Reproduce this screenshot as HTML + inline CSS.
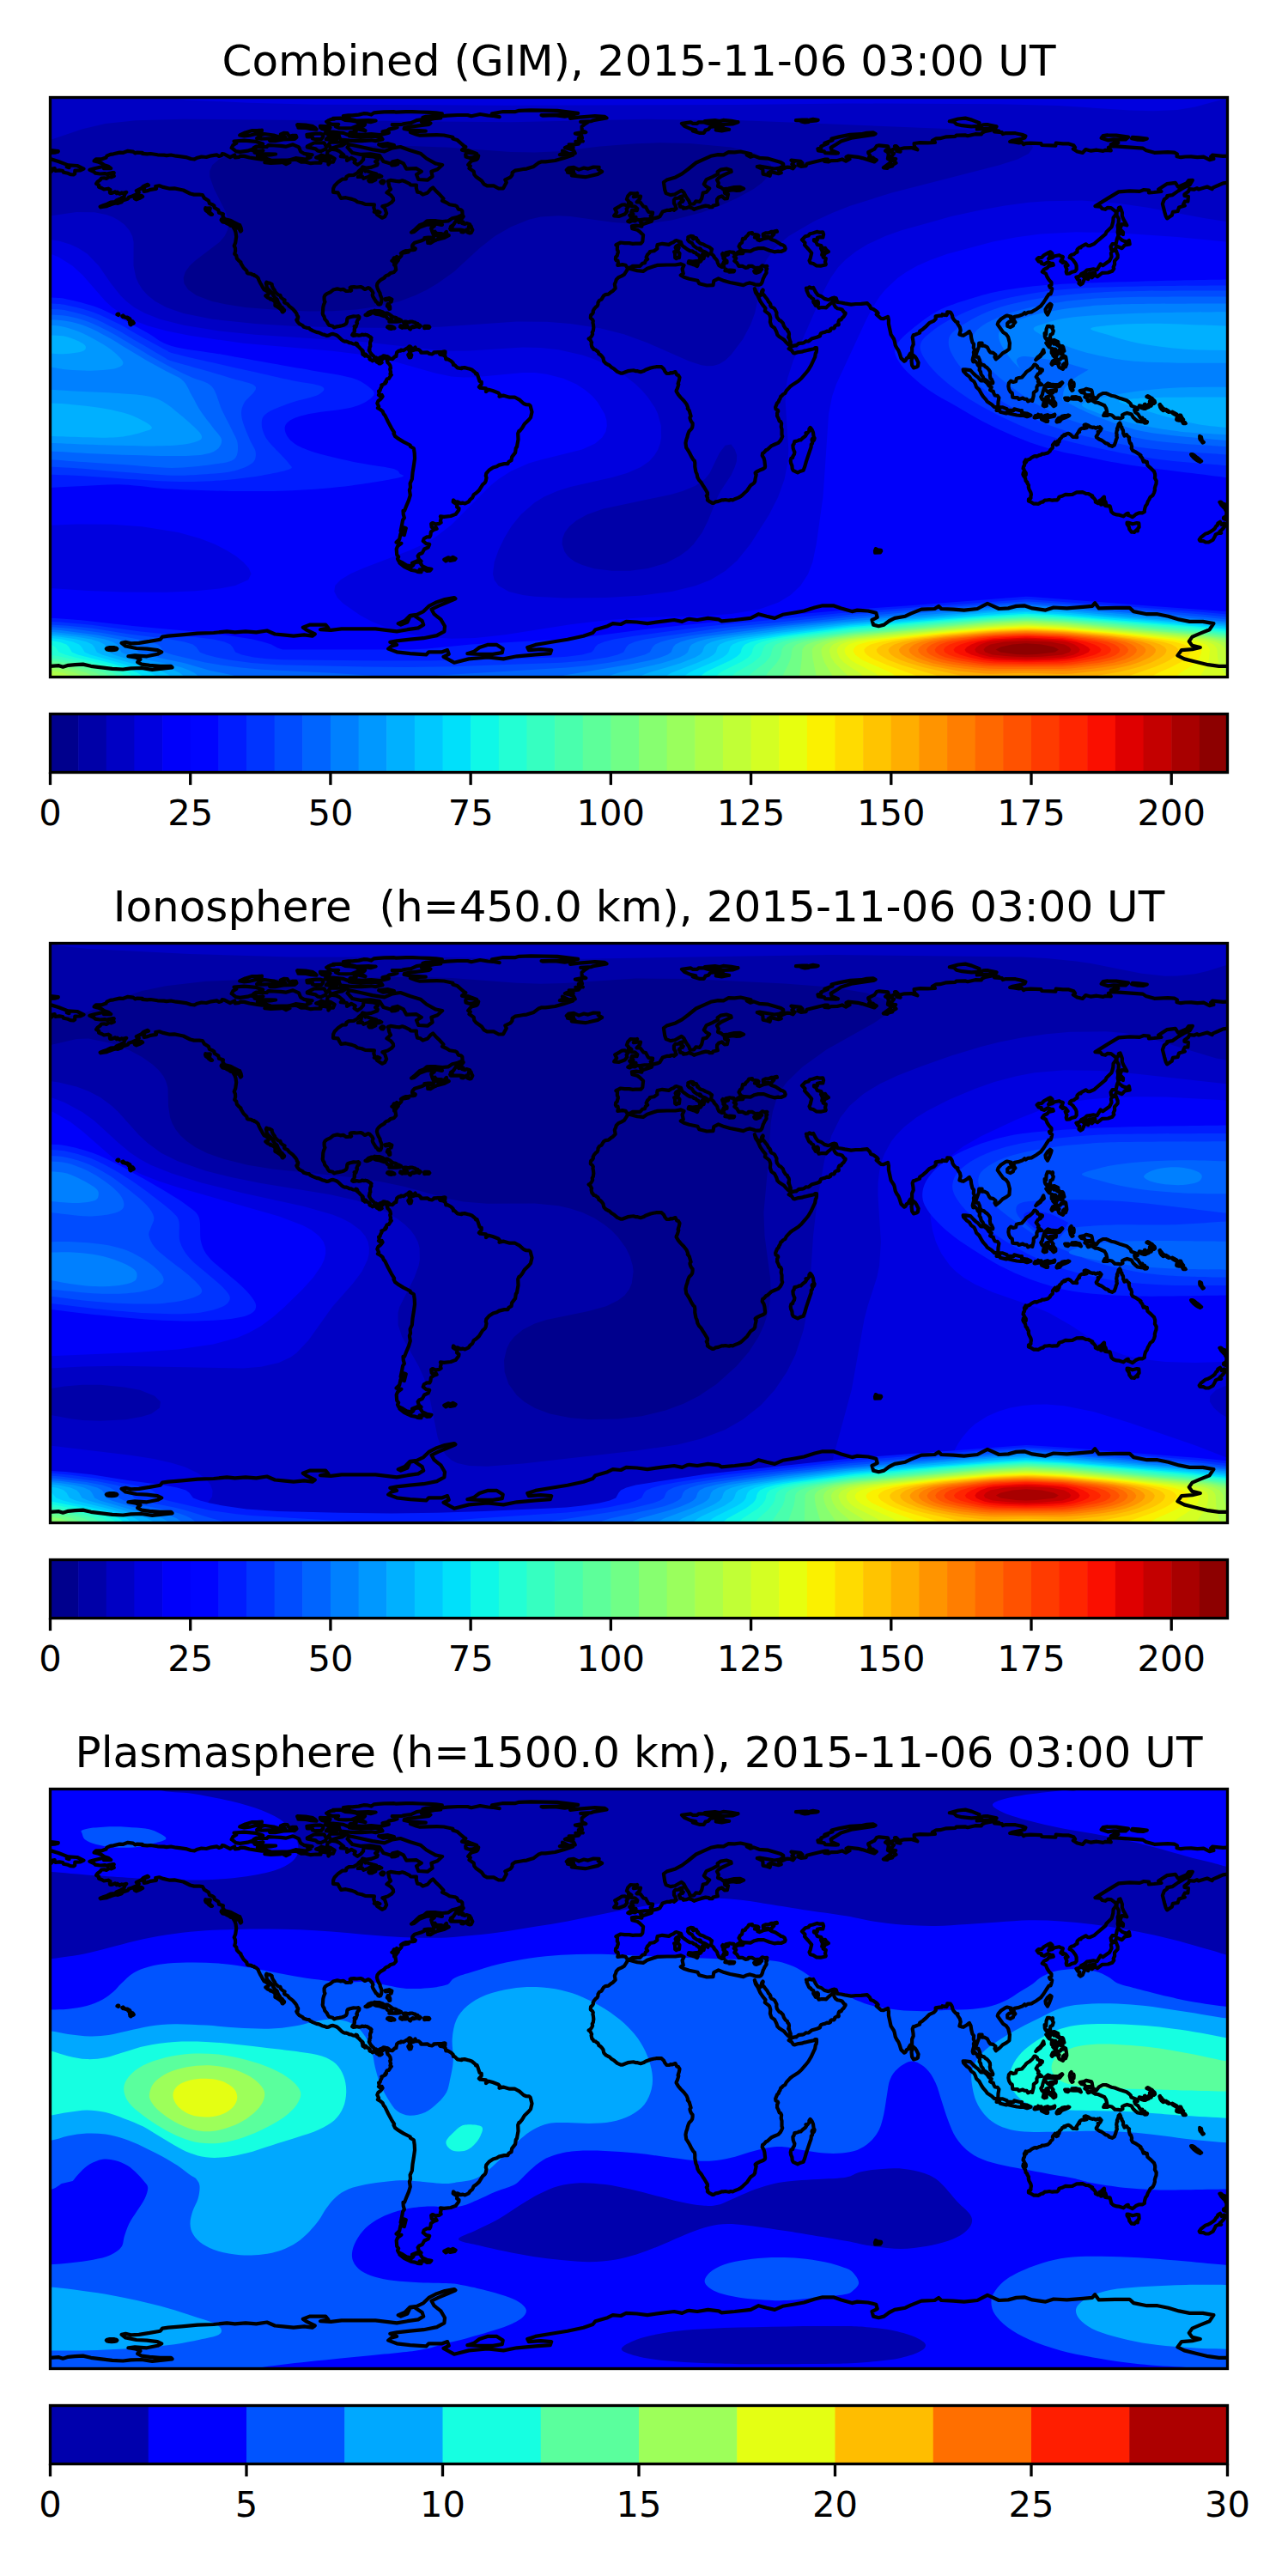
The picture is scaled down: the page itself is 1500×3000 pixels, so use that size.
<!DOCTYPE html><html><head><meta charset="utf-8"><title>TEC maps</title><style>html,body{margin:0;padding:0;background:#fff}svg{display:block}</style></head><body><svg width="1500" height="3000" viewBox="0 0 1500 3000" font-family="'DejaVu Sans','Liberation Sans',sans-serif" fill="#000"><defs><clipPath id="cp"><rect x="0" y="0" width="1371" height="675"/></clipPath><path id="coast" d="M672.3 199.8L674.3 199.3L683.6 201.6L690.5 202.4L695.2 199.3L706.7 195.4L718.3 195.0L728.0 195.0L734.5 193.9L738.0 195.4L736.1 199.7L737.3 205.1L734.2 207.0L738.0 209.3L744.2 211.2L753.9 213.2L755.8 216.7L764.7 219.0L772.0 218.6L772.8 213.6L778.2 210.9L784.8 213.6L791.7 215.5L801.4 217.4L807.2 218.6L811.4 216.7L814.9 215.9L818.7 217.0L821.4 218.2L825.7 218.2L827.6 217.4M829.9 224.0L828.8 225.5L828.0 228.6L827.0 230.6L826.1 231.1L824.9 229.8L823.0 228.2L820.3 222.6L821.4 227.1L824.0 230.9L826.8 237.1L829.6 241.4L833.0 245.6L832.3 248.7L836.9 252.2L837.7 253.0L838.8 256.8L838.4 261.5L840.0 266.1L843.5 268.4L845.8 273.0L846.9 276.5L848.9 278.4L854.3 281.9L856.2 284.2L859.7 287.7L861.6 288.9L862.4 290.0L862.4 291.7L860.1 292.7L861.6 293.5L863.2 294.3L865.5 297.6L867.4 297.8L871.3 296.6L875.1 296.2L878.6 295.1L880.5 294.7L884.0 293.9L889.4 292.7L891.0 291.6L892.5 291.6L892.5 294.7L892.1 297.0L891.3 298.1L890.6 302.4L888.6 306.6L886.3 311.7L882.8 317.5L879.4 321.7L875.1 326.7L871.3 330.2L865.5 333.9L861.6 336.8L857.4 341.4L855.8 344.5L853.1 346.0L852.0 347.6L850.8 348.0L850.0 350.7L848.9 352.2L848.1 354.5L846.5 356.1L844.6 360.7L845.0 363.0L847.3 364.2L847.7 365.3L846.5 367.7L846.7 368.8L846.5 370.7L847.7 373.1L849.2 376.9L850.8 377.7L851.6 379.6L851.2 383.5L852.0 386.6L852.0 392.8L852.7 394.7L851.6 397.4L850.0 400.1L847.7 402.4L843.8 404.0L839.6 405.9L835.3 410.1L833.8 410.5L831.1 413.6L829.6 414.4L829.2 417.1L831.1 420.2L831.9 423.3L832.6 429.5L832.3 431.0L830.3 432.5L827.2 433.7L822.6 436.0L821.1 437.2L821.4 438.7L822.2 439.1L821.8 441.0L821.1 444.1L820.7 447.2L819.5 449.1L816.8 451.1L816.0 451.5L814.5 453.4L813.3 455.3L811.4 458.0L806.8 462.3L804.1 464.6L801.4 466.1L797.1 467.7L795.2 468.8L794.8 468.8L792.5 468.5L790.5 469.2L786.3 468.5L783.9 468.8L782.4 468.8L778.2 470.4L775.1 470.8L772.8 472.3L770.8 472.3L769.3 471.2L768.1 470.8L766.2 469.2L766.2 469.6L765.4 468.8L765.6 466.5L764.3 463.8L765.4 463.1L765.4 460.3L763.1 456.5L761.2 453.4L761.0 453.3L758.1 448.4L755.4 445.3L753.9 442.6L753.1 438.7L751.9 436.0L750.8 430.2L750.8 425.6L750.4 423.3L748.8 421.7L746.9 418.6L744.6 414.0L742.3 410.1L740.7 407.8L740.3 404.7L740.0 402.4L740.7 398.9L741.9 395.5L742.3 393.5L743.4 390.1L744.2 388.5L746.5 386.2L747.7 384.3L748.1 381.6L748.1 379.2L746.9 378.1L745.7 375.8L745.0 373.5L745.0 372.5L746.1 371.1L745.0 367.3L744.2 364.6L742.3 362.3L742.7 361.5L742.3 360.3L741.1 357.2L738.0 353.3L734.2 349.4L731.5 346.2L729.1 342.2L729.3 340.9L730.1 339.7L731.0 336.9L731.8 334.0L731.1 333.4L732.4 329.1L733.0 326.1L731.5 323.5L729.7 322.9L728.9 321.1L727.9 320.5L728.0 319.5L724.0 320.9L722.5 320.7L721.0 321.5L717.9 321.5L715.9 319.0L714.6 316.3L711.9 313.7L708.9 313.7L705.5 313.7L702.4 314.2L699.2 315.0L693.2 317.3L691.1 318.6L687.6 319.7L684.1 318.7L682.4 318.7L679.7 317.9L677.2 318.0L672.6 318.7L669.9 319.7L666.1 321.2L665.4 321.1L664.4 321.1L660.4 319.3L656.9 316.3L653.6 314.2L651.0 311.7L649.9 311.4L647.2 309.9L645.1 307.8L644.5 306.4L644.0 303.6L642.3 301.3L640.8 299.7L639.8 299.2L638.8 298.5L638.4 296.8L637.8 295.9L636.7 295.3L634.7 293.7L633.0 293.4L632.2 292.3L632.2 291.7L631.0 290.9L630.7 290.1L630.1 287.1L630.6 285.4L629.0 282.4L627.1 281.0L628.8 280.3L630.7 277.6L631.6 275.6L631.2 273.5L632.3 271.6L632.8 268.0L632.4 264.2L631.9 262.3L632.3 260.3L631.3 258.5L629.3 256.8L629.4 255.2L629.6 253.4L631.1 252.3L632.4 250.3L632.1 249.0L633.4 246.3L635.6 243.8L636.9 243.2L637.9 241.0L638.0 238.9L639.4 236.5L642.0 235.1L644.4 231.2L646.4 229.6L650.0 229.2L653.1 226.6L655.0 225.5L658.2 222.3L657.3 217.5L658.7 214.2L659.2 212.2L661.7 209.6L665.6 207.8L668.5 206.2L671.1 202.2L672.3 199.8M396.4 304.4L398.4 304.6L401.3 301.9L402.9 301.5L403.0 300.2L403.7 296.9L405.9 295.1L408.3 295.1L408.6 294.2L411.6 294.6L414.7 292.6L416.2 291.7L418.1 289.9L419.4 290.1L420.4 291.2L419.7 292.4L417.2 293.1L418.6 295.6L418.5 297.6L416.8 299.8L418.3 302.9L420.0 302.6L420.8 299.8L419.6 298.5L419.4 295.6L424.2 294.0L423.7 292.2L425.0 291.0L426.4 293.7L429.1 293.7L431.7 295.9L431.8 297.2L435.2 297.2L439.4 296.8L441.6 298.5L444.6 299.0L446.7 297.8L446.8 296.8L451.5 296.6L456.2 296.5L452.9 297.7L454.2 299.5L457.3 299.8L460.2 301.7L460.8 304.8L462.9 304.7L464.4 305.6L466.9 307.0L469.3 309.5L469.4 311.5L470.9 311.6L472.9 313.5L474.4 314.9L479.1 315.6L479.5 314.9L482.6 314.6L486.8 315.7L488.1 316.1L490.9 317.0L495.0 320.3L495.6 321.9L497.0 321.7L497.9 323.8L500.1 330.6L502.2 331.2L502.2 333.9L499.4 337.1L500.6 338.2L507.4 338.8L507.5 342.7L510.5 340.2L515.3 341.6L521.7 343.9L523.6 346.2L523.0 348.3L527.5 347.1L535.0 349.2L540.8 349.0L546.5 352.2L551.4 356.5L554.4 357.7L557.7 357.8L559.1 359.0L560.4 364.0L561.0 366.3L559.5 372.7L557.5 375.2L552.1 380.6L549.6 384.9L546.8 388.3L545.8 388.4L544.7 391.2L545.0 398.4L543.9 404.4L543.5 406.9L542.3 408.4L541.6 413.6L537.7 418.6L537.0 422.7L533.9 424.3L533.0 426.6L528.8 426.6L522.7 428.1L520.0 429.8L515.7 431.0L511.1 434.0L507.8 437.9L507.3 440.7L508.0 442.9L507.2 446.8L506.3 448.6L503.6 450.8L499.4 457.6L496.0 460.7L493.3 462.5L491.6 466.1L489.0 468.3L487.3 470.8L483.0 472.9L480.2 472.1L478.0 472.6L474.5 470.9L471.9 471.0L469.5 468.9L469.2 470.9L474.1 474.2L473.6 476.9L476.0 478.5L475.8 480.4L472.1 485.4L466.4 487.5L458.6 488.3L454.4 487.9L455.2 490.2L454.4 493.1L455.1 495.0L452.8 496.4L448.9 496.9L445.2 495.5L443.7 496.5L444.2 500.4L446.8 501.5L448.9 500.3L450.1 502.3L446.5 503.5L443.4 505.9L442.9 509.8L441.9 511.9L438.3 511.9L435.3 513.8L434.2 516.7L437.9 519.6L441.7 520.4L440.3 523.8L435.7 526.0L433.2 530.5L429.7 532.0L428.1 533.8L429.4 537.9L432.0 540.1L430.3 539.9L426.9 539.9L425.0 540.8L421.5 542.2L420.9 545.8L419.3 545.9L414.9 544.7L410.5 542.0L405.7 539.7L404.5 537.3L405.6 535.0L403.7 532.5L403.2 525.9L404.8 522.2L408.9 519.2L403.0 518.1L406.7 514.6L408.0 508.2L412.3 509.6L414.3 501.6L411.7 500.6L410.5 505.4L408.1 504.8L409.3 499.3L410.6 492.2L412.4 489.5L411.3 485.8L411.0 481.4L412.6 481.3L415.0 475.1L417.6 468.9L419.3 463.1L418.4 457.3L419.5 454.2L419.1 449.4L421.3 444.7L422.0 437.2L423.3 429.2L424.5 420.5L424.2 414.2L423.4 408.8L419.5 406.5L419.2 405.0L411.5 401.1L404.6 396.9L401.6 394.5L400.0 391.3L400.6 390.2L397.4 385.1L393.6 378.0L389.9 370.3L388.3 368.5L387.1 365.7L384.1 363.2L381.4 361.6L382.6 359.9L380.8 356.2L381.9 353.5L385.0 351.1L387.1 348.2L386.2 346.5L384.8 348.3L382.5 346.6L383.3 345.5L382.6 342.0L384.0 341.4L384.7 339.0L386.1 336.5L385.8 334.9L388.0 334.1L390.6 332.6L390.1 331.4L391.5 331.1L391.4 329.2L392.3 327.8L394.2 327.5L395.8 325.1L397.3 323.1L395.9 322.1L396.6 319.9L395.7 316.4L396.5 315.3L395.9 312.1L394.4 310.0L393.1 308.9L392.3 306.8L393.2 305.8L392.2 305.5L391.5 304.2L389.6 303.2L387.9 303.4L387.1 304.8L385.6 305.8L384.7 305.9L384.3 306.7L386.2 308.8L385.1 309.3L384.6 309.8L382.8 310.0L382.1 307.7L381.6 308.4L380.3 308.1L379.6 306.6L378.0 306.3L377.0 305.9L375.3 305.9L375.2 306.8L374.7 306.1L372.6 305.3L371.9 304.5L372.3 303.8L372.2 303.0L371.1 302.0L369.6 301.3L368.2 300.8L368.0 299.7L367.0 299.0L367.2 300.1L366.5 301.0L365.6 300.0L364.3 299.6L363.8 298.8L363.8 297.6L364.3 296.4L363.3 295.8L364.1 295.1L362.8 293.9L361.0 292.3L360.1 291.0L358.5 289.8L356.6 288.1L357.0 287.5L357.7 288.1L357.9 287.8L357.3 286.6L356.1 286.2L355.7 287.1L353.4 287.1L352.1 286.7L350.4 285.9L348.3 285.7L347.2 284.9L345.2 284.2L342.8 284.1L341.1 283.4L339.0 281.8L334.6 277.6L332.6 276.4L329.5 275.4L327.3 275.6L324.2 277.1L322.2 277.5L319.5 276.4L316.6 275.7L313.0 273.9L310.1 273.4L305.8 271.6L302.5 269.8L301.5 268.7L299.4 268.5L295.4 267.3L293.8 265.5L289.7 263.3L287.8 260.9L286.8 259.0L288.1 258.6L287.7 257.5L288.6 256.5L288.6 255.2L287.3 253.5L287.0 251.9L285.7 250.0L282.3 246.1L278.4 243.1L276.5 240.7L273.2 239.1L272.5 238.2L273.1 235.8L271.1 234.9L268.8 233.0L267.9 230.3L265.8 230.0L263.5 228.0L261.7 226.1L261.6 224.9L259.5 222.0L258.1 219.0L258.2 217.5L255.4 216.0L254.1 216.2L251.9 215.1L251.3 216.7L251.9 218.5L252.3 221.4L253.6 223.0L256.5 225.7L257.1 226.6L257.7 226.9L258.2 228.2L258.9 228.1L259.7 230.6L260.8 231.6L261.7 233.0L264.1 235.0L265.4 238.6L266.5 240.3L267.6 242.0L267.8 244.1L269.7 244.2L271.2 246.0L272.6 247.7L272.5 248.4L270.9 249.8L270.2 249.8L269.2 247.4L266.7 245.2L263.9 243.4L261.9 242.4L262.0 239.6L261.5 237.5L259.6 236.3L257.0 234.5L256.4 235.0L255.5 234.0L253.1 233.1L250.8 230.9L251.1 230.6L252.7 230.8L254.1 229.3L254.3 227.6L251.3 224.8L249.0 223.8L247.6 221.4L246.2 218.8L244.4 215.7L242.8 212.3L242.1 210.3L239.7 208.1L237.9 207.6L237.4 206.5L235.3 206.3L233.9 205.3L230.3 204.9L229.3 204.3L228.9 202.1L225.1 198.3L221.9 192.9L222.0 192.0L220.3 190.7L217.3 187.5L216.8 184.3L214.7 182.2L215.6 179.0L215.5 175.7L214.2 172.7L215.7 169.1L216.7 162.1L216.0 157.0L214.7 153.6L213.6 151.9L214.1 151.1L219.7 152.4L221.7 156.0L222.7 155.0L222.1 151.9L220.8 148.7L220.2 148.7L212.8 144.9L210.0 143.2L203.0 141.6L200.9 138.2L201.4 135.8L196.5 134.2L195.8 131.1L191.1 128.3L191.0 126.3L188.9 124.8L185.5 123.6L184.4 120.2L179.4 117.1L177.3 113.5L173.6 113.2L167.5 113.1L163.0 112.0L155.0 108.0L151.3 107.2L144.6 105.9L139.2 106.2L131.6 104.4L127.0 102.8L122.7 103.6L123.5 106.3L121.4 106.6L116.9 107.3L113.5 108.6L109.2 109.4L108.7 107.2L110.4 103.4L114.5 102.2L113.5 101.3L108.5 103.4L105.9 106.0L100.3 108.7L103.2 110.6L99.5 113.3L95.4 115.0L91.5 116.2L90.5 117.9L84.5 119.9L83.3 121.7L78.8 123.3L76.1 123.0L72.5 124.1L68.6 125.4L65.4 126.7L58.7 127.8L58.2 127.2L62.4 125.4L66.2 124.2L70.3 122.1L75.1 121.6L77.0 120.0L82.3 117.7L83.2 116.9L86.0 115.6L86.7 112.7L88.7 110.4L84.2 111.5L83.0 110.9L80.9 112.3L78.4 110.3L77.3 111.7L75.8 109.8L72.0 111.3L69.6 111.3L69.3 109.0L70.0 107.6L67.5 106.2L62.5 107.0L59.2 105.2L56.6 104.2L56.6 102.1L53.6 100.4L55.1 98.2L58.2 96.0L59.6 94.0L62.8 93.8L65.4 94.4L68.5 92.5L71.3 92.8L74.3 91.6L73.5 89.9L71.4 89.2L74.2 87.7L71.9 87.7L67.8 88.6L66.6 89.4L63.5 88.6L58.1 89.0L52.4 88.1L50.8 86.5L45.9 84.3L51.3 82.7L60.0 80.8L63.1 80.8L62.6 82.7L70.8 82.6L67.6 80.2L62.9 78.7L60.1 76.8L56.4 75.2L51.1 73.9L53.3 71.9L60.1 71.8L65.0 70.0L65.9 68.1L69.9 66.3L73.6 65.8L80.9 64.1L84.5 64.4L90.4 62.3L96.3 63.1L99.1 64.9L100.8 64.1L107.3 64.4L107.1 65.3L113.0 65.9L116.9 65.5L125.1 66.8L132.5 67.1L135.5 67.6L140.6 67.0L146.5 68.2L150.7 68.7L157.9 69.6L163.9 71.5L168.0 71.8L171.4 70.2L176.1 69.0L181.8 69.5L187.6 67.8L193.9 66.9L196.5 68.4L199.4 67.5L200.3 65.7L202.9 66.1L209.5 69.6L214.6 67.0L215.2 69.9L219.9 69.3L221.4 68.1L226.0 68.4L232.0 70.0L241.0 71.4L246.3 72.1L250.1 71.8L255.3 73.8L249.9 75.7L256.8 76.5L267.2 76.0L270.5 75.4L274.7 77.7L278.9 75.7L274.9 74.1L277.4 72.8L282.1 72.6L285.2 72.2L288.3 73.1L292.2 75.2L296.5 74.9L303.4 76.7L309.3 76.0L315.0 76.2L314.5 73.8L318.0 73.1L323.9 74.4L323.9 78.1L326.4 75.0L329.5 75.1L331.2 71.2L327.1 68.8L322.6 67.2L322.9 63.0L327.5 60.2L332.6 60.8L336.5 62.5L341.7 66.9L338.3 68.7L345.5 69.5L345.5 73.5L350.6 70.4L355.2 72.9L354.1 75.8L357.8 78.4L361.8 75.6L364.6 72.3L364.9 68.0L370.4 68.3L376.1 68.9L381.3 70.8L381.5 72.7L378.6 74.8L381.3 76.9L380.8 78.7L373.3 81.4L367.9 82.0L363.9 80.9L362.8 82.8L359.0 86.1L357.9 87.7L353.4 90.4L347.9 90.6L344.9 92.3L344.6 94.8L340.1 95.2L335.4 98.4L331.2 102.7L329.7 105.8L329.5 110.3L335.1 110.9L336.9 114.5L338.7 117.4L344.1 116.7L351.3 118.4L355.1 119.8L357.9 121.7L362.8 122.7L366.8 124.4L373.2 124.6L377.4 124.9L376.8 128.3L378.0 132.2L380.8 136.5L386.5 140.2L389.5 138.9L391.6 134.9L389.6 128.8L386.9 126.8L393.0 125.0L397.4 122.3L399.6 119.6L399.3 117.0L396.6 113.7L391.9 110.8L396.5 106.8L394.8 103.3L393.5 97.2L396.2 96.4L402.8 97.4L406.8 97.8L410.0 96.8L413.6 98.1L418.3 100.3L419.5 101.8L426.4 102.1L426.3 105.4L427.6 110.2L431.1 110.8L433.9 113.1L439.5 111.0L443.2 106.7L445.7 104.9L448.8 108.4L453.8 113.3L458.0 117.9L456.5 120.3L461.6 122.5L465.1 124.7L471.2 125.7L473.7 126.9L475.3 130.2L478.3 130.7L479.8 132.2L480.1 136.5L477.3 138.0L474.5 139.3L468.2 140.7L463.3 143.9L456.8 144.5L448.5 143.7L442.7 143.7L438.7 143.9L435.5 146.7L430.6 148.4L425.0 153.6L420.6 157.1L423.8 156.4L430.0 151.4L438.1 148.2L443.9 147.8L447.3 149.7L443.7 152.3L444.9 156.4L446.2 159.3L451.2 161.3L457.6 160.7L461.4 156.4L461.7 159.2L464.2 160.6L459.4 163.1L450.9 165.4L447.0 167.0L442.7 169.7L439.8 169.5L439.6 166.2L446.3 163.0L440.1 163.1L435.9 163.6L436.6 164.9L432.4 166.7L428.4 168.1L424.4 169.2L422.3 171.5L421.7 172.4L421.6 174.4L422.9 176.5L424.5 176.6L424.1 175.1L425.3 176.0L424.9 177.1L422.3 177.7L420.5 177.7L417.6 178.3L415.9 178.5L413.7 178.7L410.5 179.9L416.2 179.1L417.3 179.9L411.9 181.0L409.4 181.0L409.6 180.5L408.4 181.6L409.5 181.8L408.7 184.6L405.9 187.5L405.6 186.5L404.7 186.3L403.5 185.4L404.3 187.5L405.2 188.2L405.3 189.6L404.0 191.1L401.9 194.2L401.5 194.0L402.7 191.4L400.8 189.9L400.3 186.7L399.6 188.4L400.4 190.9L397.8 190.2L400.5 191.5L400.6 195.1L401.8 195.4L402.1 196.8L402.7 200.6L400.3 203.5L396.2 204.6L393.7 206.9L391.8 207.2L389.8 208.6L389.3 209.9L385.0 212.4L382.9 214.2L381.0 216.5L380.4 219.2L381.1 221.9L382.4 225.2L384.1 228.0L384.2 229.6L386.0 234.1L385.8 236.7L385.7 238.2L384.7 240.6L383.6 241.1L381.7 240.6L381.1 238.9L379.6 238.0L377.5 234.7L375.7 231.7L375.2 230.2L376.0 227.7L374.9 225.5L371.9 222.3L370.4 221.7L366.5 223.5L365.8 223.3L363.9 221.5L361.5 220.5L357.1 221.0L353.7 220.6L350.7 220.8L349.2 221.4L349.9 222.5L349.8 224.0L350.6 224.8L349.9 225.3L348.4 224.7L347.0 225.5L344.2 225.3L341.3 223.3L337.9 223.8L335.1 222.9L332.7 223.2L329.5 224.1L326.0 226.9L322.1 228.6L320.0 230.4L319.1 232.2L319.1 234.8L319.3 236.7L320.0 238.0L318.5 241.4L317.8 244.2L317.5 249.4L317.2 251.3L317.8 253.3L319.0 255.2L319.8 258.2L322.4 261.1L323.3 263.3L324.8 265.2L328.9 266.2L330.5 267.9L333.9 266.8L336.8 266.4L339.7 265.7L342.1 265.0L344.6 263.5L345.5 261.2L345.8 257.9L346.5 256.8L349.1 255.8L353.2 254.9L356.6 255.0L359.0 254.7L359.9 255.5L359.7 257.4L357.7 259.7L356.8 262.0L357.5 262.7L356.9 264.4L355.9 267.4L355.0 266.4L354.1 266.5L354.1 267.1L354.9 267.1L354.8 268.1L354.2 269.8L354.5 270.4L354.1 271.8L354.4 272.1L353.9 274.1L353.2 275.1L352.5 275.2L351.7 276.6L353.0 277.3L353.3 276.7L354.4 277.2L354.8 277.3L355.7 276.7L356.8 276.6L357.2 276.9L357.7 276.7L359.5 277.1L361.3 277.0L362.6 276.6L363.0 276.1L364.3 276.3L365.2 276.6L366.2 276.5L367.0 276.2L368.7 276.7L369.3 276.7L370.5 277.5L371.6 278.4L373.0 279.0L374.0 280.0L373.7 280.4L373.5 281.2L373.9 282.7L373.0 284.0L372.6 285.5L372.5 287.2L372.7 288.2L372.8 290.0L372.2 290.3L371.8 292.0L372.1 293.0L371.3 294.0L371.5 295.1L372.1 295.7L373.1 297.8L374.5 299.3L376.3 301.0L377.7 302.4L377.7 303.2L379.2 303.4L379.6 303.0L380.6 304.0L382.5 303.7L384.2 302.7L386.5 302.0L387.9 300.8L390.0 301.0L389.8 301.4L392.0 301.5L393.7 302.2L395.0 303.4L396.4 304.4M672.5 198.8L670.0 195.3L666.4 194.6L660.8 195.5L661.4 192.5L661.0 190.1L659.3 189.8L658.4 188.3L658.7 185.8L660.2 184.4L660.5 182.8L661.3 180.5L661.2 178.9L660.4 177.5L660.3 176.2L660.5 173.4L658.9 171.7L664.3 169.0L669.1 169.7L674.3 169.7L678.4 170.3L681.6 170.1L687.8 170.2L689.8 167.9L690.6 160.2L686.5 156.2L683.7 154.2L677.8 152.7L677.4 149.9L682.4 149.1L688.9 150.1L687.7 145.7L691.3 147.3L700.3 144.3L701.5 141.2L704.8 140.4L707.9 139.6L709.9 138.6L713.3 132.9L718.6 131.3L721.8 131.4L722.6 130.6L725.8 130.3L726.5 131.2L729.1 129.3L728.3 127.8L728.1 125.7L726.5 123.5L726.4 119.6L727.1 118.5L728.1 117.4L731.5 117.1L732.9 116.1L736.0 115.0L735.9 116.9L734.7 118.2L735.2 119.3L737.3 119.9L736.4 121.3L735.2 120.9L732.4 123.7L733.5 125.6L733.5 127.1L737.4 128.0L737.4 129.3L741.3 128.6L743.5 127.6L747.9 129.1L749.7 130.3L752.3 129.2L758.3 127.4L763.2 126.1L767.1 126.7L767.4 127.7L771.1 127.7L772.0 126.0L777.3 124.8L776.5 121.5L776.6 118.6L778.5 116.2L782.1 114.9L785.2 117.8L788.3 117.7L789.0 114.7L789.5 112.5L788.1 112.9L785.6 111.6L785.3 109.3L790.2 108.3L795.0 107.7L799.2 108.3L803.2 108.2L807.6 106.1L803.6 104.3L796.6 104.6L789.8 106.0L783.5 106.8L781.2 104.7L777.5 103.4L778.3 99.6L776.5 96.1L778.3 93.9L781.8 91.5L790.7 87.3L793.2 86.5L792.8 84.8L787.5 83.0L780.8 84.1L777.1 86.8L777.7 89.2L771.5 92.3L764.1 95.6L761.3 101.0L764.0 103.7L767.7 105.9L764.2 110.3L760.2 111.1L758.7 117.6L756.5 121.3L751.8 120.9L749.6 123.9L745.1 124.1L743.9 120.5L740.7 116.1L737.8 110.6L735.2 108.3L727.5 112.7L722.4 113.6L717.1 111.6L715.7 107.5L714.4 98.6L718.0 96.1L728.2 92.9L735.8 88.9L742.9 83.5L752.2 76.0L758.6 73.1L769.2 68.3L777.7 66.6L784.1 66.8L790.0 63.6L797.0 63.8L803.9 63.0L816.0 65.8L811.1 66.9L815.3 69.3L819.2 67.9L825.6 70.3L836.2 71.2L850.8 75.6L853.7 77.4L854.0 80.0L849.7 82.0L843.4 83.0L826.2 80.1L823.3 80.6L829.6 83.4L829.9 85.2L830.1 89.2L835.1 90.3L838.1 91.3L838.6 89.5L836.3 87.8L838.7 86.4L848.1 88.7L851.3 87.8L848.7 85.0L857.7 81.2L861.3 81.4L864.9 82.8L867.1 80.1L863.9 77.8L865.8 75.5L863.0 73.1L873.8 74.3L876.0 76.5L871.1 77.0L871.1 79.1L874.2 80.4L880.1 79.6L881.1 77.2L889.1 75.3L902.6 72.0L905.5 72.2L901.7 74.5L906.5 74.9L909.3 73.6L916.5 73.5L922.2 71.9L926.6 74.2L931.0 71.7L927.0 69.4L929.0 68.2L940.4 69.3L945.8 70.6L959.7 75.0L962.3 72.9L958.4 70.9L958.3 70.1L953.6 69.7L954.9 67.9L952.8 64.8L952.7 63.6L959.9 60.1L962.4 56.6L965.3 55.8L975.5 56.8L976.3 59.0L972.6 62.1L975.0 63.4L976.3 66.1L975.4 71.4L979.7 73.7L978.0 76.3L970.4 81.8L974.8 82.4L976.4 81.0L980.6 80.0L981.7 78.1L985.0 76.2L982.8 74.0L984.6 71.5L980.3 71.2L979.4 69.0L982.5 65.2L977.5 62.0L984.4 59.4L983.5 56.7L985.4 56.6L987.4 58.7L985.9 62.4L990.1 63.1L988.3 60.4L994.8 58.8L1002.8 58.6L1009.9 60.8L1006.5 57.6L1006.1 53.5L1012.8 52.7L1022.1 52.9L1030.5 52.4L1027.3 50.4L1031.8 47.8L1036.2 47.7L1043.7 45.8L1053.9 45.3L1055.2 44.2L1065.4 43.9L1068.5 44.7L1077.2 42.7L1084.3 42.8L1085.4 41.1L1089.0 39.4L1098.2 37.8L1104.8 39.1L1099.5 40.0L1108.3 40.7L1109.3 42.6L1112.8 41.6L1124.1 41.7L1132.8 43.6L1135.9 45.0L1135.0 47.0L1130.7 48.2L1120.6 50.3L1117.7 51.4L1122.4 52.0L1128.2 52.9L1131.6 52.2L1133.6 54.7L1135.3 53.7L1141.5 53.1L1153.9 53.7L1154.8 55.5L1170.9 56.1L1171.2 53.1L1179.4 53.8L1185.5 53.8L1191.8 55.8L1193.5 58.3L1191.3 59.9L1196.1 63.0L1202.2 64.5L1205.9 60.5L1212.1 62.2L1218.7 61.2L1226.2 62.4L1229.0 61.3L1235.3 61.8L1232.5 58.2L1237.6 56.6L1272.5 59.1L1275.8 61.4L1285.9 64.3L1301.5 63.6L1309.2 64.2L1312.4 65.8L1312.0 68.7L1316.7 69.7L1321.9 69.0L1328.7 68.9L1336.0 69.6L1343.3 69.2L1350.1 72.6L1354.9 71.4L1351.7 68.9L1353.4 67.2L1365.7 68.3L1373.8 68.0L1384.9 69.9L1390.3 71.6M0.0 71.6L9.5 74.5L19.6 78.4L19.3 80.8L21.9 81.7L21.0 78.9L31.4 79.5L39.0 83.1L35.2 84.8L28.8 85.2L28.7 89.0L27.2 89.8L23.6 89.7L20.7 88.3L15.5 87.2L14.6 85.5L10.7 84.9L6.3 85.4L4.2 84.0L5.1 82.6L0.5 83.5L2.2 85.3L0.0 87.0M1390.3 87.0L1385.3 88.7L1380.3 88.4L1383.8 90.4L1386.1 93.7L1387.9 94.7L1388.3 96.3L1387.3 97.3L1380.1 96.5L1369.3 99.4L1365.9 99.8L1360.0 102.5L1354.4 104.9L1353.0 106.7L1347.4 104.0L1337.4 107.0L1335.6 105.6L1331.9 107.2L1326.7 106.7L1325.5 109.3L1320.9 113.0L1321.0 114.5L1325.4 115.4L1324.9 121.0L1321.3 121.2L1319.6 124.4L1321.3 126.1L1314.5 128.1L1313.1 132.5L1307.4 133.4L1306.2 137.3L1300.7 140.9L1299.2 138.3L1297.6 132.6L1295.4 124.0L1297.3 118.7L1300.6 116.4L1300.8 114.6L1306.7 113.7L1313.6 108.9L1320.3 104.9L1327.2 101.8L1330.3 96.4L1325.7 96.7L1323.3 99.9L1313.5 104.1L1310.4 99.4L1300.4 100.7L1290.7 107.1L1293.9 109.5L1285.3 110.5L1279.4 110.9L1279.6 108.1L1273.6 107.5L1268.8 109.4L1257.0 108.8L1244.3 109.9L1231.8 117.4L1217.0 126.6L1223.1 127.1L1225.0 129.5L1228.7 130.3L1231.2 128.4L1235.4 128.6L1241.0 132.9L1241.2 136.2L1238.1 140.0L1237.8 144.6L1236.1 150.8L1230.2 156.4L1229.0 159.1L1223.7 163.6L1218.5 168.0L1216.0 170.3L1210.9 172.6L1208.4 172.6L1206.0 170.8L1200.8 173.6L1200.2 174.9L1198.8 174.6L1197.1 176.0L1195.9 177.3L1196.1 180.0L1194.1 180.9L1193.4 181.6L1191.9 182.7L1189.4 183.3L1187.7 184.4L1187.6 186.1L1187.1 186.5L1188.6 187.1L1190.8 188.8L1194.2 193.4L1195.1 195.9L1195.2 200.3L1193.7 202.4L1190.2 203.2L1187.1 204.8L1183.7 205.1L1183.2 203.0L1183.9 200.1L1182.2 196.1L1185.1 195.5L1182.4 192.1L1180.6 191.4L1180.1 192.1L1179.0 192.4L1178.8 191.7L1177.8 191.4L1176.8 190.7L1177.9 189.0L1178.8 188.6L1178.4 187.9L1179.4 185.8L1179.1 185.2L1176.9 184.8L1175.1 183.7L1169.7 184.8L1166.8 186.6L1162.6 187.7L1164.7 185.9L1163.9 184.4L1167.0 181.8L1164.9 179.8L1161.6 181.2L1157.2 183.8L1154.8 186.3L1151.0 186.5L1149.1 188.3L1151.1 190.9L1154.3 191.6L1154.4 193.3L1157.4 194.4L1161.8 191.7L1165.2 193.2L1167.7 193.3L1168.3 195.3L1162.8 196.4L1161.1 198.5L1157.3 200.4L1155.3 203.1L1159.5 205.2L1161.0 209.0L1163.3 212.6L1166.0 215.5L1165.9 218.4L1163.5 219.4L1164.4 221.5L1166.7 222.7L1166.1 225.8L1165.1 228.9L1163.0 229.2L1160.1 233.5L1157.0 238.5L1153.4 243.1L1148.1 246.7L1142.7 249.9L1138.4 250.4L1136.0 252.1L1134.7 250.8L1132.5 252.8L1127.1 254.7L1123.0 255.3L1121.7 259.4L1119.5 259.6L1118.5 256.8L1119.4 255.3L1114.3 254.0L1112.4 254.7L1107.3 258.0L1104.1 261.6L1103.2 264.3L1106.2 268.4L1109.8 273.4L1113.3 275.8L1115.6 278.9L1117.4 286.1L1116.9 292.9L1113.7 295.4L1109.2 297.9L1106.1 301.1L1101.3 304.7L1099.9 302.2L1101.0 299.6L1098.1 297.4L1094.9 296.9L1093.3 294.9L1091.3 290.8L1087.9 289.1L1084.6 289.1L1085.1 286.1L1081.7 286.1L1081.4 290.4L1079.3 296.0L1078.1 299.5L1078.3 302.2L1080.9 302.4L1082.4 305.9L1083.1 309.2L1085.3 311.4L1087.6 311.9L1089.6 313.9L1090.5 314.2L1092.8 316.6L1094.4 319.2L1094.6 321.8L1094.2 323.5L1094.6 324.9L1094.9 327.1L1096.2 328.2L1097.8 331.6L1097.7 332.9L1094.9 333.2L1091.3 330.3L1086.7 327.3L1086.3 325.3L1084.1 322.7L1083.5 319.5L1082.1 317.4L1082.5 314.6L1081.7 313.0L1080.2 311.5L1079.5 309.6L1077.5 307.4L1075.6 305.6L1074.9 307.8L1074.2 305.7L1074.6 303.3L1075.8 299.6L1075.4 296.7L1076.6 293.7L1075.3 291.5L1075.6 287.3L1074.0 285.2L1072.8 280.6L1072.1 275.7L1070.4 272.5L1067.9 274.5L1063.5 277.3L1061.3 276.9L1058.9 276.0L1060.2 271.2L1059.4 267.6L1056.4 263.1L1056.9 261.7L1054.6 261.2L1051.9 258.1L1050.8 256.1L1050.6 254.1L1049.8 252.3L1048.2 250.0L1044.7 249.8L1045.0 251.5L1043.8 253.6L1042.2 252.8L1041.6 253.5L1040.5 253.1L1039.0 252.7L1038.4 254.2L1035.8 254.1L1031.1 254.9L1031.3 257.8L1029.2 260.1L1023.7 262.7L1019.3 267.2L1016.4 269.7L1012.6 272.2L1012.6 274.0L1010.6 274.9L1007.2 276.3L1005.3 276.5L1004.2 279.5L1005.0 284.5L1005.2 287.7L1003.6 291.3L1003.6 297.9L1001.6 298.1L999.8 301.0L1001.0 302.3L997.5 303.4L996.2 306.1L994.6 307.1L990.9 303.6L989.2 298.1L987.7 294.2L986.3 292.4L984.3 288.7L983.3 283.9L982.6 281.5L979.1 276.2L977.5 268.7L976.4 263.7L976.4 259.1L975.6 255.4L970.1 257.7L967.3 257.3L962.2 252.6L964.1 251.2L963.0 249.7L958.5 246.4L955.6 245.5L954.5 242.7L951.5 239.7L944.4 240.4L938.1 240.5L932.7 241.1L925.4 239.9L921.2 239.0L916.8 238.5L915.2 233.8L913.3 233.1L910.3 233.8L906.5 235.7L901.7 234.4L897.8 231.4L894.1 230.3L891.5 226.7L888.7 221.5L886.6 222.1L884.2 220.8L882.7 222.3L880.4 222.1L881.2 223.9L880.9 224.7L882.2 227.7L883.7 231.0L885.6 231.9L886.2 233.2L888.8 234.8L889.1 236.4L888.7 237.7L889.2 239.0L890.3 240.1L890.8 241.4L891.4 242.3L891.1 239.5L892.2 237.5L893.2 237.1L894.4 238.3L894.5 240.5L893.6 242.8L894.4 244.3L895.1 244.1L895.2 245.2L898.2 244.5L901.4 244.7L903.7 244.8L906.4 242.1L909.3 239.7L911.7 237.3L912.8 236.0L913.3 236.3L912.9 237.9L912.4 238.6L913.0 241.7L914.7 244.3L916.8 245.7L919.7 246.2L922.0 246.9L923.7 249.1L924.7 250.4L926.1 250.9L926.1 251.8L924.7 254.1L924.1 255.2L922.5 256.4L921.0 259.0L919.3 258.8L918.5 259.8L917.9 261.7L918.3 264.3L918.0 264.8L916.2 264.7L913.8 266.2L913.4 268.1L912.5 268.9L910.1 268.9L908.6 269.8L908.6 271.4L906.8 272.5L904.6 272.1L902.0 273.4L900.3 273.6L897.5 274.7L896.7 276.4L896.6 277.7L892.8 279.3L886.6 281.1L883.2 283.9L881.5 284.0L880.3 283.8L878.0 285.4L875.6 286.2L872.3 286.4L871.4 286.6L870.5 287.6L869.5 287.9L868.9 288.9L867.0 288.8L865.8 289.3L863.1 289.1L862.1 286.9L862.2 284.7L861.6 283.6L860.8 280.8L859.7 279.2L860.5 279.0L860.1 277.2L860.5 276.5L860.4 274.8L859.9 273.2L858.7 272.0L858.4 270.5L856.4 269.1L854.3 265.8L853.3 262.7L850.6 260.0L848.9 259.4L846.3 255.7L845.8 253.0L846.0 250.7L843.8 246.4L842.0 244.9L839.9 244.1L838.6 241.9L838.9 241.1L837.8 239.1L836.7 238.2L835.2 235.3L832.8 232.2L830.8 229.6L828.9 229.6L829.5 227.4L829.7 226.1L830.2 224.5M827.5 217.4L828.6 216.1L829.4 214.1L830.2 211.1L830.7 210.2L832.2 207.0L834.1 204.3L833.8 201.2L834.8 199.6L833.3 197.8L834.8 196.4L832.4 196.7L829.2 195.8L826.6 198.0L820.7 198.5L817.6 196.4L813.4 196.3L812.5 197.9L809.9 198.4L806.1 196.3L801.9 196.3L799.6 192.5L796.8 190.4L798.7 187.3L796.2 185.5L800.5 181.8L806.5 181.7L808.1 178.7L815.5 179.2L820.1 176.7L824.6 175.6L831.0 175.6L837.7 178.3L843.3 179.8L847.7 179.2L851.1 179.5L855.6 177.5L856.2 175.9L855.2 173.2L853.0 171.8L850.9 171.4L849.5 170.2L844.5 166.9L840.1 165.4L836.8 163.2L839.6 162.6L842.8 159.3L840.6 157.8L846.4 156.3L846.2 155.4L842.8 156.0L839.7 156.3L837.1 157.6L833.5 157.8L830.2 159.2L830.4 161.6L832.3 162.6L836.2 162.3L835.5 163.7L831.3 164.4L826.0 166.6L823.9 165.8L824.7 164.0L820.5 162.9L821.2 162.1L824.9 160.9L823.8 160.0L817.7 159.0L817.5 157.5L813.9 158.0L812.5 160.2L809.5 163.0L809.6 164.0L807.7 164.8L806.5 164.5L805.5 169.1L803.4 170.7L802.0 173.5L803.3 175.7L803.8 177.2L807.1 178.4L806.4 179.4L801.8 179.6L800.2 180.8L797.0 182.9L795.7 181.0L795.8 180.3L793.4 180.2L791.4 179.8L786.7 180.8L789.4 183.0L787.5 183.6L785.3 183.6L783.2 181.6L782.6 182.4L783.4 184.8L785.3 186.6L783.9 187.4L786.0 189.2L788.0 190.3L788.0 192.5L784.4 191.5L785.6 193.4L783.1 193.8L784.6 197.3L782.0 197.3L778.8 195.6L777.4 192.6L776.7 190.0L775.2 188.2L773.2 186.0L773.0 184.9L772.3 184.6L772.2 183.8L770.1 182.5L769.8 180.6L770.1 178.0L770.6 176.8L770.0 176.2L769.2 175.9L768.1 174.6L766.4 173.9L762.8 172.4L760.5 171.0L757.0 169.9L753.7 167.1L754.6 166.8L752.8 165.1L752.7 163.8L750.2 163.2L749.0 164.9L747.9 163.6L748.0 162.3L749.0 161.9L745.9 161.3L742.8 162.7L743.0 164.6L742.5 165.7L743.8 167.6L747.4 169.6L749.3 172.8L753.6 175.9L756.7 175.9L757.6 176.7L756.5 177.5L760.0 178.9L762.8 180.0L766.1 182.1L766.5 182.8L765.8 184.2L763.7 182.4L760.3 181.7L758.7 184.2L761.5 185.7L761.0 187.7L759.4 187.9L757.3 191.2L755.7 191.5L755.7 190.4L756.5 188.3L757.4 187.5L755.9 185.2L754.7 183.3L753.1 182.8L751.9 181.1L749.5 180.4L747.8 178.8L744.9 178.6L741.9 176.9L738.4 174.3L735.7 172.1L734.5 168.3L732.6 167.8L729.5 166.6L727.7 167.1L725.5 168.9L723.9 169.2L720.4 171.4L712.8 170.3L707.1 171.5L706.7 173.9L706.9 176.1L703.2 178.7L698.3 179.5L697.9 180.8L695.6 183.0L694.1 186.1L695.6 188.3L693.3 190.0L692.5 192.6L689.6 193.3L686.9 196.3L678.3 196.3L675.9 197.7L673.5 198.9L672.5 198.8M514.6 18.8L527.5 16.5L541.1 16.7L546.0 15.3L559.6 14.9L590.5 15.4L614.6 18.4L607.5 19.9L592.7 20.1L572.0 20.5L573.9 21.2L587.6 20.7L599.2 22.1L606.7 20.9L609.9 22.3L605.7 24.5L615.5 23.1L634.3 21.6L645.8 22.3L648.0 24.0L632.2 26.7L630.1 27.6L617.7 28.3L626.7 28.5L622.2 31.3L619.1 33.8L619.2 38.1L623.8 40.6L617.8 40.8L611.4 42.0L618.6 44.0L619.5 47.3L615.3 47.7L620.3 51.0L611.8 51.3L616.3 52.8L615.0 54.2L609.5 54.8L604.1 54.8L609.0 57.4L609.0 59.2L601.4 57.5L599.4 58.6L604.6 59.6L609.7 61.9L611.2 65.0L604.2 65.8L601.3 64.3L596.5 62.1L597.8 64.7L593.4 66.7L603.5 66.9L608.8 67.1L598.5 70.4L588.0 73.5L576.7 74.8L572.4 74.8L568.4 76.3L563.1 80.4L554.8 83.1L552.1 83.3L546.9 84.2L541.4 85.1L538.1 87.5L538.0 90.2L536.1 92.8L529.8 95.9L531.3 98.9L529.6 102.1L527.6 105.8L522.2 106.0L516.5 102.9L508.8 102.9L505.0 100.8L502.4 97.0L495.8 92.2L493.8 89.7L493.3 86.2L487.9 82.6L489.3 79.8L486.7 78.4L490.5 73.9L496.3 72.5L497.9 70.9L498.7 67.9L494.3 69.2L492.2 69.8L488.7 70.4L484.0 69.1L483.7 66.5L485.2 64.4L488.8 64.3L496.7 65.4L490.0 63.0L486.6 61.6L482.7 62.1L479.5 61.2L483.8 57.6L481.5 56.2L478.4 53.5L473.8 49.4L468.8 47.9L468.9 46.3L458.5 44.0L450.3 43.7L440.0 43.9L430.6 44.2L426.1 42.9L419.4 40.5L429.5 39.3L437.3 39.1L420.8 38.1L412.1 36.5L412.6 35.0L427.2 33.2L441.4 31.3L442.9 29.9L432.5 28.5L435.8 27.0L449.2 24.3L454.8 23.9L453.2 22.1L462.4 21.1L474.2 20.5L486.1 20.5L490.3 21.7L500.6 19.5L509.8 21.0L515.2 21.3L523.2 22.6L514.0 20.5L514.6 18.8M639.1 81.3L638.2 83.8L642.6 86.4L637.6 89.4L626.5 92.0L623.1 92.7L618.0 92.1L607.3 90.9L611.0 89.2L602.6 87.3L609.5 86.6L609.3 85.4L601.2 84.5L603.8 82.0L609.7 81.4L615.7 84.1L621.5 82.0L626.4 83.1L632.7 81.0L639.1 81.3M683.6 111.5L679.4 115.7L683.3 115.1L687.6 115.2L686.6 118.3L683.1 121.8L687.1 122.0L690.9 127.0L693.5 127.6L695.9 132.0L697.0 133.5L701.6 134.2L701.2 136.7L699.2 137.8L700.8 139.8L697.3 141.9L692.1 141.9L685.5 142.9L683.7 142.1L681.2 143.9L677.6 143.5L674.9 145.0L672.8 144.2L678.5 140.2L682.0 139.3L675.9 138.7L674.8 137.1L678.9 135.9L676.7 133.9L677.5 131.3L683.2 131.7L683.8 129.5L681.1 127.0L676.5 126.3L675.5 125.3L676.9 123.5L675.7 122.5L673.6 124.3L673.4 120.6L671.4 118.6L672.8 114.6L675.8 111.5L678.9 111.8L683.6 111.5M671.2 129.9L671.9 132.7L668.9 136.1L662.1 138.4L656.6 137.8L659.7 133.8L657.7 129.8L663.0 126.8L665.9 125.0L669.2 124.9L673.3 127.3L671.2 129.9M886.5 386.1L887.5 387.7L888.5 390.3L889.1 394.9L890.1 396.7L889.7 398.6L889.0 399.7L887.7 397.4L887.0 398.6L887.7 401.5L887.4 403.1L886.3 404.0L886.1 407.2L884.5 411.8L882.7 417.1L880.3 424.4L878.8 429.8L877.1 434.2L873.9 435.2L870.5 436.8L868.3 435.8L865.2 434.4L864.2 432.4L863.9 428.9L862.6 425.9L862.2 423.1L862.9 420.3L864.7 419.6L864.7 418.4L866.5 415.4L866.9 413.0L866.0 411.1L865.2 408.7L864.9 405.2L866.3 403.0L866.8 400.6L868.7 400.4L870.9 399.6L872.3 398.9L874.0 398.9L876.2 396.7L879.4 394.3L880.6 392.3L880.0 390.7L881.6 391.1L883.8 388.5L883.9 386.2L885.1 384.4L886.5 386.1M1249.6 391.1L1251.0 394.1L1253.4 392.6L1254.7 394.3L1256.6 395.8L1256.2 397.5L1257.0 400.8L1257.6 402.7L1258.6 403.2L1259.6 406.5L1259.2 408.5L1260.5 411.1L1264.7 413.2L1267.4 415.0L1270.0 416.7L1269.5 417.6L1271.7 420.0L1273.2 424.2L1274.8 423.3L1276.3 425.0L1277.3 424.4L1277.9 428.5L1280.7 430.9L1282.4 432.4L1285.5 435.5L1286.6 438.6L1286.7 440.8L1286.4 443.2L1288.2 446.5L1288.0 449.9L1287.3 451.7L1286.3 455.1L1286.4 457.3L1285.6 460.1L1283.9 463.6L1281.1 465.5L1279.6 468.5L1278.4 470.4L1277.2 473.7L1275.7 475.7L1274.8 478.6L1274.3 481.2L1274.4 482.5L1272.2 483.8L1267.9 483.9L1264.3 485.5L1262.6 487.0L1260.2 488.7L1257.0 487.0L1254.7 486.3L1255.3 484.3L1253.2 485.0L1249.8 487.8L1246.5 486.8L1244.3 486.1L1242.0 485.9L1238.3 484.8L1235.8 482.4L1235.1 479.4L1234.2 475.9L1232.3 475.9L1228.6 475.4L1229.8 473.6L1228.9 470.7L1227.0 473.4L1223.6 474.1L1225.6 472.0L1226.2 469.7L1227.7 467.8L1227.4 465.0L1224.2 468.3L1221.8 469.6L1220.3 472.7L1217.3 471.1L1217.4 469.0L1215.0 466.2L1213.0 464.8L1213.7 463.9L1208.8 461.5L1206.1 461.4L1202.3 459.6L1195.4 459.9L1190.4 462.4L1186.0 462.6L1182.3 462.4L1178.2 464.3L1174.9 465.2L1174.2 467.2L1172.7 468.8L1169.4 468.9L1167.0 469.2L1163.6 468.5L1160.8 469.0L1158.2 469.2L1155.9 471.2L1154.8 471.0L1152.8 472.1L1150.9 473.3L1148.2 473.2L1145.6 473.2L1141.4 470.7L1139.4 470.0L1139.5 467.8L1141.4 467.3L1142.0 466.4L1141.9 465.0L1142.4 462.3L1141.9 460.0L1139.9 456.1L1139.3 453.9L1139.4 451.7L1137.9 449.2L1137.8 448.1L1136.1 446.5L1135.6 443.5L1133.4 440.4L1132.9 438.8L1134.6 440.5L1133.3 436.9L1135.2 438.0L1136.3 439.5L1136.3 437.5L1134.3 434.5L1134.0 433.2L1133.1 432.1L1133.5 429.9L1134.3 428.9L1134.8 427.0L1134.4 424.7L1136.0 422.0L1136.3 424.9L1137.9 422.2L1141.1 421.0L1143.0 419.3L1145.9 417.9L1147.7 417.6L1148.7 418.1L1151.8 416.6L1154.1 416.2L1154.7 415.3L1155.7 415.0L1157.9 415.1L1161.9 413.9L1164.0 412.2L1165.0 410.2L1167.2 408.2L1167.4 406.7L1167.5 404.5L1170.2 401.3L1171.8 404.6L1173.5 403.8L1172.1 402.0L1173.3 400.1L1175.0 401.0L1175.5 398.1L1177.6 396.2L1178.6 394.6L1180.5 394.0L1180.6 392.9L1182.3 393.3L1182.3 392.4L1184.0 391.8L1185.9 391.3L1188.7 393.1L1190.9 395.4L1193.3 395.4L1195.7 395.7L1194.9 393.6L1196.8 390.5L1198.5 389.5L1197.9 388.6L1199.6 386.4L1201.9 385.0L1203.9 385.4L1207.2 384.7L1207.1 382.7L1204.2 381.4L1206.3 380.9L1208.9 381.9L1210.9 383.5L1214.2 384.4L1215.3 384.0L1217.7 385.2L1219.9 384.1L1221.4 384.5L1222.3 383.7L1224.1 385.6L1223.0 387.7L1221.6 389.2L1220.2 389.4L1220.7 390.9L1219.5 392.8L1218.2 394.8L1218.5 395.9L1221.5 398.0L1224.5 399.2L1226.5 400.6L1229.3 402.8L1230.4 402.8L1232.4 403.8L1233.0 405.0L1236.7 406.3L1239.2 405.0L1240.0 402.9L1240.7 401.2L1241.2 399.1L1242.4 396.0L1241.9 394.2L1242.2 393.0L1241.7 390.8L1242.2 387.9L1242.9 387.1L1242.4 385.8L1243.3 383.8L1244.0 381.7L1244.1 380.6L1245.6 379.1L1246.6 381.0L1246.9 383.4L1247.9 383.9L1248.0 385.5L1249.4 387.5L1249.7 389.7L1249.6 391.1M1256.7 495.5L1260.4 496.8L1262.5 496.3L1265.5 495.5L1267.8 495.8L1268.1 500.4L1266.8 501.7L1266.4 504.8L1265.0 503.8L1262.4 506.4L1261.6 506.2L1259.2 506.1L1256.8 502.8L1256.3 500.2L1254.1 496.9L1254.1 495.1L1256.7 495.5M1378.3 492.7L1376.8 494.7L1374.9 497.4L1371.9 498.9L1371.3 497.9L1369.6 497.3L1371.9 494.2L1370.6 492.1L1366.4 490.5L1366.6 489.1L1369.3 487.8L1370.0 484.8L1369.8 482.3L1368.3 479.7L1368.4 479.0L1366.5 477.4L1363.5 474.0L1361.9 471.3L1363.3 471.0L1365.4 473.1L1368.4 474.1L1369.5 477.6L1372.3 481.6L1372.4 479.0L1374.1 480.0L1374.7 483.0L1377.8 484.2L1380.4 484.5L1382.6 483.1L1384.6 483.5L1383.6 486.9L1382.5 489.2L1379.5 489.1L1378.5 490.3L1378.8 491.9L1378.3 492.7M1350.4 506.2L1353.7 504.1L1356.1 502.1L1357.8 499.2L1359.2 498.2L1359.8 496.1L1362.5 494.3L1363.4 496.0L1364.2 497.5L1367.0 496.0L1368.1 497.6L1368.1 499.2L1366.7 501.0L1364.1 503.9L1362.2 505.4L1363.6 507.3L1360.6 507.3L1357.3 508.8L1356.3 511.3L1354.1 515.2L1351.0 517.0L1349.1 518.0L1345.5 518.0L1343.0 516.7L1338.9 516.4L1338.2 515.0L1340.3 512.1L1345.1 508.3L1347.6 507.6L1350.4 506.2M1239.6 194.5L1238.1 197.6L1238.8 199.5L1236.8 202.2L1231.9 204.0L1225.1 204.3L1219.6 208.7L1217.0 207.2L1216.8 204.3L1210.1 205.1L1205.6 207.0L1201.0 207.0L1204.9 209.9L1202.3 216.5L1199.9 218.1L1198.0 216.6L1198.9 213.1L1196.5 212.0L1194.9 209.3L1198.6 208.2L1200.6 205.7L1204.5 203.7L1207.3 201.1L1215.0 199.9L1219.1 200.7L1223.2 193.9L1225.8 195.7L1231.4 191.8L1233.6 190.3L1236.0 185.6L1235.4 181.3L1237.0 178.8L1241.1 178.1L1243.2 183.5L1243.1 186.6L1239.5 190.5L1239.6 194.5M1250.9 167.3L1253.6 168.2L1256.4 166.5L1257.2 170.9L1251.5 171.9L1248.1 175.7L1242.0 173.1L1240.0 177.3L1235.7 177.4L1235.1 173.6L1237.0 170.6L1241.2 170.4L1242.3 165.0L1243.4 162.0L1248.0 166.0L1250.9 167.3M1215.1 206.0L1215.6 207.3L1213.4 209.7L1211.8 208.5L1209.9 209.4L1208.8 211.6L1206.3 210.5L1206.4 208.7L1208.5 206.4L1210.7 206.8L1212.3 205.2L1215.1 206.0M1249.9 141.9L1253.8 148.8L1248.1 147.5L1245.7 153.1L1249.5 157.0L1249.4 159.7L1246.5 157.4L1243.9 160.4L1243.2 157.1L1243.6 153.4L1243.2 149.2L1244.1 146.3L1244.3 141.2L1242.0 137.3L1242.3 132.1L1245.9 130.3L1244.4 128.5L1246.1 127.9L1247.1 130.5L1248.4 134.2L1248.3 138.0L1249.9 141.9M1163.1 249.9L1161.5 253.1L1159.4 249.8L1159.0 246.9L1161.3 243.1L1164.4 240.2L1166.1 241.4L1165.5 243.7L1163.1 249.9M1121.3 265.8L1118.0 267.6L1114.8 266.4L1114.7 263.1L1116.6 261.4L1120.8 260.3L1123.0 260.4L1123.9 261.8L1122.2 263.5L1121.3 265.8M1011.0 308.9L1010.4 312.9L1008.8 314.0L1005.5 314.9L1003.6 311.8L1003.0 306.3L1004.7 300.0L1007.4 302.1L1009.1 304.9L1011.0 308.9M1103.8 360.5L1099.5 360.6L1096.3 357.4L1091.3 354.2L1089.7 351.9L1086.8 348.7L1084.8 345.8L1081.9 340.4L1078.5 337.2L1077.4 333.9L1075.9 330.9L1072.5 328.5L1070.5 325.1L1067.5 323.0L1063.5 318.7L1063.2 316.8L1065.7 316.9L1071.6 317.6L1075.1 321.4L1078.0 324.1L1080.2 325.7L1083.8 329.8L1087.8 329.9L1091.0 332.5L1093.2 335.8L1096.2 337.5L1094.6 340.7L1096.8 342.0L1098.2 342.1L1098.9 344.8L1100.2 347.0L1103.1 347.3L1104.9 349.7L1104.0 354.6L1103.8 360.5M1102.1 364.4L1105.6 364.6L1106.3 366.3L1113.3 367.9L1114.9 367.4L1122.1 369.3L1125.8 370.0L1129.9 370.3L1133.3 370.2L1137.6 371.7L1142.0 370.2L1137.3 368.0L1131.6 367.3L1131.5 364.6L1130.0 364.8L1122.7 362.9L1122.1 364.5L1114.6 364.1L1114.1 362.7L1109.4 360.9L1104.7 360.7L1102.1 364.4M1150.4 321.9L1148.2 325.4L1151.1 329.1L1150.4 330.9L1154.7 334.4L1150.1 334.9L1148.9 337.5L1149.0 341.0L1145.3 343.7L1145.2 347.5L1143.7 353.4L1143.1 352.1L1138.7 353.8L1137.2 351.4L1134.5 351.2L1132.6 350.0L1128.0 351.4L1126.5 349.5L1124.0 349.7L1120.8 349.2L1120.2 344.1L1118.3 343.0L1116.5 339.7L1115.9 336.3L1116.4 332.7L1118.7 330.2L1121.5 331.5L1124.5 330.8L1125.3 327.5L1126.9 326.8L1131.5 326.0L1134.3 322.9L1136.2 320.4L1137.7 319.0L1141.0 316.9L1144.0 314.2L1146.0 311.2L1147.5 311.2L1149.5 313.1L1149.7 314.8L1152.2 315.9L1155.4 317.0L1155.2 318.5L1152.6 318.7L1153.3 320.6L1150.4 321.9M1178.8 332.4L1175.7 336.3L1172.8 337.0L1169.1 336.3L1162.7 336.5L1159.3 337.0L1158.7 339.9L1162.2 343.4L1164.3 341.6L1171.5 340.3L1171.2 342.1L1169.5 341.5L1167.8 343.8L1164.4 345.3L1168.1 350.2L1167.4 351.6L1170.8 356.0L1170.8 358.5L1168.7 359.7L1167.2 358.3L1169.1 355.1L1165.3 356.7L1164.3 355.6L1164.8 354.1L1162.1 351.8L1162.3 348.1L1159.8 349.2L1160.1 353.8L1160.3 359.3L1157.8 359.8L1156.2 358.7L1157.2 355.1L1156.7 351.4L1155.0 351.4L1153.8 348.7L1155.4 346.2L1156.0 343.1L1157.9 337.3L1158.7 335.7L1162.0 332.9L1165.0 334.0L1169.9 334.5L1174.3 334.4L1178.2 331.6L1178.8 332.4M1213.2 342.4L1214.3 348.6L1218.3 350.9L1221.5 346.8L1225.9 344.5L1229.4 344.5L1232.7 345.8L1235.6 347.2L1239.7 348.0L1246.4 350.6L1253.5 352.8L1256.2 354.8L1258.3 356.8L1258.9 359.0L1265.4 361.4L1266.3 363.5L1262.7 363.9L1263.6 366.5L1267.0 369.0L1269.5 373.1L1271.8 373.0L1271.6 374.6L1274.6 375.3L1273.4 376.0L1277.5 377.7L1277.1 378.8L1274.6 379.1L1273.6 378.0L1270.3 377.6L1266.4 377.0L1263.4 374.6L1261.2 372.4L1259.2 369.1L1254.1 367.4L1250.9 368.5L1248.5 369.8L1249.0 372.6L1246.0 374.0L1243.8 373.3L1239.8 373.1L1236.4 370.0L1232.5 369.2L1231.5 370.3L1226.6 370.4L1228.3 367.3L1230.7 366.2L1229.7 362.0L1227.8 358.7L1220.3 355.5L1217.1 355.1L1211.3 351.6L1210.2 353.4L1208.7 353.8L1207.9 352.4L1207.8 350.7L1204.9 348.8L1209.1 347.4L1211.8 347.5L1211.5 346.5L1205.8 346.5L1204.3 344.2L1200.8 343.4L1199.2 341.6L1204.4 340.6L1206.4 339.4L1212.6 340.9L1213.2 342.4M1163.7 266.5L1166.1 267.6L1167.3 266.6L1167.6 267.6L1167.0 269.1L1168.3 271.9L1167.3 275.1L1165.0 276.4L1164.4 279.5L1165.3 282.6L1167.3 283.0L1169.0 282.5L1173.8 284.7L1173.5 286.8L1174.7 287.7L1174.3 289.5L1171.3 287.6L1169.9 285.6L1168.9 287.0L1166.4 284.7L1163.0 285.2L1161.0 284.4L1161.2 282.8L1162.4 281.8L1161.3 280.9L1160.8 282.3L1158.9 280.1L1158.3 278.4L1158.1 274.7L1159.7 276.0L1160.1 270.0L1161.4 266.4L1163.7 266.5M1183.2 305.4L1183.6 308.0L1183.8 310.2L1182.5 313.7L1181.1 309.8L1179.3 311.7L1180.5 314.6L1179.4 316.4L1174.9 314.1L1173.8 311.3L1175.0 309.5L1172.5 307.7L1171.3 309.3L1169.5 309.1L1166.7 311.3L1166.0 310.2L1167.5 306.9L1169.9 305.8L1172.1 304.4L1173.4 306.1L1176.4 305.1L1177.0 303.3L1179.7 303.2L1179.5 300.2L1182.6 302.0L1183.0 304.0L1183.2 305.4M1156.7 294.0L1157.4 297.2L1154.8 299.3L1152.8 301.9L1147.7 305.6L1149.6 302.9L1152.4 300.5L1154.7 297.8L1156.7 294.0M1175.1 289.4L1178.8 289.5L1179.8 291.0L1180.9 295.2L1177.9 294.2L1178.0 295.5L1179.0 297.9L1177.1 298.8L1177.0 296.1L1175.8 295.9L1175.2 293.5L1177.5 293.8L1177.4 292.4L1175.1 289.4M1170.6 293.2L1170.6 294.8L1168.8 296.4L1166.3 297.6L1166.2 295.8L1166.5 293.8L1165.9 292.0L1168.2 293.2L1170.6 293.2M1174.0 298.2L1172.6 299.5L1171.4 301.9L1170.2 303.1L1167.8 300.4L1168.6 299.4L1169.6 298.3L1170.0 295.9L1172.1 295.7L1171.5 298.3L1174.3 294.6L1174.0 298.2M1164.5 287.4L1163.5 290.8L1161.8 288.9L1159.8 285.9L1163.1 286.1L1164.5 287.4M377.4 248.4L380.8 248.6L383.8 248.7L387.4 250.0L389.0 251.4L392.6 251.0L394.0 251.9L397.2 254.3L399.6 256.0L400.9 256.0L403.2 256.7L402.9 257.8L405.8 258.0L408.7 259.6L408.2 260.5L405.7 261.0L403.1 261.2L400.4 260.9L394.8 261.2L397.4 259.1L395.9 258.1L393.4 257.8L392.1 256.7L391.1 254.5L389.0 254.7L385.3 253.6L384.2 252.8L379.2 252.2L377.8 251.5L379.2 250.5L375.5 250.3L372.7 252.3L371.1 252.4L370.6 253.3L368.6 253.7L367.0 253.3L369.0 252.2L369.9 250.8L371.6 249.9L373.6 249.2L376.5 248.8L377.4 248.4M418.2 261.8L418.7 261.1L421.7 261.1L424.0 262.2L425.0 262.0L425.7 263.4L427.8 263.3L427.7 264.5L429.4 264.6L431.3 266.1L429.9 267.6L428.1 266.8L426.3 266.9L425.0 266.7L424.3 267.4L422.8 267.7L422.2 266.7L421.0 267.3L419.4 270.0L418.4 269.3L418.2 268.3L415.7 267.6L413.8 267.8L411.5 267.6L409.7 268.3L407.6 267.1L407.9 265.9L411.5 266.4L414.4 266.7L415.8 265.8L414.0 264.2L414.1 262.7L411.6 262.1L412.5 261.0L414.9 261.2L418.2 261.8M395.6 266.5L398.2 266.9L400.2 267.8L400.9 268.8L398.2 268.9L397.0 269.5L394.8 268.9L392.6 267.5L393.1 266.7L394.7 266.4L395.6 266.5M439.2 266.4L441.2 266.7L441.8 267.5L440.8 268.5L437.9 268.5L435.7 268.6L435.5 267.0L436.0 266.4L439.2 266.4M456.9 296.4L459.2 295.9L460.0 296.0L459.8 298.9L456.6 299.3L455.9 299.0L457.0 297.9L456.9 296.4M395.7 246.2L394.8 246.4L393.8 244.1L392.3 243.0L393.2 240.6L394.3 240.7L395.7 243.9L395.7 246.2M394.6 235.3L390.4 235.9L390.1 234.5L392.0 234.2L394.5 234.3L394.6 235.3M397.8 235.2L397.1 238.0L396.4 237.5L396.5 235.5L394.7 233.9L394.7 233.5L397.8 235.2M94.5 264.2L93.9 264.9L92.9 264.3L93.0 263.2L92.4 261.8L92.6 261.4L93.3 260.8L93.0 260.0L93.2 259.6L93.5 259.7L95.0 260.4L95.7 260.7L96.3 261.2L97.3 262.6L97.2 262.8L95.7 263.6L94.5 264.2M92.4 258.2L91.1 258.5L90.4 257.7L90.0 257.4L89.9 257.1L90.3 256.8L91.7 257.1L92.7 257.7L92.4 258.2M89.8 256.1L89.6 256.6L87.6 256.4L87.9 256.0L89.8 256.1M86.3 255.6L86.1 255.8L85.8 255.7L84.5 255.6L84.0 254.7L83.8 254.6L84.8 254.0L85.2 254.3L86.3 255.6M79.7 253.0L79.3 253.4L78.0 252.7L78.2 252.4L78.8 252.0L79.7 252.1L79.7 253.0M458.8 538.2L463.4 535.8L466.7 536.8L469.0 535.3L472.1 537.0L471.0 538.4L465.8 539.5L464.0 538.2L460.7 539.9L458.8 538.2M430.1 541.2L431.6 543.0L433.5 545.9L438.5 548.2L443.9 549.2L442.2 551.1L438.5 551.3L436.6 549.9L434.2 549.8L430.1 549.8L432.0 552.7L430.1 552.6L427.8 552.3L425.0 551.1L420.9 550.5L416.1 548.4L412.1 546.3L406.8 542.0L410.0 542.8L415.4 545.4L420.5 546.7L422.5 545.0L423.8 542.3L427.3 540.8L430.1 541.2M961.4 525.7L963.9 526.9L967.5 527.4L967.7 528.2L966.6 529.9L960.7 530.2L960.5 528.1L961.1 526.5L961.4 525.7M753.6 30.2L755.1 28.9L760.8 28.8L765.6 30.1L778.3 33.0L768.6 34.5L766.5 37.3L763.1 38.1L761.3 41.3L756.6 41.4L748.3 39.1L751.8 37.7L746.0 36.6L738.5 33.3L735.5 30.3L746.0 28.9L748.1 30.3L753.6 30.2M801.0 28.7L795.3 30.8L784.1 31.3L772.7 30.6L772.0 29.6L766.4 29.5L762.2 27.7L774.2 26.6L779.8 27.6L783.7 26.4L793.4 27.4L801.0 28.7M790.6 37.3L782.0 38.9L775.2 37.9L777.9 36.9L775.5 35.7L783.5 35.0L785.1 36.4L790.6 37.3M917.4 64.8L915.1 65.2L902.5 64.6L901.4 62.9L894.4 61.9L893.9 59.8L897.8 59.0L897.7 56.9L905.4 53.6L901.8 53.1L911.0 49.7L910.0 48.0L918.6 45.9L931.4 43.4L944.3 42.7L950.9 41.3L958.4 40.8L961.1 42.3L958.5 43.5L944.8 45.4L933.0 47.3L921.0 50.9L915.2 54.7L909.2 58.4L910.0 61.6L917.4 64.8M1081.1 33.3L1072.7 33.8L1061.9 32.7L1055.5 31.2L1052.6 28.4L1047.3 27.7L1057.3 25.0L1065.7 24.1L1073.2 26.1L1082.1 29.8L1081.1 33.3M1101.0 35.5L1079.2 37.0L1086.2 31.9L1089.4 31.5L1092.3 31.7L1102.1 33.9L1101.0 35.5M1259.5 47.6L1260.4 46.3L1267.6 46.9L1277.3 48.0L1272.8 49.5L1266.6 49.1L1259.5 47.6M1231.3 43.9L1241.5 44.1L1255.5 46.1L1252.4 49.0L1238.2 48.9L1231.8 49.8L1224.1 47.3L1226.2 44.6L1231.3 43.9M1243.8 52.7L1236.0 54.8L1235.3 54.6L1239.0 53.0L1243.8 52.7M1390.3 61.7L1385.4 63.3L1386.1 64.6L1390.3 64.4M0.0 61.7L0.5 61.6L9.3 62.7L9.0 63.2L5.1 64.1L0.0 64.4M888.4 25.4L894.1 26.3L892.7 26.8L887.4 27.3L884.0 27.7L883.4 28.3L878.9 28.9L874.7 28.0L876.9 26.8L868.4 26.7L875.9 26.0L881.8 26.0L882.5 27.0L884.8 26.1L888.4 25.4M755.1 190.3L753.7 193.3L754.3 194.5L753.5 196.5L750.5 195.0L748.6 194.6L743.2 192.7L743.7 190.7L748.2 191.1L752.2 190.6L755.1 190.3M730.7 178.8L733.0 181.5L732.5 186.6L730.7 186.4L729.2 187.7L727.7 186.6L727.6 182.0L726.7 179.8L728.8 180.0L730.7 178.8M732.1 175.1L730.8 178.1L729.1 177.3L728.1 174.7L728.9 173.3L731.4 171.8L732.1 175.1M786.7 200.0L788.8 201.3L791.8 201.1L794.7 201.4L796.7 201.6L796.2 202.8L790.6 203.1L790.7 202.4L785.9 201.7L786.7 200.0M821.6 202.2L823.3 201.6L828.7 200.2L826.1 202.4L826.5 202.8L822.5 204.4L820.6 203.9L819.7 202.4L821.6 202.2M878.6 171.9L882.8 176.5L886.7 181.1L885.2 187.3L884.0 190.0L885.2 192.7L888.6 193.5L892.1 195.8L897.1 196.2L902.9 195.0L903.3 194.3L902.5 191.6L903.3 187.5L900.2 186.1L901.4 183.4L898.7 183.4L899.5 180.0L903.3 181.1L906.4 179.6L903.7 177.3L902.5 175.3L899.5 176.1L899.1 179.2L897.9 176.5L897.5 175.7L898.7 174.2L897.9 172.6L893.3 171.5L891.7 168.0L889.4 166.8L889.4 165.7L893.3 166.1L893.3 163.4L896.7 162.6L899.8 163.0L900.6 159.5L899.8 156.8L896.0 157.2L892.9 156.4L888.3 158.0L884.8 158.7L882.8 161.0L879.4 161.8L875.5 165.7L879.0 169.2L878.6 171.9M478.4 142.2L475.8 145.6L478.3 144.2L480.9 145.1L479.6 146.4L483.0 147.5L484.8 146.5L488.6 147.7L487.4 150.5L490.1 149.9L490.6 151.9L491.8 154.3L490.2 157.7L488.5 157.9L485.9 157.1L486.8 154.0L485.7 153.5L481.2 156.9L478.9 156.7L481.6 154.9L477.9 154.0L473.7 154.2L466.3 154.1L465.7 152.9L468.1 151.6L466.4 150.5L469.7 148.2L473.6 142.0L476.0 139.8L479.4 138.5L481.2 138.7L480.4 139.7L478.4 142.2M218.2 150.6L216.2 151.1L209.9 149.3L208.7 148.0L205.3 146.6L204.6 145.6L200.6 144.9L199.1 142.7L199.4 141.9L203.5 142.7L205.8 143.3L209.5 143.7L210.8 145.0L212.7 146.8L216.6 148.5L218.2 150.6M182.6 129.2L186.3 128.9L185.2 133.3L188.5 136.4L187.0 136.4L184.7 134.6L183.3 132.9L181.3 131.7L180.6 130.0L180.8 128.7L182.6 129.2M103.4 114.0L106.0 114.3L107.6 115.5L104.2 117.3L100.4 118.8L98.4 117.8L97.8 116.0L101.3 114.6L103.4 114.0M446.0 145.3L447.3 145.0L452.4 145.9L456.3 147.6L456.4 148.3L454.6 148.3L449.6 147.1L446.0 145.3M448.0 156.3L449.3 158.1L452.1 158.6L455.7 158.6L453.8 160.2L452.4 160.4L447.4 158.8L446.5 157.5L448.0 156.3M366.3 84.3L367.0 86.0L369.0 85.5L371.2 86.5L375.4 87.8L379.9 89.0L380.2 90.8L383.0 90.5L385.8 91.8L382.4 93.0L376.3 92.1L374.2 90.4L370.4 92.4L364.9 94.4L363.5 92.1L358.3 92.5L361.7 90.6L362.2 87.6L363.5 84.0L366.3 84.3M1177.8 372.3L1178.2 371.4L1181.6 370.5L1184.2 370.4L1185.5 369.9L1186.9 370.4L1185.5 371.4L1181.5 373.1L1178.2 374.2L1175.7 377.1L1172.4 377.9L1172.0 377.5L1172.3 376.2L1174.0 373.8L1177.8 372.3M1169.8 369.2L1169.3 371.3L1163.4 372.4L1158.3 371.9L1158.3 370.5L1161.4 369.7L1163.8 370.9L1166.4 370.6L1169.8 369.2M1161.6 376.4L1161.4 377.5L1159.8 377.5L1154.6 374.8L1158.2 374.1L1160.3 375.3L1161.6 376.4M1150.5 369.2L1151.9 370.2L1154.3 369.9L1155.2 371.6L1150.8 372.3L1148.1 372.8L1146.0 372.8L1147.3 370.6L1149.4 370.6L1150.5 369.2M1189.5 331.6L1191.8 332.0L1192.2 333.6L1192.0 336.9L1190.0 336.5L1189.4 338.9L1191.0 340.9L1189.9 341.4L1188.3 339.0L1187.2 334.0L1187.9 330.9L1189.2 329.5L1189.5 331.6M1199.0 349.9L1200.4 352.8L1197.2 351.2L1194.0 350.9L1191.8 351.2L1189.1 351.0L1190.0 348.9L1194.8 348.7L1199.0 349.9M1185.1 352.6L1182.5 351.9L1181.7 350.2L1185.6 350.0L1186.6 351.3L1185.1 352.6M1282.1 359.1L1280.1 359.4L1279.5 360.5L1277.3 361.4L1275.4 362.3L1273.3 362.3L1270.2 361.2L1268.0 360.1L1268.3 358.9L1271.7 359.5L1273.9 359.2L1274.4 357.3L1275.0 357.2L1275.4 359.3L1277.6 359.0L1278.7 357.7L1280.8 356.3L1280.4 354.0L1282.7 353.9L1283.5 354.6L1283.4 356.7L1282.1 359.1M1277.0 348.5L1278.1 347.6L1280.2 348.7L1281.5 349.5L1283.1 350.4L1284.6 352.1L1286.1 353.3L1286.6 355.3L1285.4 356.3L1284.6 354.1L1283.8 352.6L1282.0 351.3L1279.8 349.7L1277.0 348.5M1292.8 358.5L1294.0 359.4L1295.9 361.9L1297.7 363.2L1297.2 364.3L1296.1 364.6L1294.4 363.2L1292.7 360.7L1291.9 357.8L1292.4 357.4L1292.8 358.5M1299.7 363.4L1302.0 365.0L1303.6 366.3L1302.8 366.5L1301.1 365.7L1299.5 364.1L1299.7 363.4M1311.7 368.9L1312.6 370.1L1312.8 370.9L1309.7 369.2L1307.6 367.9L1306.2 366.6L1306.7 366.2L1308.5 367.1L1311.7 368.9M1316.4 376.0L1314.8 376.2L1312.5 375.7L1311.7 375.2L1311.9 373.6L1314.5 374.2L1315.7 375.0L1316.4 376.0M1319.6 375.0L1319.0 375.7L1316.1 372.4L1315.3 370.1L1316.6 370.1L1318.0 373.1L1319.6 375.0M1321.3 378.4L1322.3 379.7L1319.6 379.7L1318.2 377.3L1320.5 378.3L1321.3 378.4M1341.0 399.3L1343.3 401.5L1342.1 402.0L1340.8 400.3L1341.0 399.3M1339.3 398.4L1338.8 397.4L1338.7 394.4L1340.5 395.6L1341.1 398.7L1340.1 398.2L1339.3 398.4M1335.4 419.3L1338.6 421.7L1340.6 423.5L1339.1 424.4L1337.0 423.4L1334.2 421.7L1331.7 419.6L1329.2 416.9L1328.6 415.6L1330.3 415.6L1332.5 416.9L1334.2 418.3L1335.4 419.3M1384.0 404.9L1385.4 406.0L1384.7 408.0L1382.3 408.6L1380.2 408.1L1379.8 406.4L1381.3 405.0L1383.1 405.5L1384.0 404.9M1390.3 401.9L1387.8 402.8L1385.4 403.6L1384.9 402.2L1386.8 401.4L1388.0 401.2L1390.3 400.0M211.2 58.7L216.3 62.6L220.9 63.3L229.8 62.2L234.8 60.6L239.4 58.7L244.1 56.0L247.6 54.1L239.8 51.4L225.9 50.2L214.0 51.0L216.7 53.3L212.8 55.6L211.2 58.7M241.4 67.6L250.3 70.7L258.0 73.4L270.3 73.0L278.1 73.0L285.8 70.7L297.4 72.2L303.2 69.5L299.3 67.6L305.1 66.8L295.4 65.3L291.6 63.0L289.6 57.9L282.7 54.8L274.2 57.2L268.4 56.4L260.7 56.0L254.1 55.6L252.2 57.5L239.8 57.2L237.1 58.7L234.8 61.4L240.6 62.6L247.9 61.8L237.9 64.1L246.8 65.7L262.6 66.0L256.8 66.8L241.4 67.6M307.4 52.9L319.0 52.9L321.7 57.5L320.5 60.2L315.1 62.6L311.7 62.2L309.0 59.9L299.3 57.9L299.3 56.8L307.4 52.9M335.2 56.8L326.7 59.5L324.4 54.5L326.3 52.1L338.3 51.8L345.6 52.5L339.9 56.0L335.2 56.8M315.9 67.2L322.1 68.7L326.0 71.1L323.2 72.2L318.2 71.1L315.1 71.6L309.7 69.9L313.2 68.7L315.9 67.2M329.4 40.2L341.4 41.3L344.9 42.9L350.7 44.4L348.3 45.0L356.1 46.0L361.5 46.3L367.7 45.6L375.4 45.2L381.9 45.6L385.8 47.1L387.0 48.7L384.3 49.4L378.9 50.6L373.8 49.8L362.6 50.6L354.5 50.6L348.3 50.2L338.3 49.0L336.8 46.7L336.4 44.8L332.5 43.3L324.4 42.9L320.2 41.5L321.7 39.8L329.4 40.2M317.8 43.3L317.8 45.6L315.9 48.3L309.7 48.7L305.5 48.0L305.5 46.0L299.3 46.0L298.9 43.3L309.0 42.1L314.4 42.1L317.8 43.3M333.7 48.4L331.4 49.8L326.0 49.4L321.3 48.7L323.2 46.7L328.7 46.0L332.2 47.1L333.7 48.4M277.3 43.6L278.8 45.2L282.3 44.4L286.2 44.4L286.9 46.3L284.6 48.3L271.5 48.9L261.8 50.6L256.0 50.6L255.3 49.4L263.4 47.5L246.0 48.1L240.6 47.5L246.0 43.6L249.5 42.5L260.3 44.0L267.2 46.3L273.9 46.3L268.4 42.9L271.9 41.3L276.1 41.7L277.3 43.6M246.4 38.2L246.0 40.9L242.9 42.5L239.4 42.5L232.1 44.2L225.9 44.8L220.7 44.0L227.1 40.9L235.2 38.6L241.0 38.6L246.4 38.2M297.4 32.1L305.9 33.6L308.6 35.5L310.1 37.1L303.9 36.7L297.8 35.5L288.9 35.1L292.7 34.0L288.1 33.2L287.7 31.7L297.4 32.1M321.3 33.6L326.0 35.1L325.2 36.5L319.4 37.3L316.3 36.4L314.6 34.9L314.4 33.3L319.4 33.5L321.3 33.6M356.1 27.8L359.2 30.1L363.8 31.7L358.4 32.7L351.4 35.5L344.5 35.9L336.4 35.5L332.3 33.8L332.5 32.4L335.6 31.3L328.3 31.3L324.0 30.1L321.7 28.2L324.4 26.6L327.1 25.5L331.0 25.1L329.4 24.3L338.3 24.1L343.3 26.3L349.7 27.0L356.1 27.8M430.6 17.0L441.0 17.4L449.1 17.8L456.3 18.9L456.1 19.7L446.8 21.6L437.4 22.4L433.9 23.2L442.2 23.2L433.3 25.5L426.7 26.6L420.2 29.7L412.5 30.5L409.8 31.3L398.2 31.7L403.6 32.1L400.9 32.8L404.0 34.8L400.5 35.9L394.3 37.1L392.4 38.6L387.0 39.8L387.7 40.6L394.3 40.6L394.3 41.3L383.9 43.6L373.8 42.7L362.6 43.3L356.8 42.9L349.5 42.5L349.1 40.7L356.1 39.8L354.1 37.1L356.7 36.8L367.0 38.6L361.9 35.9L355.5 35.1L358.6 33.8L365.3 32.8L366.5 31.5L361.1 30.1L359.5 28.0L370.0 28.2L373.1 28.6L379.1 27.0L370.4 26.6L356.8 27.0L349.9 25.5L346.8 24.1L342.2 23.0L341.4 21.6L347.2 20.9L351.8 20.9L359.2 20.1L365.0 18.7L369.7 18.9L373.8 20.1L376.9 17.9L381.9 17.4L388.9 16.9L400.7 16.7L402.8 17.1L414.0 16.6L422.1 16.7L430.6 17.0M346.1 58.2L348.4 54.7L361.3 57.5L375.2 60.6L389.2 62.9L398.5 58.9L407.8 57.5L419.5 61.7L431.1 65.2L438.1 71.0L448.6 76.9L456.7 78.5L450.9 83.8L443.9 86.2L445.1 92.0L439.3 96.2L428.8 95.5L426.5 89.7L432.3 86.2L426.5 82.7L414.8 83.1L411.3 76.9L404.3 73.4L396.2 76.9L388.0 74.5L383.4 67.5L372.9 65.9L361.3 66.4L351.9 64.5L346.1 58.2M382.7 54.8L393.5 53.7L400.5 55.6L400.5 56.8L396.6 56.5L392.4 56.4L388.1 57.2L387.0 56.8L382.7 54.8M374.6 97.9L378.9 95.0L378.9 95.8L374.3 97.9L371.6 97.8L370.8 96.7L373.6 95.0L378.9 95.0L378.9 95.8L374.6 97.9M386.6 96.9L388.1 97.1L389.0 97.9L387.5 99.9L385.8 99.6L384.8 98.4L385.0 98.1L386.6 96.9M402.0 74.1L405.1 75.3L405.1 76.9L404.7 77.5L402.0 78.6L397.8 78.8L396.9 76.9L398.6 74.7L402.0 74.1M381.2 132.5L383.9 133.6L380.0 134.0L377.3 133.2L381.2 132.5M-14.7 663.2L10.1 661.7L14.8 663.2L21.0 661.3L28.8 660.7L38.1 660.1L47.4 662.3L59.8 663.8L72.2 665.4L84.7 666.0L94.0 664.8L106.4 664.5L118.8 666.3L128.1 665.4L142.1 663.8L140.6 662.3L128.1 662.3L115.7 661.3L106.4 660.1L101.7 657.6L104.9 654.5L100.2 652.3L90.9 650.8L98.6 649.9L112.6 650.8L125.0 648.3L129.7 645.8L125.0 643.6L112.6 642.1L100.2 641.5L87.8 639.0L83.1 635.3L87.8 634.3L94.0 635.9L103.3 635.3L115.7 633.4L128.1 631.2L130.6 628.1L137.5 627.2L153.0 625.9L171.6 624.1L190.3 623.5L205.8 621.9L215.1 622.8L227.5 621.9L239.9 622.8L252.4 621.0L261.7 625.0L271.0 625.9L283.4 627.2L295.8 625.9L305.2 627.2L308.3 625.0L299.0 620.4L294.3 617.2L302.1 614.1L320.7 614.1L323.8 617.9L314.5 619.7L326.9 620.4L339.3 618.8L378.8 618.8L391.2 620.4L403.6 621.9L416.0 619.7L428.5 617.9L434.7 614.1L433.1 609.5L428.5 606.4L423.8 603.3L419.1 604.2L416.0 611.0L408.3 614.1L405.2 612.6L412.9 609.5L419.1 603.3L426.9 602.3L434.7 598.6L440.9 592.4L450.2 587.7L459.5 584.6L470.4 582.5L471.9 583.7L462.6 587.7L451.7 592.4L444.0 596.1L447.1 601.7L454.9 607.9L459.5 615.7L458.9 621.9L450.2 626.6L434.7 629.7L419.1 631.2L403.6 632.8L395.8 634.3L403.6 637.4L397.4 639.0L393.7 642.1L403.6 645.8L419.1 647.7L437.8 648.9L440.9 645.8L456.4 645.8L462.6 643.6L464.2 648.3L458.0 651.4L470.4 658.2L487.5 653.9L509.2 652.0L527.8 653.9L543.4 650.8L565.1 648.9L582.2 647.7L583.7 643.6L571.3 642.7L557.3 643.6L555.8 640.5L565.1 637.4L583.7 634.3L602.4 631.2L621.0 627.2L631.9 623.5L635.0 619.7L649.0 615.7L655.2 612.6L664.5 613.5L670.7 610.4L683.1 611.0L695.5 612.6L711.1 610.4L726.6 608.5L735.9 610.4L741.5 607.9L744.3 607.3L753.6 608.5L766.0 606.4L778.5 607.9L781.6 609.8L797.1 608.5L815.7 606.4L825.0 601.7L834.4 604.2L843.7 606.4L853.0 602.3L865.4 600.2L877.8 598.0L890.3 594.0L899.6 591.8L912.0 591.8L921.3 594.9L933.7 598.6L939.9 597.1L952.4 598.0L961.7 600.2L963.2 605.4L957.0 608.5L958.6 614.1L964.8 615.7L971.0 614.1L977.2 609.5L983.4 606.4L995.8 604.2L1002.1 601.1L1014.5 596.1L1030.0 595.5L1034.7 592.4L1037.8 595.5L1051.7 596.1L1064.2 597.1L1079.7 595.5L1091.5 589.3L1097.1 591.8L1104.9 595.5L1115.7 594.9L1125.0 592.4L1134.4 591.8L1143.7 594.9L1159.2 597.1L1168.5 594.0L1184.0 594.9L1202.7 593.3L1213.5 592.4L1216.7 588.7L1221.3 594.9L1239.9 594.3L1257.0 594.3L1261.7 598.6L1277.2 601.7L1289.6 601.7L1302.1 604.2L1314.5 607.9L1326.9 610.4L1342.4 610.4L1354.9 612.6L1350.2 619.7L1339.3 624.1L1330.0 628.1L1326.3 633.4L1330.0 638.4L1339.3 640.5L1330.0 642.7L1317.6 643.6L1312.9 649.9L1320.7 653.9L1333.1 657.0L1348.6 660.7L1361.1 662.3L1376.6 662.3M77.8 642.1L77.0 642.9L74.7 643.4L71.6 643.6L68.5 643.4L66.2 642.9L65.4 642.1L66.2 641.3L68.5 640.7L71.6 640.5L74.7 640.7L77.0 641.3L77.8 642.1M485.9 647.7L493.7 645.2L499.9 640.5L509.2 637.4L520.1 637.4L527.2 642.1L526.3 646.7L515.4 648.3L499.9 648.3L485.9 647.7" fill="none" stroke="#000" stroke-width="4.2" stroke-linejoin="round" stroke-linecap="round"/></defs><rect width="1500" height="3000" fill="#fff"/><g transform="translate(58.5,113.5)" clip-path="url(#cp)"><rect x="0" y="0" width="1371" height="675" fill="#0000fa"/><path d="M-4.0 -4.0L1375.0 -4.0L1375.0 168.7L1312.6 162.4L1243.3 157.7L1194.8 156.8L1153.3 159.1L1125.5 162.8L1097.8 168.1L1044.7 182.3L1025.2 189.2L1009.7 196.1L997.4 203.0L986.9 210.3L972.6 223.7L966.2 231.6L957.8 244.4L950.6 258.2L915.4 334.1L910.7 347.8L906.6 368.5L900.0 465.1L892.2 520.3L887.9 541.0L882.7 554.8L873.9 568.6L862.2 579.5L848.3 587.9L825.3 596.2L792.9 601.6L765.2 603.4L689.0 605.7L647.4 608.7L605.8 613.8L529.6 625.8L494.9 629.5L467.2 630.3L439.5 628.4L413.3 623.8L391.0 617.1L373.8 610.0L360.8 603.1L341.1 589.3L334.4 582.4L330.8 575.5L331.7 568.6L338.1 561.7L349.6 554.8L365.0 547.9L418.7 527.5L432.6 521.2L446.4 513.5L467.2 497.7L513.6 451.3L522.7 444.1L536.5 435.3L557.3 426.1L571.2 421.9L619.4 409.9L634.7 403.0L642.8 396.1L646.9 389.2L648.3 382.3L647.8 375.4L645.6 368.5L637.4 354.7L631.3 347.8L623.4 340.9L612.9 334.1L597.6 327.2L578.1 322.2L564.2 320.6L550.4 320.6L494.9 325.7L481.1 326.0L467.2 325.0L446.4 320.6L397.2 306.5L363.3 299.5L328.6 295.2L224.7 286.3L162.3 277.3L135.9 272.0L113.8 265.9L93.9 258.2L86.1 254.0L72.2 244.6L64.5 237.5L37.6 206.8L25.8 196.1L9.9 186.0L2.9 182.9L-4.0 181.7ZM-4.0 499.6L-4.0 498.5L30.6 496.9L72.2 497.3L106.9 499.8L149.2 506.5L174.1 513.4L191.6 520.3L205.2 527.2L216.1 534.1L224.8 541.0L231.1 547.9L234.1 554.8L230.7 561.7L215.4 568.6L197.0 572.0L169.2 574.8L134.6 576.2L86.1 576.1L44.5 574.6L-4.0 571.3ZM1372.7 534.1L1375.0 530.0L1375.0 535.4Z" fill="#0000df" fill-rule="evenodd"/><path d="M-4.0 -4.0L114.3 -4.0L158.5 2.9L231.6 6.3L307.8 8.2L529.6 9.2L799.8 8.4L931.5 7.0L1104.7 7.8L1174.0 9.5L1257.2 14.9L1284.9 15.8L1312.6 14.4L1333.4 11.1L1362.4 2.9L1368.1 -1.6L1375.0 -4.0L1375.0 145.2L1346.3 140.9L1278.0 128.3L1243.3 123.2L1201.8 120.1L1160.2 120.7L1139.4 122.3L1111.7 126.0L1084.0 131.0L1049.3 138.6L991.3 154.7L972.3 161.6L952.3 170.8L938.4 179.2L925.8 189.2L917.6 197.8L909.0 209.9L901.6 223.7L865.3 306.5L858.6 327.2L856.5 340.9L856.2 354.7L859.8 409.9L859.1 423.7L855.1 444.4L847.8 465.1L837.3 485.8L815.3 520.3L799.8 539.4L786.0 551.6L769.2 561.7L751.3 568.8L723.6 575.5L689.0 579.9L647.4 582.4L598.9 583.0L564.2 581.3L550.4 579.4L534.1 575.5L521.9 568.6L517.1 561.7L515.5 554.8L517.2 541.0L522.0 527.2L528.6 513.4L537.0 499.6L548.1 485.8L563.9 472.0L575.2 465.1L590.8 458.2L605.8 453.5L654.3 442.4L671.7 437.5L687.7 430.6L697.5 423.7L703.7 416.8L707.8 409.9L710.3 403.0L711.6 396.1L711.4 382.3L707.6 368.5L704.4 361.6L695.9 348.9L689.0 340.9L681.8 334.1L668.2 323.3L647.4 310.9L633.5 304.8L619.7 300.0L591.9 293.7L571.2 291.5L550.4 291.1L488.0 295.1L460.3 295.2L363.3 284.4L238.5 276.3L197.0 272.0L155.4 265.2L127.9 258.2L110.2 251.3L97.8 244.4L88.8 237.5L81.7 230.6L70.8 216.8L56.5 196.1L43.3 182.3L32.8 175.4L23.7 171.2L9.9 166.9L-4.0 164.9Z" fill="#0000c4" fill-rule="evenodd"/><path d="M64.2 30.5L99.9 26.8L155.4 25.2L536.5 28.7L695.9 25.3L799.8 26.4L1056.2 37.0L1084.0 38.8L1122.5 44.3L1139.9 51.2L1144.6 58.1L1139.4 65.4L1126.6 71.9L1105.5 78.8L980.0 111.0L931.5 126.2L910.7 134.4L889.9 144.1L859.9 161.6L843.7 175.4L834.0 189.2L831.0 196.1L827.4 209.9L823.5 237.5L820.6 251.3L815.4 265.1L806.8 281.2L792.9 299.8L786.0 306.2L779.1 310.4L772.1 312.5L765.2 312.8L758.3 311.7L744.4 307.3L695.5 285.8L668.2 275.8L640.5 268.7L605.8 263.4L578.1 261.2L543.4 261.0L453.4 267.2L411.8 268.5L349.4 268.1L287.0 266.4L238.5 263.5L189.1 258.2L155.4 251.4L135.2 244.4L122.4 237.5L113.6 230.6L107.4 223.7L103.0 216.8L99.9 209.9L97.0 196.1L97.1 168.5L95.6 161.6L92.2 154.7L86.1 147.7L79.2 142.7L72.2 139.1L65.3 136.6L51.4 133.8L30.6 133.6L-4.0 138.4L-4.0 49.4L2.9 48.5L37.6 36.7ZM782.4 409.9L786.0 405.3L792.9 404.0L797.3 409.9L799.7 416.8L799.4 423.7L797.2 430.6L792.9 439.9L780.8 458.2L777.3 465.1L766.1 492.7L759.3 506.5L749.3 520.3L742.2 527.2L732.9 534.1L716.7 542.4L695.9 548.6L675.1 551.2L654.3 551.3L633.5 548.7L619.7 544.6L611.6 541.0L605.8 536.9L602.6 534.1L598.9 528.8L596.1 520.3L596.6 513.4L599.3 506.5L604.6 499.6L612.7 492.7L625.2 485.8L644.3 478.9L723.6 462.2L737.0 458.2L751.3 452.2L762.4 444.4L768.0 437.5L779.1 414.6Z" fill="#0000a8" fill-rule="evenodd"/><path d="M265.8 58.1L328.6 56.3L418.7 56.6L461.4 58.1L536.5 63.4L564.2 64.1L591.9 62.7L640.5 57.1L682.0 53.7L709.8 52.8L744.4 53.5L792.9 58.0L821.0 65.0L834.0 71.9L839.3 78.8L839.4 85.7L835.5 92.6L828.7 99.5L819.3 106.4L799.8 117.3L779.1 126.6L758.6 134.0L723.6 143.1L695.9 146.7L675.1 146.9L654.3 145.2L605.8 138.6L591.9 137.7L571.2 139.0L557.3 142.3L536.5 150.8L517.8 161.6L500.0 175.4L470.2 203.0L450.8 216.8L439.1 223.7L425.1 230.6L406.6 237.5L384.1 242.9L356.3 246.9L328.6 248.7L300.9 248.9L266.3 247.6L227.2 244.4L203.9 240.7L188.5 237.5L170.2 230.6L160.6 223.7L156.0 216.8L155.1 209.9L157.4 203.0L162.4 196.1L169.2 189.7L197.1 168.5L203.1 161.6L206.4 154.7L207.5 147.8L206.8 140.9L204.7 134.0L190.8 106.4L185.8 92.6L185.7 85.7L188.7 78.8L196.7 71.9L214.6 65.0L238.5 60.8Z" fill="#00008d" fill-rule="evenodd"/><path d="M-17.8 233.1C-14.9 233.1 -6.3 232.8 -0.1 233.1C6.1 233.4 10.8 233.2 19.5 234.9C28.1 236.7 41.2 239.6 52.1 243.6C62.9 247.5 74.6 253.7 84.7 258.7C94.8 263.8 103.1 268.7 112.6 273.8C122.1 279.0 127.0 285.2 141.5 289.5C156.0 293.7 180.3 295.9 199.7 299.3C219.1 302.7 240.5 306.7 258.0 309.8C275.4 312.9 289.0 315.1 304.5 317.9C320.1 320.7 339.5 322.9 351.1 326.6C362.8 330.2 370.5 336.3 374.4 340.1C378.3 343.9 378.3 345.9 374.4 349.4C370.5 352.9 362.8 357.9 351.1 361.0C339.5 364.1 316.2 365.7 304.5 368.0C292.9 370.4 286.5 372.1 281.3 375.0C276.0 377.9 273.1 381.2 273.1 385.5C273.1 389.8 276.0 396.2 281.3 400.6C286.5 405.1 292.9 408.4 304.5 412.3C316.2 416.2 335.6 420.6 351.1 423.9C366.7 427.2 388.4 429.7 397.7 432.1C407.0 434.4 405.5 436.2 407.0 437.9C408.6 439.6 416.3 440.2 407.0 442.6C397.7 444.9 372.1 449.3 351.1 451.9C330.2 454.4 304.5 456.6 281.3 457.7C258.0 458.8 234.7 458.7 211.4 458.4C188.1 458.1 162.6 457.3 141.5 456.1C120.4 454.8 101.9 451.5 84.7 450.9C67.4 450.3 52.2 451.9 38.1 452.5C24.0 453.1 9.2 454.0 -0.1 454.4C-9.4 454.7 -14.9 454.4 -17.8 454.4Z" fill="#001cff"/><path d="M-17.8 240.1C-14.9 240.1 -6.3 239.8 -0.1 240.1C6.1 240.4 11.1 240.3 19.5 241.9C27.8 243.6 39.6 246.2 49.7 249.9C59.8 253.5 70.3 258.9 80.0 263.8C89.7 268.8 98.6 274.5 108.0 279.7C117.3 284.8 130.3 291.8 135.9 294.8C141.5 297.8 132.8 295.1 141.5 297.4C150.2 299.8 172.6 305.0 188.1 308.6C203.6 312.2 219.1 315.6 234.7 319.1C250.2 322.6 267.7 326.7 281.3 329.6C294.8 332.5 310.9 333.9 316.2 336.6C321.4 339.3 318.5 342.8 312.7 345.9C306.9 349.0 291.2 351.7 281.3 355.2C271.4 358.7 259.1 363.0 253.3 366.9C247.5 370.7 246.7 373.7 246.3 378.5C245.9 383.4 247.5 390.0 251.0 396.0C254.5 402.0 262.8 409.6 267.3 414.6C271.7 419.7 276.0 423.1 277.8 426.3C279.5 429.4 284.9 430.6 277.8 433.2C270.6 435.9 249.6 439.8 234.7 442.1C219.7 444.3 203.6 445.9 188.1 446.7C172.6 447.6 158.7 447.7 141.5 447.2C124.3 446.7 101.9 444.9 84.7 443.9C67.4 442.8 52.2 441.6 38.1 440.8C24.0 440.1 9.2 439.5 -0.1 439.2C-9.4 438.9 -14.9 439.2 -17.8 439.2Z" fill="#0034ff"/><path d="M-17.8 246.6C-14.9 246.6 -6.3 246.3 -0.1 246.6C6.1 246.9 11.5 246.7 19.5 248.2C27.4 249.8 38.1 252.4 47.4 255.9C56.7 259.4 66.0 264.3 75.4 269.2C84.7 274.1 94.0 280.1 103.3 285.5C112.6 290.9 124.9 298.2 131.3 301.8C137.6 305.4 134.0 304.5 141.5 307.0C149.0 309.5 164.8 313.4 176.4 316.8C188.1 320.2 200.9 323.8 211.4 327.3C221.9 330.7 237.0 332.4 239.3 337.3C241.7 342.1 228.1 350.5 225.4 356.4C222.6 362.3 221.9 365.7 223.0 372.7C224.2 379.7 229.6 391.5 232.3 398.3C235.1 405.1 238.9 408.8 239.3 413.4C239.7 418.1 239.3 422.6 234.7 426.3C230.0 429.9 221.1 433.4 211.4 435.6C201.7 437.7 188.1 438.3 176.4 439.1C164.8 439.8 156.8 440.7 141.5 440.2C126.2 439.7 101.9 437.5 84.7 436.2C67.4 434.9 52.2 433.3 38.1 432.2C24.0 431.2 9.2 430.3 -0.1 429.9C-9.4 429.5 -14.9 429.9 -17.8 429.9Z" fill="#004cff"/><path d="M-17.8 252.9C-14.9 252.9 -6.3 252.6 -0.1 252.9C6.1 253.2 11.9 253.1 19.5 254.5C27.0 255.9 36.5 258.3 45.1 261.5C53.6 264.7 62.2 269.3 70.7 273.8C79.2 278.4 87.8 283.9 96.3 289.0C104.9 294.0 114.4 299.8 121.9 304.1C129.5 308.4 134.4 311.0 141.5 314.7C148.6 318.3 157.0 322.4 164.8 326.1C172.6 329.7 182.3 330.4 188.1 336.6C193.9 342.8 195.8 355.0 199.7 363.4C203.6 371.7 208.3 379.9 211.4 386.7C214.5 393.4 218.0 398.3 218.4 404.1C218.8 409.9 218.8 417.7 213.7 421.6C208.7 425.5 200.1 425.8 188.1 427.4C176.0 429.0 158.7 431.3 141.5 431.4C124.3 431.4 101.9 428.7 84.7 427.6C67.4 426.4 52.2 425.5 38.1 424.5C24.0 423.6 9.2 422.2 -0.1 421.7C-9.4 421.3 -14.9 421.7 -17.8 421.7Z" fill="#0064ff"/><path d="M-17.8 258.7C-14.9 258.7 -6.3 258.4 -0.1 258.7C6.1 259.0 12.3 259.2 19.5 260.6C26.6 261.9 35.0 263.9 42.7 266.9C50.5 269.8 58.3 274.2 66.0 278.5C73.8 282.8 81.6 287.8 89.3 292.5C97.1 297.1 104.9 302.0 112.6 306.5C120.4 310.9 128.9 315.4 135.9 319.3C142.9 323.1 149.7 325.1 154.5 329.7C159.4 334.4 161.5 341.2 165.0 347.2C168.5 353.2 171.4 359.6 175.5 365.8C179.6 372.1 185.5 379.0 189.5 384.5C193.5 389.9 198.7 394.2 199.5 398.5C200.3 402.7 197.8 407.2 194.1 410.1C190.5 413.0 186.4 414.7 177.8 415.9C169.3 417.2 156.5 417.4 142.9 417.6C129.3 417.7 111.8 417.1 96.3 416.6C80.8 416.2 65.8 415.5 49.7 414.8C33.7 414.0 11.1 412.4 -0.1 412.0C-11.4 411.5 -14.9 412.0 -17.8 412.0Z" fill="#0080ff"/><path d="M-17.8 265.2C-14.9 265.2 -5.5 265.0 -0.1 265.2C5.3 265.5 9.2 265.6 14.8 266.9C20.4 268.1 27.2 270.2 33.4 272.7C39.6 275.2 45.8 278.5 52.1 282.0C58.3 285.5 65.3 289.3 70.7 293.6C76.1 298.0 83.5 304.5 84.7 308.1C85.8 311.7 81.6 313.5 77.7 315.1C73.8 316.6 68.0 316.9 61.4 317.4C54.8 317.9 45.8 318.3 38.1 318.1C30.3 317.9 21.2 317.1 14.8 316.5C8.4 315.8 5.3 314.5 -0.1 314.1C-5.5 313.8 -14.9 314.1 -17.8 314.1Z" fill="#0098ff"/><path d="M-17.8 340.2C-14.9 340.2 -9.4 339.8 -0.1 340.2C9.2 340.6 24.0 341.8 38.1 342.6C52.2 343.3 72.2 344.0 84.7 344.9C97.1 345.7 104.9 346.1 112.6 347.7C120.4 349.2 125.0 350.8 131.3 354.2C137.5 357.6 143.7 363.1 149.9 368.2C156.1 373.2 164.1 380.2 168.5 384.5C172.9 388.8 175.4 391.3 176.2 393.8C177.0 396.3 176.8 397.9 173.2 399.6C169.6 401.4 163.5 403.2 154.5 404.3C145.6 405.3 135.1 405.8 119.6 405.9C104.1 406.0 81.3 405.3 61.4 404.7C41.4 404.2 13.1 402.8 -0.1 402.4C-13.3 402.0 -14.9 402.4 -17.8 402.4Z" fill="#0098ff"/><path d="M-17.8 276.9C-14.9 276.9 -5.5 276.7 -0.1 276.9C5.3 277.0 10.0 277.0 14.8 277.8C19.6 278.7 24.5 280.2 28.8 282.0C33.0 283.8 38.7 286.4 40.4 288.5C42.2 290.7 41.6 293.3 39.2 294.8C36.9 296.4 30.9 297.2 26.4 297.8C22.0 298.5 16.9 298.7 12.5 298.8C8.0 298.8 4.9 298.4 -0.1 298.3C-5.2 298.2 -14.9 298.3 -17.8 298.3Z" fill="#00b0ff"/><path d="M-17.8 356.1C-14.9 356.1 -7.5 355.8 -0.1 356.1C7.3 356.3 17.0 356.8 26.4 357.7C35.9 358.5 47.0 359.6 56.7 361.2C66.4 362.7 76.5 364.7 84.7 367.0C92.8 369.3 100.0 372.3 105.6 375.2C111.3 378.1 118.1 382.1 118.4 384.5C118.8 386.9 112.0 388.1 108.0 389.6C103.9 391.1 99.8 392.2 94.0 393.3C88.2 394.4 82.3 395.7 73.0 396.1C63.7 396.5 50.3 395.9 38.1 395.7C25.9 395.4 9.2 394.7 -0.1 394.5C-9.4 394.3 -14.9 394.5 -17.8 394.5Z" fill="#00b0ff"/><path d="M1384.0 212.1C1381.9 212.1 1390.4 211.7 1371.0 212.1C1351.6 212.4 1296.5 213.4 1267.6 214.2C1238.7 214.9 1217.1 215.6 1197.7 216.5C1178.3 217.4 1166.7 217.7 1151.1 219.3C1135.6 220.8 1118.1 223.2 1104.5 225.8C1091.0 228.5 1081.3 231.4 1069.6 235.1C1058.0 238.8 1044.8 242.9 1034.7 247.9C1024.6 253.0 1016.4 259.8 1009.0 265.4C1001.7 271.0 994.7 277.1 990.4 281.7C986.1 286.4 983.8 289.1 983.4 293.4C983.0 297.6 985.0 302.3 988.1 307.3C991.2 312.4 995.8 317.8 1002.1 323.6C1008.3 329.5 1016.8 336.5 1025.4 342.3C1033.9 348.1 1043.2 352.8 1053.3 358.6C1063.4 364.4 1074.3 371.2 1085.9 377.2C1097.6 383.2 1110.4 389.4 1123.2 394.7C1136.0 399.9 1148.4 404.6 1162.8 408.7C1177.1 412.7 1191.9 415.6 1209.4 419.1C1226.8 422.6 1240.6 425.7 1267.6 429.6C1294.5 433.5 1351.6 440.5 1371.0 442.7C1390.4 444.8 1381.9 442.7 1384.0 442.7Z" fill="#001cff"/><path d="M1384.0 219.1C1381.9 219.1 1390.4 218.9 1371.0 219.1C1351.6 219.2 1296.5 219.5 1267.6 220.0C1238.7 220.5 1217.1 221.2 1197.7 222.3C1178.3 223.5 1165.9 224.8 1151.1 227.0C1136.4 229.1 1121.6 232.0 1109.2 235.1C1096.8 238.2 1087.1 241.5 1076.6 245.6C1066.1 249.7 1054.9 254.9 1046.3 259.6C1037.8 264.2 1030.8 269.1 1025.4 273.6C1019.9 278.0 1015.3 281.9 1013.7 286.4C1012.2 290.8 1013.3 294.9 1016.0 300.4C1018.8 305.8 1024.2 312.8 1030.0 319.0C1035.8 325.2 1043.2 331.6 1051.0 337.6C1058.7 343.6 1066.9 349.3 1076.6 355.1C1086.3 360.9 1097.6 366.9 1109.2 372.6C1120.8 378.2 1133.7 384.2 1146.5 388.9C1159.3 393.5 1171.7 396.8 1186.1 400.5C1200.4 404.2 1215.2 407.5 1232.6 411.0C1250.1 414.5 1267.8 418.5 1290.9 421.5C1313.9 424.4 1355.5 427.5 1371.0 428.7C1386.5 429.9 1381.9 428.7 1384.0 428.7Z" fill="#0034ff"/><path d="M1384.0 224.9C1381.9 224.9 1390.4 224.8 1371.0 224.9C1351.6 225.0 1294.5 224.9 1267.6 225.4C1240.6 225.8 1226.8 226.5 1209.4 227.7C1191.9 228.8 1177.1 230.3 1162.8 232.3C1148.4 234.4 1134.8 237.0 1123.2 239.8C1111.5 242.6 1102.2 245.4 1092.9 249.1C1083.6 252.8 1074.3 257.8 1067.3 261.9C1060.3 266.0 1054.5 270.1 1051.0 273.6C1047.5 277.1 1046.7 279.2 1046.3 282.9C1045.9 286.6 1046.3 290.5 1048.6 295.7C1051.0 300.9 1055.2 308.1 1060.3 314.3C1065.3 320.5 1071.5 326.7 1078.9 333.0C1086.3 339.2 1094.8 345.4 1104.5 351.6C1114.2 357.8 1125.5 364.6 1137.2 370.2C1148.8 375.9 1160.4 380.7 1174.4 385.4C1188.4 390.0 1203.5 394.3 1221.0 398.2C1238.5 402.1 1254.2 405.7 1279.2 408.7C1304.2 411.6 1353.5 414.7 1371.0 415.9C1388.5 417.1 1381.9 415.9 1384.0 415.9Z" fill="#004cff"/><path d="M1384.0 231.9C1381.9 231.9 1390.4 231.8 1371.0 231.9C1351.6 232.0 1294.5 231.9 1267.6 232.3C1240.6 232.8 1225.7 233.5 1209.4 234.7C1193.1 235.8 1182.2 237.4 1169.8 239.3C1157.3 241.3 1145.3 243.7 1134.8 246.3C1124.3 248.9 1115.0 251.7 1106.9 254.9C1098.7 258.1 1091.2 261.9 1085.9 265.4C1080.7 268.9 1077.2 272.4 1075.4 275.9C1073.7 279.4 1074.1 281.9 1075.4 286.4C1076.8 290.8 1079.5 296.9 1083.6 302.7C1087.7 308.5 1093.3 315.1 1099.9 321.3C1106.5 327.5 1114.6 333.7 1123.2 339.9C1131.7 346.2 1140.6 352.8 1151.1 358.6C1161.6 364.4 1172.5 369.8 1186.1 374.9C1199.7 379.9 1215.2 384.6 1232.6 388.9C1250.1 393.1 1267.8 397.6 1290.9 400.5C1313.9 403.5 1355.5 405.6 1371.0 406.6C1386.5 407.6 1381.9 406.6 1384.0 406.6Z" fill="#0064ff"/><path d="M1384.0 240.0C1381.9 240.0 1390.4 239.9 1371.0 240.0C1351.6 240.1 1292.6 240.1 1267.6 240.5C1242.6 240.8 1235.4 241.2 1221.0 242.1C1206.6 243.1 1193.4 244.6 1181.4 246.3C1169.4 248.1 1158.5 250.2 1148.8 252.6C1139.1 255.0 1130.0 257.8 1123.2 260.8C1116.4 263.7 1111.1 267.2 1108.0 270.1C1104.9 273.0 1104.3 274.7 1104.5 278.2C1104.7 281.7 1106.1 285.8 1109.2 291.0C1112.3 296.3 1117.7 303.8 1123.2 309.7C1128.6 315.5 1134.8 320.3 1141.8 326.0C1148.8 331.6 1156.6 337.8 1165.1 343.4C1173.6 349.1 1182.6 354.5 1193.1 359.7C1203.5 365.0 1213.6 369.8 1228.0 374.9C1242.4 379.9 1255.4 385.9 1279.2 390.0C1303.1 394.1 1353.5 398.0 1371.0 399.6C1388.5 401.2 1381.9 399.6 1384.0 399.6Z" fill="#0080ff"/><path d="M1209.1 317.1C1205.7 316.1 1195.1 312.7 1188.4 310.8C1181.7 309.0 1176.2 307.6 1168.8 306.2C1161.4 304.8 1150.1 303.2 1143.9 302.4C1137.7 301.7 1134.6 301.1 1131.6 301.7C1128.5 302.4 1125.7 303.7 1125.5 306.2C1125.3 308.7 1127.4 313.0 1130.2 316.7C1132.9 320.3 1137.5 324.4 1141.8 328.3C1146.1 332.2 1151.3 336.3 1155.8 339.9C1160.2 343.6 1165.1 347.7 1168.6 350.4C1172.1 353.1 1175.0 356.4 1176.7 356.3C1178.5 356.1 1178.3 352.2 1179.1 349.3C1179.9 346.4 1179.4 342.3 1181.4 338.8C1183.4 335.3 1186.6 331.9 1191.2 328.3C1195.8 324.7 1206.1 319.0 1209.1 317.1Z" fill="#0064ff"/><path d="M1384.0 249.8C1381.9 249.8 1384.6 249.7 1371.0 249.8C1357.5 249.9 1321.9 250.2 1302.8 250.5C1283.6 250.8 1271.3 251.1 1256.2 251.7C1241.0 252.3 1224.7 253.0 1211.9 254.0C1199.1 255.0 1188.2 255.9 1179.3 257.5C1170.4 259.0 1164.1 261.3 1158.3 263.3C1152.6 265.3 1145.1 266.8 1145.1 269.4C1145.1 271.9 1152.6 275.4 1158.3 278.5C1164.1 281.5 1171.9 284.9 1179.3 287.8C1186.7 290.7 1193.7 293.4 1202.6 295.9C1211.5 298.4 1222.0 301.0 1232.9 302.9C1243.8 304.9 1254.2 306.5 1267.8 307.6C1281.4 308.6 1297.2 308.9 1314.4 309.2C1331.6 309.5 1359.4 309.2 1371.0 309.2C1382.6 309.2 1381.9 309.2 1384.0 309.2Z" fill="#0098ff"/><path d="M1384.0 337.2C1381.9 337.2 1380.7 337.1 1371.0 337.2C1361.3 337.2 1339.4 337.2 1326.0 337.6C1312.7 338.0 1302.8 338.5 1291.1 339.5C1279.5 340.5 1267.8 341.6 1256.2 343.4C1244.5 345.3 1230.4 348.0 1221.2 350.4C1212.1 352.9 1201.4 355.2 1201.4 358.1C1201.4 361.0 1212.1 364.5 1221.2 367.9C1230.4 371.3 1244.5 375.5 1256.2 378.4C1267.8 381.3 1279.5 383.4 1291.1 385.4C1302.8 387.3 1312.7 388.8 1326.0 390.0C1339.4 391.2 1361.3 392.2 1371.0 392.6C1380.7 393.0 1381.9 392.6 1384.0 392.6Z" fill="#0098ff"/><path d="M1384.0 266.1C1381.9 266.1 1380.7 266.4 1371.0 266.1C1361.3 265.8 1339.4 264.9 1326.0 264.5C1312.7 264.0 1302.4 263.4 1291.1 263.3C1279.9 263.2 1268.6 263.4 1258.5 263.8C1248.4 264.2 1238.4 264.7 1230.6 265.6C1222.8 266.6 1211.7 267.6 1211.7 269.4C1211.7 271.1 1222.8 273.6 1230.6 276.1C1238.4 278.6 1248.4 282.0 1258.5 284.3C1268.6 286.6 1279.9 288.5 1291.1 290.1C1302.4 291.7 1312.7 292.8 1326.0 293.6C1339.4 294.4 1361.3 294.6 1371.0 294.8C1380.7 295.0 1381.9 294.8 1384.0 294.8Z" fill="#00b0ff"/><path d="M1384.0 349.0C1381.9 349.0 1384.6 349.0 1371.0 349.0C1357.4 349.1 1319.8 349.0 1302.5 349.3C1285.3 349.5 1277.3 349.7 1267.6 350.4C1257.9 351.1 1244.5 351.5 1244.5 353.5C1244.5 355.4 1257.9 358.9 1267.6 362.1C1277.3 365.3 1290.9 369.5 1302.5 372.6C1314.2 375.7 1326.0 378.7 1337.5 380.7C1348.9 382.7 1363.2 383.8 1371.0 384.4C1378.8 385.1 1381.9 384.4 1384.0 384.4Z" fill="#00b0ff"/><path d="M1113.3 583.0L1136.5 581.3L1142.5 581.5L1278.4 592.0L1371.0 598.8L1377.0 598.8L1377.0 679.0L-6.0 679.0L-6.0 606.1L6.0 606.4L36.1 608.8L96.2 615.4L180.4 623.2L204.5 625.9L235.7 631.0L247.8 634.0L257.5 637.0L264.6 641.0L270.6 643.0L417.2 643.0L439.0 641.9L489.8 637.0L601.3 630.8L619.4 628.9L695.9 619.0L799.7 608.1L926.0 596.9L997.7 592.0Z" fill="#001cff" fill-rule="evenodd"/><path d="M1116.0 586.0L1136.5 584.6L1142.5 584.8L1340.9 599.2L1371.0 601.9L1377.0 601.9L1377.0 679.0L-6.0 679.0L-6.0 610.4L12.0 611.1L48.1 614.3L105.3 622.0L165.6 628.0L189.9 631.0L202.9 634.0L209.8 637.0L212.4 640.0L215.7 646.0L223.1 649.0L237.2 652.0L252.6 653.8L270.6 654.7L384.8 655.9L439.0 655.9L493.1 655.0L589.3 652.0L601.3 651.2L619.3 649.0L630.4 646.0L633.2 643.0L634.7 640.0L637.7 637.0L644.9 634.0L656.4 631.0L679.5 627.2L763.7 616.0L926.0 599.9Z" fill="#0034ff" fill-rule="evenodd"/><path d="M1105.8 589.0L1136.5 587.1L1148.5 587.6L1232.7 593.5L1334.9 601.5L1371.0 605.1L1377.0 605.1L1377.0 679.0L-6.0 679.0L-6.0 613.7L18.1 614.9L48.1 618.0L91.9 625.0L139.7 631.0L156.1 634.0L166.1 637.0L170.0 640.0L174.2 646.0L181.8 649.0L193.5 652.0L208.5 655.0L234.5 658.6L264.6 660.7L366.8 663.0L414.9 663.4L469.0 662.7L595.3 658.3L625.4 655.7L648.7 652.0L660.7 649.0L667.7 646.0L671.0 640.0L673.7 637.0L680.7 634.0L685.5 632.8L692.7 631.0L711.3 628.0L769.7 619.4L793.7 616.5L835.8 612.5L932.0 602.2Z" fill="#004cff" fill-rule="evenodd"/><path d="M1092.3 592.0L1136.5 589.3L1142.5 589.4L1232.7 595.8L1340.9 604.8L1371.0 608.1L1377.0 608.1L1377.0 679.0L423.7 679.0L423.7 676.0L439.0 674.8L453.2 673.0L601.3 664.0L625.4 661.7L652.4 658.0L673.5 654.0L692.2 649.0L698.3 646.0L701.5 640.0L704.4 637.0L711.4 634.0L722.3 631.0L745.6 626.8L793.7 619.9L932.0 605.1ZM-6.0 619.0L-6.0 616.5L6.0 616.9L24.1 618.6L60.1 623.6L102.5 631.0L116.2 634.0L125.0 637.0L128.6 640.0L130.4 643.0L133.3 646.0L142.6 649.0L180.4 657.9L198.4 661.0L222.5 664.1L246.5 666.2L322.8 670.0L370.8 673.0L384.8 674.9L399.2 676.0L399.2 679.0L-6.0 679.0Z" fill="#0064ff" fill-rule="evenodd"/><path d="M1124.0 592.0L1142.5 591.5L1178.6 593.7L1340.9 607.4L1365.0 610.0L1377.0 610.5L1377.0 679.0L591.8 679.0L591.8 676.0L598.7 673.0L673.5 660.5L697.5 655.7L709.6 652.6L718.8 649.0L723.1 646.0L725.6 640.0L728.1 637.0L734.3 634.0L744.4 631.0L760.2 628.0L847.9 616.3L926.0 608.2L1046.3 597.8ZM-6.0 622.0L-6.0 619.4L12.0 620.5L54.1 625.9L80.1 631.0L89.4 634.0L95.7 637.0L98.6 640.0L100.1 643.0L102.4 646.0L108.2 648.0L124.2 652.0L156.4 658.8L186.4 667.4L213.0 673.0L218.4 676.0L218.4 679.0L-6.0 679.0Z" fill="#0080ff" fill-rule="evenodd"/><path d="M1108.7 595.0L1136.5 593.4L1172.6 595.3L1334.9 609.0L1371.0 612.6L1377.0 612.6L1377.0 679.0L649.6 679.0L649.6 676.0L652.6 673.0L661.8 670.0L709.6 659.5L721.6 656.1L733.1 652.0L739.0 649.0L742.5 646.0L744.7 640.0L747.1 637.0L753.3 634.0L763.6 631.0L769.7 629.8L787.7 626.9L853.9 618.0L920.0 611.0ZM-6.0 625.0L-6.0 622.3L6.0 622.7L42.1 627.0L63.5 631.0L72.4 634.0L77.7 637.0L79.9 640.0L82.7 646.0L89.0 649.0L102.2 652.7L143.1 661.0L153.5 664.0L161.5 667.0L167.5 670.0L171.5 673.0L172.7 676.0L172.7 679.0L-6.0 679.0Z" fill="#0098ff" fill-rule="evenodd"/><path d="M1095.6 598.0L1136.5 595.5L1154.5 596.3L1184.6 598.3L1282.2 607.0L1340.9 611.4L1371.0 614.5L1377.0 614.5L1377.0 679.0L686.9 679.0L686.9 676.0L689.3 673.0L696.6 670.0L733.6 659.0L751.3 652.0L756.3 649.0L759.4 646.0L761.6 640.0L764.1 637.0L770.4 634.0L781.2 631.0L798.8 628.0L859.9 619.7L926.0 612.2L993.8 607.0ZM-6.0 625.0L6.0 625.3L29.6 628.0L47.6 631.0L57.5 634.0L63.1 637.0L65.2 640.0L68.0 646.0L74.0 649.0L96.2 655.7L132.3 663.4L144.1 667.0L150.5 670.0L154.4 673.0L155.5 676.0L155.5 679.0L-6.0 679.0Z" fill="#00b0ff" fill-rule="evenodd"/><path d="M1128.9 598.0L1142.5 597.8L1178.6 599.8L1261.5 607.0L1340.9 613.1L1371.0 616.4L1377.0 616.4L1377.0 679.0L716.8 679.0L716.8 676.0L718.4 673.0L723.4 670.0L754.5 658.0L767.7 652.0L772.3 649.0L775.1 646.0L777.1 640.0L779.8 637.0L786.4 634.0L797.9 631.0L847.9 623.6L932.0 613.4L1014.5 607.0L1094.4 600.1ZM-6.0 628.0L-6.0 627.0L0.0 627.0L12.0 628.2L30.4 631.0L42.4 634.0L48.9 637.0L51.3 640.0L54.3 646.0L60.4 649.0L96.2 659.5L126.2 667.0L132.3 669.2L139.0 673.0L140.4 676.0L140.4 679.0L-6.0 679.0Z" fill="#00c8ff" fill-rule="evenodd"/><path d="M1109.6 601.0L1136.5 599.5L1178.6 601.7L1334.9 614.3L1371.0 618.4L1377.0 618.4L1377.0 679.0L738.4 679.0L738.4 676.0L739.8 673.0L743.9 670.0L749.8 667.0L777.8 655.0L783.3 652.0L787.4 649.0L789.9 646.0L792.0 640.0L794.8 637.0L801.9 634.0L813.7 631.0L847.9 625.6L932.0 615.1ZM-6.0 631.0L-6.0 629.4L0.0 629.4L13.5 631.0L26.4 634.0L33.7 637.0L36.5 640.0L40.1 646.0L46.9 649.0L84.2 659.5L116.7 670.0L122.3 673.0L124.0 676.0L124.0 679.0L-6.0 679.0Z" fill="#00e0fb" fill-rule="evenodd"/><path d="M1089.7 604.0L1136.5 601.3L1166.5 602.6L1334.9 615.9L1371.0 620.3L1377.0 620.3L1377.0 679.0L757.3 679.0L757.3 676.0L758.5 673.0L762.2 670.0L767.6 667.0L793.4 655.0L799.7 650.9L802.1 649.0L804.4 646.0L805.0 643.0L806.4 640.0L809.2 637.0L816.2 634.0L827.4 631.0L853.9 626.7L932.0 616.8ZM-6.0 634.0L-6.0 632.2L0.0 632.2L12.0 634.5L18.8 637.0L21.8 640.0L25.3 646.0L32.3 649.0L72.2 659.3L87.5 664.0L101.5 670.0L106.3 673.0L107.8 676.0L107.8 679.0L-6.0 679.0Z" fill="#0ff8e7" fill-rule="evenodd"/><path d="M1113.0 604.0L1136.5 602.8L1184.6 605.2L1328.9 617.1L1369.0 622.0L1377.0 622.2L1377.0 679.0L775.3 679.0L775.3 676.0L776.4 673.0L779.9 670.0L785.0 667.0L805.8 656.8L812.9 652.0L815.8 649.0L817.5 646.0L818.0 643.0L819.3 640.0L822.0 637.0L828.7 634.0L840.1 631.0L859.9 627.8L938.0 618.0L1040.3 609.2ZM-6.0 637.0L1.2 637.0L5.9 640.0L10.2 646.0L17.9 649.0L28.8 652.0L66.2 660.7L77.7 664.0L84.2 666.5L90.9 670.0L94.5 673.0L95.6 676.0L95.6 679.0L-6.0 679.0Z" fill="#23ffd4" fill-rule="evenodd"/><path d="M1086.2 607.0L1136.5 604.2L1172.6 605.8L1244.7 611.3L1340.9 620.0L1371.0 623.8L1377.0 623.8L1377.0 679.0L793.5 679.0L793.5 676.0L794.6 673.0L798.0 670.0L817.8 658.6L825.7 652.0L827.9 649.0L830.9 640.0L833.6 637.0L840.6 634.0L847.9 632.1L872.2 628.0L932.0 620.3L1034.3 611.0ZM-6.0 649.0L0.0 648.9L6.0 650.1L48.1 659.1L67.1 664.0L76.0 667.0L82.1 670.0L85.8 673.0L86.8 676.0L86.8 679.0L-6.0 679.0Z" fill="#36ffc1" fill-rule="evenodd"/><path d="M1105.0 607.0L1136.5 605.5L1178.6 607.4L1244.7 612.7L1334.9 621.0L1371.0 625.3L1377.0 625.3L1377.0 679.0L813.1 679.0L813.1 676.0L814.1 673.0L817.0 670.0L832.7 658.0L837.8 652.0L839.5 649.0L840.7 643.0L842.1 640.0L845.0 637.0L853.9 633.6L865.3 631.0L877.9 629.1L938.0 621.4L1040.3 611.9ZM-6.0 655.0L-6.0 652.8L0.0 652.8L6.0 653.6L42.1 660.5L56.5 664.0L65.9 667.0L72.9 670.0L77.2 673.0L78.5 676.0L78.5 679.0L-6.0 679.0Z" fill="#49ffad" fill-rule="evenodd"/><path d="M1129.6 607.0L1142.5 606.8L1190.6 609.5L1233.3 613.0L1293.2 619.0L1340.9 623.1L1371.0 626.9L1377.0 626.9L1377.0 679.0L833.0 679.0L833.7 673.0L835.7 670.0L846.4 658.0L850.0 652.0L851.1 649.0L852.1 643.0L853.6 640.0L856.8 637.0L864.7 634.0L878.0 631.0L932.0 623.4L982.8 619.0L1046.3 612.7L1094.4 608.8ZM-6.0 658.0L-6.0 655.8L0.0 655.8L6.0 656.5L24.1 659.6L48.1 664.8L55.6 667.0L63.1 670.0L67.7 673.0L69.1 676.0L69.1 679.0L-6.0 679.0Z" fill="#5dff9a" fill-rule="evenodd"/><path d="M1095.3 610.0L1136.5 608.0L1178.6 609.9L1340.9 624.4L1371.0 628.5L1377.0 628.5L1377.0 679.0L852.8 679.0L853.2 673.0L860.5 658.0L862.6 652.0L863.9 643.0L865.5 640.0L868.9 637.0L877.0 634.0L890.2 631.0L932.0 624.7ZM-6.0 661.0L-6.0 658.6L6.0 659.3L24.1 662.3L44.5 667.0L53.0 670.0L58.0 673.0L59.6 676.0L59.6 679.0L-6.0 679.0Z" fill="#70ff87" fill-rule="evenodd"/><path d="M1117.9 610.0L1142.5 609.3L1184.6 611.6L1295.0 622.0L1334.9 625.2L1371.0 630.3L1377.0 630.3L1377.0 679.0L872.6 679.0L872.7 673.0L875.1 655.0L875.8 643.0L877.5 640.0L880.8 637.0L888.9 634.0L901.3 631.0L914.0 628.8L938.0 625.5L981.0 622.0L1088.4 611.8ZM-6.0 664.0L-6.0 661.3L0.0 661.3L18.1 663.9L31.7 667.0L41.8 670.0L47.7 673.0L49.4 676.0L49.4 679.0L-6.0 679.0Z" fill="#87ff70" fill-rule="evenodd"/><path d="M1090.2 613.0L1136.5 610.5L1178.6 612.4L1334.9 626.6L1347.0 628.0L1371.0 632.5L1377.0 632.5L1377.0 679.0L892.2 679.0L892.0 673.0L887.7 652.0L887.2 643.0L888.9 640.0L892.2 637.0L899.8 634.0L911.0 631.0L938.0 626.9ZM-6.0 667.0L-6.0 664.1L0.0 664.1L12.0 665.8L24.1 668.6L29.0 670.0L35.7 673.0L37.7 676.0L37.7 679.0L-6.0 679.0Z" fill="#9aff5d" fill-rule="evenodd"/><path d="M1110.5 613.0L1136.5 611.8L1184.6 614.2L1335.0 628.0L1355.0 631.0L1371.0 635.7L1377.0 635.7L1377.0 679.0L911.3 679.0L910.7 673.0L901.7 658.0L898.5 649.0L898.0 643.0L899.5 640.0L902.6 637.0L909.4 634.0L920.3 631.0L944.1 627.7L1088.4 614.5ZM-6.0 670.0L-6.0 667.3L0.0 667.3L15.2 670.0L22.8 673.0L25.0 676.0L25.0 679.0L-6.0 679.0Z" fill="#adff49" fill-rule="evenodd"/><path d="M1086.4 616.0L1100.4 614.9L1136.5 613.2L1172.6 614.7L1238.7 620.3L1320.4 628.0L1345.6 631.0L1356.9 634.0L1363.6 637.0L1367.0 640.0L1368.7 643.0L1369.7 649.0L1371.0 651.9L1377.0 651.9L1377.0 679.0L929.2 679.0L929.2 676.0L928.3 673.0L913.2 658.0L909.4 652.0L907.6 646.0L907.5 643.0L908.9 640.0L911.7 637.0L918.3 634.0L930.2 631.0L955.6 628.0ZM-6.0 673.0L-6.0 671.7L0.0 671.7L6.6 673.0L9.9 676.0L9.9 679.0L-6.0 679.0Z" fill="#c1ff36" fill-rule="evenodd"/><path d="M1103.2 616.0L1136.5 614.4L1178.6 616.3L1232.7 620.8L1305.5 628.0L1333.8 631.0L1346.9 633.7L1354.7 637.0L1357.6 640.0L1359.0 643.0L1359.6 652.0L1360.9 658.0L1365.0 666.7L1370.0 673.0L1370.9 676.0L1370.9 679.0L946.8 679.0L946.8 676.0L945.8 673.0L942.5 670.0L932.0 663.5L924.4 658.0L918.9 652.0L916.4 646.0L916.2 643.0L917.6 640.0L920.6 637.0L927.7 634.0L942.3 631.0L1040.3 621.1Z" fill="#d4ff23" fill-rule="evenodd"/><path d="M1129.2 616.0L1142.5 615.8L1184.6 618.0L1256.7 624.3L1319.4 631.0L1328.9 632.5L1337.3 634.0L1345.8 637.0L1346.9 638.0L1349.0 640.0L1350.5 643.0L1349.8 652.0L1348.4 658.0L1346.9 661.8L1339.7 673.0L1339.1 679.0L965.1 679.0L965.1 676.0L963.9 673.0L960.1 670.0L938.0 658.7L932.2 655.0L926.6 649.0L925.3 646.0L925.0 643.0L926.0 641.0L930.0 637.0L938.7 634.0L956.6 631.0L1046.3 621.7L1094.4 617.7Z" fill="#e7ff0f" fill-rule="evenodd"/><path d="M1093.3 619.0L1130.5 617.1L1148.5 617.2L1178.6 618.7L1252.8 625.0L1304.7 631.0L1323.7 634.0L1334.5 637.0L1338.8 640.0L1340.9 643.0L1340.8 646.0L1338.6 652.0L1333.8 658.0L1328.9 661.9L1316.3 670.0L1312.8 673.0L1311.6 676.0L1311.6 679.0L985.4 679.0L985.4 676.0L983.7 673.0L978.9 670.0L972.6 667.0L945.6 655.0L938.0 649.6L935.6 646.0L935.2 643.0L938.0 639.3L941.6 637.0L952.3 634.0L971.2 631.0L1023.2 625.0Z" fill="#fbf100" fill-rule="evenodd"/><path d="M1112.5 619.0L1136.5 618.0L1178.6 619.7L1232.7 624.1L1268.2 628.0L1291.6 631.0L1309.1 634.0L1320.4 637.0L1325.7 640.0L1328.3 643.0L1327.9 646.0L1326.5 649.0L1324.1 652.0L1316.9 657.5L1304.8 663.7L1290.4 670.0L1285.2 673.0L1283.4 676.0L1283.4 679.0L1010.0 679.0L1010.0 676.0L1007.5 673.0L974.1 660.7L960.8 655.0L955.1 652.0L950.9 649.0L948.4 646.0L947.8 643.0L950.3 640.0L955.6 637.0L966.9 634.0L984.4 631.0L1040.3 624.4L1094.4 619.9Z" fill="#ffdb00" fill-rule="evenodd"/><path d="M1081.1 622.0L1106.4 620.2L1142.5 619.2L1178.6 620.7L1230.4 625.0L1257.7 628.0L1279.4 631.0L1295.7 634.0L1305.9 637.0L1311.1 640.0L1313.8 643.0L1313.3 646.0L1311.4 649.0L1308.3 652.0L1303.9 655.0L1298.4 658.0L1286.8 662.9L1258.2 673.0L1255.1 676.0L1255.1 679.0L1035.0 679.0L1035.0 676.0L1031.8 673.0L992.2 661.3L975.9 655.0L965.7 649.0L962.9 646.0L962.2 643.0L964.8 640.0L970.1 637.0L980.3 634.0L996.6 631.0L1034.3 626.2Z" fill="#ffc400" fill-rule="evenodd"/><path d="M1092.7 622.0L1130.5 620.3L1148.5 620.3L1183.3 622.0L1232.7 626.4L1268.2 631.0L1283.5 634.0L1292.8 637.0L1297.6 640.0L1300.0 643.0L1299.5 646.0L1297.4 649.0L1292.8 652.6L1282.4 658.0L1268.8 662.9L1256.7 666.3L1244.7 668.9L1221.3 673.0L1214.5 676.0L1214.5 679.0L1065.0 679.0L1065.0 676.0L1059.3 673.0L1016.2 663.4L998.2 658.1L990.0 655.0L983.9 652.0L979.4 649.0L976.7 646.0L976.0 643.0L978.4 640.0L983.1 637.0L992.5 634.0L1007.8 631.0L1040.3 626.7Z" fill="#ffae00" fill-rule="evenodd"/><path d="M1110.5 622.0L1136.5 621.1L1165.5 622.0L1184.6 623.1L1237.1 628.0L1257.9 631.0L1272.1 634.0L1280.8 637.0L1285.3 640.0L1287.6 643.0L1287.0 646.0L1284.6 649.0L1280.6 652.0L1268.8 657.6L1256.7 661.5L1238.7 665.4L1220.7 667.9L1190.6 670.9L1178.6 671.4L1136.5 670.2L1094.4 671.3L1082.4 670.6L1058.3 667.9L1028.2 662.5L1010.2 657.4L998.2 652.6L992.1 649.0L989.2 646.0L988.4 643.0L990.7 640.0L995.2 637.0L1003.9 634.0L1018.1 631.0L1046.3 627.2L1094.4 622.9Z" fill="#ff9400" fill-rule="evenodd"/><path d="M1082.4 625.0L1100.4 623.5L1136.5 622.0L1172.6 623.4L1190.6 624.7L1225.6 628.0L1250.7 631.6L1261.7 634.0L1269.6 637.0L1273.9 640.0L1276.0 643.0L1275.3 646.0L1272.8 649.0L1268.4 652.0L1262.3 655.0L1254.0 658.0L1244.7 660.4L1226.7 663.6L1208.6 665.8L1184.6 667.8L1136.5 667.5L1100.4 668.0L1088.4 667.6L1064.3 665.3L1046.3 662.7L1028.2 658.9L1015.8 655.0L1008.8 652.0L1003.8 649.0L1000.8 646.0L1000.0 643.0L1002.1 640.0L1006.3 637.0L1014.3 634.0L1028.2 631.0L1040.3 629.3Z" fill="#ff7e00" fill-rule="evenodd"/><path d="M1093.9 625.0L1124.5 623.5L1142.5 623.2L1178.6 624.7L1212.8 628.0L1237.4 631.0L1251.8 634.0L1259.5 637.0L1263.5 640.0L1265.4 643.0L1264.7 646.0L1261.9 649.0L1257.2 652.0L1250.7 654.8L1238.7 658.2L1220.7 661.3L1190.6 664.7L1178.6 665.4L1106.4 665.5L1094.4 665.3L1076.3 663.7L1052.3 660.6L1038.6 658.0L1027.7 655.0L1019.9 652.0L1014.5 649.0L1011.4 646.0L1010.6 643.0L1012.5 640.0L1016.5 637.0L1024.2 634.0L1038.6 631.0L1046.3 630.0Z" fill="#ff6800" fill-rule="evenodd"/><path d="M1113.0 625.0L1136.5 624.2L1172.6 625.5L1190.6 626.9L1226.0 631.0L1241.9 634.0L1249.6 637.0L1253.6 640.0L1255.6 643.0L1254.8 646.0L1251.6 649.0L1246.1 652.0L1237.3 655.0L1220.7 658.4L1196.6 661.6L1178.6 663.1L1118.4 663.3L1088.4 662.5L1064.3 659.6L1046.3 656.5L1034.3 653.2L1024.8 649.0L1021.3 646.0L1020.4 643.0L1022.4 640.0L1026.4 637.0L1034.1 634.0L1040.3 632.8L1050.0 631.0L1082.4 627.2Z" fill="#ff5200" fill-rule="evenodd"/><path d="M1085.7 628.0L1100.4 626.7L1136.5 625.2L1184.6 627.4L1213.1 631.0L1231.2 634.0L1239.6 637.0L1243.8 640.0L1245.8 643.0L1244.9 646.0L1241.2 649.0L1238.7 650.2L1234.3 652.0L1226.7 654.1L1214.6 656.4L1190.6 659.9L1178.6 661.0L1136.5 661.4L1094.4 660.8L1082.4 659.6L1058.3 655.8L1042.3 652.0L1035.2 649.0L1031.2 646.0L1030.2 643.0L1032.2 640.0L1036.4 637.0L1044.8 634.0Z" fill="#ff3b00" fill-rule="evenodd"/><path d="M1098.2 628.0L1136.5 626.4L1178.6 628.0L1218.9 634.0L1228.6 637.0L1233.4 640.0L1235.6 643.0L1234.4 646.0L1229.8 649.0L1226.7 650.1L1214.6 653.3L1196.6 656.7L1178.6 658.9L1136.5 659.6L1100.4 659.0L1088.4 658.0L1076.3 656.2L1055.6 652.0L1046.4 649.0L1041.6 646.0L1040.4 643.0L1042.6 640.0L1047.4 637.0L1057.1 634.0L1075.1 631.0Z" fill="#ff2500" fill-rule="evenodd"/><path d="M1121.4 628.0L1136.5 627.6L1154.8 628.0L1178.6 629.5L1190.5 631.0L1206.1 634.0L1215.9 637.0L1221.5 640.0L1224.0 643.0L1222.5 646.0L1216.5 649.0L1206.0 652.0L1190.6 655.3L1172.6 657.1L1136.5 657.8L1100.4 657.0L1083.9 655.0L1070.2 652.0L1059.6 649.0L1053.5 646.0L1051.9 643.0L1054.6 640.0L1060.1 637.0L1070.0 634.0L1094.4 629.9Z" fill="#fa0f00" fill-rule="evenodd"/><path d="M1098.3 631.0L1136.5 629.0L1178.6 631.1L1195.2 634.0L1203.2 637.0L1208.4 640.0L1211.1 643.0L1209.3 646.0L1203.1 649.0L1193.4 652.0L1184.6 653.8L1166.5 655.3L1136.5 655.9L1103.7 655.0L1088.4 653.2L1072.8 649.0L1066.6 646.0L1065.0 643.0L1067.6 640.0L1072.7 637.0L1080.8 634.0Z" fill="#df0000" fill-rule="evenodd"/><path d="M1124.4 631.0L1136.5 630.6L1151.4 631.0L1172.6 632.5L1184.5 634.0L1192.7 637.0L1197.1 640.0L1199.3 643.0L1197.8 646.0L1192.0 649.0L1179.4 652.0L1160.5 653.3L1136.5 653.9L1112.4 653.2L1094.4 651.6L1082.4 648.2L1078.2 646.0L1076.7 643.0L1078.9 640.0L1083.3 637.0L1091.6 634.0L1100.4 632.8Z" fill="#c40000" fill-rule="evenodd"/><path d="M1111.1 634.0L1136.5 632.7L1164.9 634.0L1181.0 637.0L1186.6 640.0L1188.9 643.0L1187.2 646.0L1178.6 649.1L1154.5 651.2L1136.5 651.7L1118.4 651.0L1097.3 649.0L1088.8 646.0L1087.0 643.0L1089.4 640.0L1094.9 637.0Z" fill="#a80000" fill-rule="evenodd"/><path d="M1120.4 637.0L1136.5 635.8L1154.5 636.9L1169.2 640.0L1174.5 643.0L1170.1 646.0L1166.5 646.6L1148.5 648.6L1136.5 648.9L1124.5 648.4L1106.4 646.1L1101.2 643.0L1106.7 640.0Z" fill="#8d0000" fill-rule="evenodd"/></g><g transform="translate(58.5,113.5)" clip-path="url(#cp)"><use href="#coast" xlink:href="#coast"/></g><rect x="58.5" y="113.5" width="1371" height="675" fill="none" stroke="#000" stroke-width="3.33"/><text x="744" y="88.0" font-size="50" text-anchor="middle" xml:space="preserve" style="white-space:pre">Combined (GIM), 2015-11-06 03:00 UT</text><rect x="58.50" y="831.5" width="33.24" height="68.0" fill="#00008d"/><rect x="91.14" y="831.5" width="33.24" height="68.0" fill="#0000a8"/><rect x="123.79" y="831.5" width="33.24" height="68.0" fill="#0000c4"/><rect x="156.43" y="831.5" width="33.24" height="68.0" fill="#0000df"/><rect x="189.07" y="831.5" width="33.24" height="68.0" fill="#0000fa"/><rect x="221.71" y="831.5" width="33.24" height="68.0" fill="#0004ff"/><rect x="254.36" y="831.5" width="33.24" height="68.0" fill="#001cff"/><rect x="287.00" y="831.5" width="33.24" height="68.0" fill="#0034ff"/><rect x="319.64" y="831.5" width="33.24" height="68.0" fill="#004cff"/><rect x="352.29" y="831.5" width="33.24" height="68.0" fill="#0064ff"/><rect x="384.93" y="831.5" width="33.24" height="68.0" fill="#0080ff"/><rect x="417.57" y="831.5" width="33.24" height="68.0" fill="#0098ff"/><rect x="450.21" y="831.5" width="33.24" height="68.0" fill="#00b0ff"/><rect x="482.86" y="831.5" width="33.24" height="68.0" fill="#00c8ff"/><rect x="515.50" y="831.5" width="33.24" height="68.0" fill="#00e0fb"/><rect x="548.14" y="831.5" width="33.24" height="68.0" fill="#0ff8e7"/><rect x="580.79" y="831.5" width="33.24" height="68.0" fill="#23ffd4"/><rect x="613.43" y="831.5" width="33.24" height="68.0" fill="#36ffc1"/><rect x="646.07" y="831.5" width="33.24" height="68.0" fill="#49ffad"/><rect x="678.71" y="831.5" width="33.24" height="68.0" fill="#5dff9a"/><rect x="711.36" y="831.5" width="33.24" height="68.0" fill="#70ff87"/><rect x="744.00" y="831.5" width="33.24" height="68.0" fill="#87ff70"/><rect x="776.64" y="831.5" width="33.24" height="68.0" fill="#9aff5d"/><rect x="809.29" y="831.5" width="33.24" height="68.0" fill="#adff49"/><rect x="841.93" y="831.5" width="33.24" height="68.0" fill="#c1ff36"/><rect x="874.57" y="831.5" width="33.24" height="68.0" fill="#d4ff23"/><rect x="907.21" y="831.5" width="33.24" height="68.0" fill="#e7ff0f"/><rect x="939.86" y="831.5" width="33.24" height="68.0" fill="#fbf100"/><rect x="972.50" y="831.5" width="33.24" height="68.0" fill="#ffdb00"/><rect x="1005.14" y="831.5" width="33.24" height="68.0" fill="#ffc400"/><rect x="1037.79" y="831.5" width="33.24" height="68.0" fill="#ffae00"/><rect x="1070.43" y="831.5" width="33.24" height="68.0" fill="#ff9400"/><rect x="1103.07" y="831.5" width="33.24" height="68.0" fill="#ff7e00"/><rect x="1135.71" y="831.5" width="33.24" height="68.0" fill="#ff6800"/><rect x="1168.36" y="831.5" width="33.24" height="68.0" fill="#ff5200"/><rect x="1201.00" y="831.5" width="33.24" height="68.0" fill="#ff3b00"/><rect x="1233.64" y="831.5" width="33.24" height="68.0" fill="#ff2500"/><rect x="1266.29" y="831.5" width="33.24" height="68.0" fill="#fa0f00"/><rect x="1298.93" y="831.5" width="33.24" height="68.0" fill="#df0000"/><rect x="1331.57" y="831.5" width="33.24" height="68.0" fill="#c40000"/><rect x="1364.21" y="831.5" width="33.24" height="68.0" fill="#a80000"/><rect x="1396.86" y="831.5" width="33.24" height="68.0" fill="#8d0000"/><rect x="58.5" y="831.5" width="1371.0" height="68.0" fill="none" stroke="#000" stroke-width="3.33"/><line x1="58.50" y1="899.5" x2="58.50" y2="914.1" stroke="#000" stroke-width="3.33"/><text x="58.50" y="961.0" font-size="41.67" text-anchor="middle">0</text><line x1="221.71" y1="899.5" x2="221.71" y2="914.1" stroke="#000" stroke-width="3.33"/><text x="221.71" y="961.0" font-size="41.67" text-anchor="middle">25</text><line x1="384.93" y1="899.5" x2="384.93" y2="914.1" stroke="#000" stroke-width="3.33"/><text x="384.93" y="961.0" font-size="41.67" text-anchor="middle">50</text><line x1="548.14" y1="899.5" x2="548.14" y2="914.1" stroke="#000" stroke-width="3.33"/><text x="548.14" y="961.0" font-size="41.67" text-anchor="middle">75</text><line x1="711.36" y1="899.5" x2="711.36" y2="914.1" stroke="#000" stroke-width="3.33"/><text x="711.36" y="961.0" font-size="41.67" text-anchor="middle">100</text><line x1="874.57" y1="899.5" x2="874.57" y2="914.1" stroke="#000" stroke-width="3.33"/><text x="874.57" y="961.0" font-size="41.67" text-anchor="middle">125</text><line x1="1037.79" y1="899.5" x2="1037.79" y2="914.1" stroke="#000" stroke-width="3.33"/><text x="1037.79" y="961.0" font-size="41.67" text-anchor="middle">150</text><line x1="1201.00" y1="899.5" x2="1201.00" y2="914.1" stroke="#000" stroke-width="3.33"/><text x="1201.00" y="961.0" font-size="41.67" text-anchor="middle">175</text><line x1="1364.21" y1="899.5" x2="1364.21" y2="914.1" stroke="#000" stroke-width="3.33"/><text x="1364.21" y="961.0" font-size="41.67" text-anchor="middle">200</text><g transform="translate(58.5,1098.5)" clip-path="url(#cp)"><rect x="0" y="0" width="1371" height="675" fill="#0000fa"/><path d="M-4.0 -4.0L1375.0 -4.0L1375.0 183.1L1298.8 179.0L1264.1 178.7L1236.4 179.6L1208.7 181.9L1187.9 185.1L1170.0 189.2L1153.3 194.3L1125.5 205.2L1084.0 224.7L1063.2 236.7L1049.3 247.3L1039.2 258.2L1031.1 272.0L1026.7 285.8L1024.5 306.5L1025.2 320.3L1027.4 334.1L1031.4 347.8L1037.9 361.6L1047.9 375.4L1054.7 382.3L1063.5 389.2L1077.0 397.3L1097.8 406.5L1147.4 423.7L1163.3 430.6L1187.8 444.4L1222.5 467.3L1236.4 474.3L1250.3 479.4L1271.1 484.3L1298.8 487.6L1333.4 488.5L1375.0 487.0L1375.0 599.5L1368.1 598.2L1333.4 584.7L1257.2 558.6L1215.6 545.7L1181.0 538.7L1160.2 537.0L1146.3 537.2L1132.5 538.4L1118.1 541.0L1104.7 545.0L1090.9 551.0L1077.0 560.1L1070.1 566.3L1062.2 575.5L1057.5 582.4L1053.8 589.3L1048.3 603.1L1045.0 616.9L1043.8 630.7L1044.7 644.5L1046.1 651.4L1049.3 660.4L1056.3 672.1L1058.9 679.0L-4.0 679.0L-4.0 651.9L9.9 650.5L32.4 644.5L38.6 637.6L32.8 630.7L23.7 627.0L15.6 623.8L2.9 620.9L-4.0 620.2L-4.0 480.9L99.9 476.4L148.5 473.0L190.0 467.1L217.7 459.5L231.6 453.6L245.5 445.8L259.3 435.6L273.2 423.3L293.9 403.0L306.3 389.2L315.8 375.4L319.0 368.5L320.7 361.6L320.6 354.7L318.3 347.8L313.1 340.9L304.3 334.1L294.0 328.6L266.3 318.1L148.5 284.2L127.7 277.5L106.9 269.4L86.1 259.0L74.5 251.3L37.6 219.0L23.7 208.3L2.9 196.2L-4.0 194.8ZM1344.0 672.1L1368.1 666.2L1375.0 665.4L1375.0 679.0L1328.6 679.0Z" fill="#0000df" fill-rule="evenodd"/><path d="M-4.0 -4.0L640.5 -3.4L1375.0 -4.0L1375.0 164.5L1264.1 151.9L1222.5 148.4L1181.0 147.8L1146.3 150.8L1125.3 154.7L1099.6 161.6L1077.0 169.4L1046.6 182.3L1021.6 194.9L1008.5 203.0L993.9 214.5L985.0 223.7L979.6 230.6L971.9 244.4L969.2 251.3L965.7 265.1L964.1 278.9L963.9 292.7L967.4 347.8L965.6 375.4L962.7 389.2L952.3 421.6L948.1 437.5L933.2 520.3L912.5 596.2L907.9 616.9L906.5 630.7L906.8 644.5L914.0 679.0L-4.0 679.0L37.6 676.4L113.8 669.9L151.2 665.2L173.9 658.3L183.1 652.2L188.5 644.5L189.1 637.6L186.6 630.7L181.1 623.8L171.8 616.9L157.0 610.0L141.5 605.2L120.7 600.6L93.2 596.2L-4.0 584.6L-4.0 495.1L37.6 492.9L79.2 492.2L224.7 495.0L245.5 493.3L266.3 488.5L280.1 481.9L287.0 476.9L300.9 462.2L328.3 423.7L352.7 396.1L363.0 382.3L369.6 368.5L371.2 361.6L371.4 354.7L370.1 347.8L366.8 340.9L361.0 334.1L349.4 325.6L339.2 320.3L328.6 316.1L295.5 306.5L224.7 290.9L176.4 278.9L141.5 268.1L117.0 258.2L104.2 251.3L93.0 243.8L79.2 232.3L51.4 206.8L37.6 196.7L16.8 185.6L2.9 180.3L-4.0 179.4ZM1357.6 520.3L1368.1 515.8L1375.0 514.5L1375.0 552.9L1368.1 551.0L1363.1 547.9L1355.0 541.0L1350.4 534.1L1350.7 527.2Z" fill="#0000c4" fill-rule="evenodd"/><path d="M-4.0 -4.0L2.9 -1.4L10.2 2.9L44.5 6.5L162.3 12.5L280.1 15.9L453.4 16.3L578.1 18.9L910.7 13.5L1132.5 15.9L1160.2 17.4L1194.8 21.1L1212.0 23.6L1271.1 35.3L1298.8 38.3L1312.6 38.1L1333.4 35.7L1347.3 32.6L1368.1 26.1L1375.0 25.0L1375.0 137.1L1357.9 134.0L1284.9 111.9L1264.1 107.0L1250.3 104.6L1229.5 102.8L1187.9 103.3L1160.2 105.8L1132.5 109.7L1104.7 115.3L1084.0 120.6L1049.3 131.1L1014.7 143.3L986.9 154.1L966.2 163.8L947.0 175.4L931.0 189.2L920.2 203.0L909.9 223.7L901.9 251.3L893.3 299.6L888.5 340.9L884.0 409.9L881.3 430.6L877.0 451.3L867.9 478.9L857.7 499.6L843.7 520.3L827.6 538.0L806.8 554.6L786.0 566.5L758.3 577.1L730.5 583.9L682.0 591.1L550.4 606.0L508.8 609.2L488.0 608.6L474.1 605.5L467.2 601.9L460.9 596.2L456.3 589.3L451.2 575.5L441.5 527.2L435.4 506.5L429.2 492.7L409.7 458.2L405.1 444.4L405.0 430.6L406.7 423.7L424.1 389.2L429.1 375.4L430.4 368.5L430.1 354.7L428.1 347.8L424.7 340.9L419.6 334.1L412.5 327.2L404.8 321.3L391.8 313.4L376.7 306.5L356.3 299.6L326.3 292.7L245.5 279.5L210.8 272.6L180.9 265.1L148.5 253.8L129.6 244.4L113.8 233.0L103.7 223.7L78.8 196.1L71.5 189.2L58.4 179.4L44.5 172.2L30.6 167.1L9.9 161.9L-4.0 160.1ZM-4.0 520.3L-4.0 519.2L16.8 516.1L37.6 514.2L58.4 514.3L86.1 517.0L104.3 520.3L121.6 527.2L128.4 534.1L127.5 541.0L117.8 547.9L106.9 551.3L87.9 554.8L58.4 556.2L37.6 555.4L23.7 553.8L-4.0 548.5ZM571.3 679.0L598.9 676.2L626.6 675.5L654.3 676.3L685.4 679.0Z" fill="#0000a8" fill-rule="evenodd"/><path d="M181.6 44.3L238.5 41.9L425.6 39.3L467.2 40.5L543.4 46.3L571.2 47.3L598.9 46.4L682.0 41.0L744.4 41.4L855.3 47.0L910.7 51.3L951.1 58.1L970.5 65.0L977.5 71.9L976.3 78.8L969.8 85.7L959.9 92.6L903.8 124.1L876.1 143.9L858.0 161.6L852.8 168.5L845.6 182.3L841.4 196.1L839.1 209.9L836.0 258.2L830.9 313.4L832.0 340.9L838.5 389.2L839.0 403.0L838.2 416.8L835.8 430.6L831.3 444.4L824.9 458.2L813.7 475.7L799.0 492.7L775.9 513.4L755.4 527.2L737.5 536.3L716.7 544.1L689.0 550.7L661.2 554.0L626.6 554.5L605.8 552.7L582.0 547.9L564.2 541.3L552.2 534.1L543.4 526.5L533.9 513.4L529.2 499.6L528.5 485.8L531.7 472.0L535.1 465.1L540.4 458.2L550.4 449.9L564.2 443.0L578.1 438.5L626.6 428.5L647.4 422.7L661.2 416.1L669.0 409.9L674.3 403.0L677.3 396.1L679.1 382.3L678.3 375.4L675.1 364.5L670.4 354.7L661.2 342.2L653.3 334.1L644.7 327.2L633.5 320.1L619.7 313.6L605.8 309.0L591.9 305.8L564.2 302.9L508.8 303.2L481.1 301.0L460.3 296.7L411.8 283.3L384.1 277.6L349.4 272.6L259.3 263.1L229.8 258.2L202.0 251.3L182.7 244.4L168.9 237.5L158.9 230.6L151.5 223.7L146.0 216.8L142.2 209.9L139.6 203.0L137.5 189.2L137.0 168.5L134.6 160.2L131.7 154.7L126.4 147.8L119.0 140.9L106.9 132.4L93.0 124.9L72.2 116.7L44.5 111.0L30.6 111.4L-4.0 119.6L-4.0 84.5L16.8 85.1L30.6 83.8L37.6 82.1L51.4 76.9L78.2 65.0L106.9 55.6L134.6 49.7Z" fill="#00008d" fill-rule="evenodd"/><path d="M-17.8 234.2C-14.9 234.2 -6.3 234.0 -0.1 234.2C6.1 234.5 11.1 234.2 19.5 235.9C27.8 237.5 39.6 240.5 49.7 244.3C59.8 248.0 70.3 253.3 80.0 258.2C89.7 263.2 98.6 268.5 108.0 273.8C117.3 279.2 127.4 284.9 135.9 290.1C144.5 295.4 153.0 300.4 159.2 305.3C165.4 310.1 170.5 312.3 173.2 319.3C175.9 326.3 173.6 339.5 175.5 347.2C177.4 355.0 179.8 359.6 184.8 365.8C189.9 372.1 198.8 378.3 205.8 384.5C212.8 390.7 221.1 396.9 226.7 403.1C232.4 409.3 239.2 416.7 239.6 421.7C239.9 426.8 237.4 430.5 229.1 433.4C220.7 436.3 205.8 438.2 189.5 439.2C173.2 440.2 152.6 440.2 131.3 439.2C109.9 438.2 83.3 435.5 61.4 433.4C39.5 431.3 13.1 427.6 -0.1 426.4C-13.3 425.2 -14.9 426.4 -17.8 426.4Z" fill="#001cff"/><path d="M-17.8 240.5C-14.9 240.5 -6.3 240.2 -0.1 240.5C6.1 240.8 11.5 240.7 19.5 242.4C27.4 244.1 38.1 246.9 47.4 250.6C56.7 254.2 66.4 259.5 75.4 264.5C84.3 269.6 92.8 275.2 101.0 280.8C109.1 286.5 117.3 292.9 124.3 298.3C131.3 303.7 138.6 309.2 142.9 313.4C147.2 317.7 148.5 318.3 149.9 323.9C151.2 329.6 149.1 340.2 151.0 347.2C153.0 354.2 156.3 359.6 161.5 365.8C166.8 372.1 175.9 378.7 182.5 384.5C189.1 390.3 196.7 395.9 201.1 400.8C205.6 405.6 209.7 409.7 209.3 413.6C208.9 417.5 206.0 421.2 198.8 424.1C191.6 427.0 179.4 429.9 166.2 431.1C153.0 432.2 137.1 431.8 119.6 431.1C102.1 430.3 81.3 428.3 61.4 426.4C41.4 424.5 13.1 420.6 -0.1 419.4C-13.3 418.3 -14.9 419.4 -17.8 419.4Z" fill="#0034ff"/><path d="M-17.8 247.5C-14.9 247.5 -6.3 247.2 -0.1 247.5C6.1 247.8 11.9 247.7 19.5 249.4C27.0 251.1 36.5 253.9 45.1 257.5C53.6 261.2 62.5 266.3 70.7 271.5C78.8 276.8 87.0 283.4 94.0 289.0C101.0 294.6 108.2 300.2 112.6 305.3C117.1 310.3 120.0 315.0 120.8 319.3C121.5 323.5 118.2 327.4 117.3 330.9C116.3 334.4 114.2 336.3 114.9 340.2C115.7 344.1 117.7 349.2 121.9 354.2C126.2 359.2 134.0 365.1 140.6 370.5C147.2 375.9 155.5 381.2 161.5 386.8C167.5 392.4 176.3 399.8 176.7 404.3C177.1 408.7 171.4 411.1 163.9 413.6C156.3 416.1 144.5 418.4 131.3 419.4C118.1 420.4 100.2 420.0 84.7 419.4C69.1 418.8 52.2 417.3 38.1 415.9C24.0 414.6 9.2 412.0 -0.1 411.3C-9.4 410.5 -14.9 411.3 -17.8 411.3Z" fill="#004cff"/><path d="M-17.8 254.0C-14.9 254.0 -6.3 253.7 -0.1 254.0C6.1 254.4 12.3 254.2 19.5 255.9C26.6 257.7 35.4 261.0 42.7 264.5C50.1 268.1 57.5 272.9 63.7 277.3C69.9 281.8 76.3 287.0 80.0 291.3C83.7 295.6 85.4 299.7 85.8 303.0C86.2 306.3 85.3 309.0 82.3 311.1C79.4 313.2 74.6 314.6 68.4 315.8C62.2 316.9 53.2 318.1 45.1 318.1C36.9 318.1 27.0 316.5 19.5 315.8C11.9 315.0 6.1 313.8 -0.1 313.4C-6.3 313.1 -14.9 313.4 -17.8 313.4Z" fill="#0064ff"/><path d="M-17.8 347.7C-14.9 347.7 -7.5 347.7 -0.1 347.7C7.3 347.7 16.2 347.2 26.4 347.7C36.7 348.2 50.9 349.0 61.4 350.7C71.9 352.4 80.8 354.4 89.3 357.7C97.9 361.0 106.0 366.0 112.6 370.5C119.2 375.0 125.8 380.4 128.9 384.5C132.0 388.6 133.2 391.9 131.3 395.0C129.3 398.1 124.3 401.0 117.3 403.1C110.3 405.3 100.6 407.0 89.3 407.8C78.1 408.5 64.6 408.5 49.7 407.8C34.8 407.0 11.1 403.9 -0.1 403.1C-11.4 402.3 -14.9 403.1 -17.8 403.1Z" fill="#0064ff"/><path d="M-17.8 265.7C-14.9 265.7 -6.3 265.3 -0.1 265.7C6.1 266.1 13.1 266.3 19.5 268.0C25.8 269.8 32.5 273.3 38.1 276.2C43.7 279.1 50.2 282.8 53.2 285.5C56.3 288.2 56.4 290.1 56.3 292.5C56.1 294.8 55.9 297.8 52.1 299.5C48.3 301.1 39.6 302.1 33.4 302.5C27.2 302.9 20.4 302.1 14.8 301.8C9.2 301.5 5.3 300.8 -0.1 300.6C-5.5 300.4 -14.9 300.6 -17.8 300.6Z" fill="#0080ff"/><path d="M-17.8 360.0C-14.9 360.0 -7.5 360.0 -0.1 360.0C7.3 360.0 17.0 359.4 26.4 360.0C35.9 360.6 47.8 361.8 56.7 363.5C65.6 365.3 73.4 368.0 80.0 370.5C86.6 373.0 92.8 376.1 96.3 378.7C99.8 381.2 100.8 383.1 101.0 385.6C101.2 388.2 101.0 391.7 97.5 393.8C94.0 395.9 88.0 397.5 80.0 398.5C72.1 399.4 59.8 400.0 49.7 399.6C39.6 399.2 27.8 397.3 19.5 396.1C11.1 395.0 6.1 393.2 -0.1 392.6C-6.3 392.1 -14.9 392.6 -17.8 392.6Z" fill="#0080ff"/><path d="M1384.0 212.1C1381.9 212.1 1394.3 211.7 1371.0 212.1C1347.7 212.4 1277.1 213.2 1244.3 214.2C1211.5 215.1 1193.8 216.3 1174.4 217.7C1155.0 219.0 1141.4 220.2 1127.8 222.3C1114.2 224.5 1103.8 227.2 1092.9 230.5C1082.0 233.8 1071.5 237.9 1062.6 242.1C1053.7 246.4 1045.9 251.0 1039.3 256.1C1032.7 261.1 1026.9 267.0 1023.0 272.4C1019.1 277.8 1016.8 283.3 1016.0 288.7C1015.3 294.1 1015.6 299.2 1018.4 305.0C1021.1 310.8 1026.5 317.4 1032.3 323.6C1038.2 329.9 1045.1 336.1 1053.3 342.3C1061.5 348.5 1071.2 354.7 1081.3 360.9C1091.3 367.1 1102.2 373.9 1113.9 379.5C1125.5 385.2 1137.2 390.2 1151.1 394.7C1165.1 399.1 1178.3 403.6 1197.7 406.3C1217.1 409.0 1238.7 410.4 1267.6 411.0C1296.5 411.6 1351.6 410.2 1371.0 410.1C1390.4 409.9 1381.9 410.1 1384.0 410.1Z" fill="#001cff"/><path d="M1384.0 221.4C1381.9 221.4 1394.3 221.2 1371.0 221.4C1347.7 221.5 1275.1 221.6 1244.3 222.3C1213.5 223.1 1203.5 224.3 1186.1 225.8C1168.6 227.4 1153.1 229.3 1139.5 231.6C1125.9 234.0 1115.0 236.5 1104.5 239.8C1094.1 243.1 1084.4 247.2 1076.6 251.4C1068.8 255.7 1062.2 260.8 1058.0 265.4C1053.7 270.1 1051.7 274.7 1051.0 279.4C1050.2 284.0 1050.6 287.9 1053.3 293.4C1056.0 298.8 1061.5 305.8 1067.3 312.0C1073.1 318.2 1080.1 324.4 1088.2 330.6C1096.4 336.8 1105.7 343.1 1116.2 349.3C1126.7 355.5 1138.3 362.3 1151.1 367.9C1163.9 373.5 1177.5 378.8 1193.1 383.0C1208.6 387.3 1226.0 391.0 1244.3 393.5C1262.5 396.0 1281.4 397.4 1302.5 398.2C1323.6 399.0 1357.4 398.4 1371.0 398.4C1384.6 398.4 1381.9 398.4 1384.0 398.4Z" fill="#0034ff"/><path d="M1384.0 230.7C1381.9 230.7 1394.3 230.6 1371.0 230.7C1347.7 230.9 1274.7 230.9 1244.3 231.6C1213.9 232.4 1204.7 233.6 1188.4 235.1C1172.1 236.7 1158.9 238.6 1146.5 241.0C1134.0 243.3 1123.2 245.8 1113.9 249.1C1104.5 252.4 1096.0 256.9 1090.6 260.8C1085.1 264.6 1082.4 268.1 1081.3 272.4C1080.1 276.7 1080.5 280.9 1083.6 286.4C1086.7 291.8 1093.3 298.8 1099.9 305.0C1106.5 311.2 1114.6 317.4 1123.2 323.6C1131.7 329.9 1141.0 336.5 1151.1 342.3C1161.2 348.1 1172.1 353.5 1183.7 358.6C1195.4 363.6 1207.0 368.5 1221.0 372.6C1235.0 376.6 1252.1 380.5 1267.6 383.0C1283.1 385.6 1296.9 386.7 1314.2 387.7C1331.4 388.7 1359.4 388.9 1371.0 389.1C1382.6 389.3 1381.9 389.1 1384.0 389.1Z" fill="#004cff"/><path d="M1384.0 314.1C1381.6 314.1 1382.1 315.4 1369.1 314.1C1356.2 312.8 1326.4 308.7 1306.3 306.4C1286.1 304.2 1267.4 301.9 1248.0 300.6C1228.6 299.3 1206.7 298.8 1189.8 298.7C1172.9 298.6 1156.8 299.0 1146.5 299.9C1136.1 300.7 1131.3 301.4 1127.8 303.8C1124.3 306.3 1124.3 310.6 1125.5 314.3C1126.7 318.0 1130.9 322.1 1134.8 326.0C1138.7 329.9 1144.1 334.3 1148.8 337.6C1153.5 340.9 1158.5 344.8 1162.8 345.8C1167.0 346.7 1170.6 345.6 1174.4 343.4C1178.3 341.3 1180.0 335.3 1185.8 333.0C1191.7 330.6 1199.0 330.3 1209.4 329.5C1219.7 328.6 1231.9 328.1 1248.0 327.8C1264.2 327.6 1286.1 328.5 1306.3 327.8C1326.4 327.2 1356.2 324.5 1369.1 323.9C1382.1 323.2 1381.6 323.9 1384.0 323.9Z" fill="#0034ff"/><path d="M1185.8 325.5C1182.4 323.8 1172.1 317.7 1165.1 315.5C1158.2 313.2 1149.4 311.8 1144.1 312.0C1138.9 312.2 1134.4 314.3 1133.7 316.7C1132.9 319.0 1136.6 322.9 1139.5 326.0C1142.4 329.1 1146.9 332.8 1151.1 335.3C1155.4 337.8 1160.8 340.7 1165.1 341.1C1169.4 341.5 1173.3 340.2 1176.7 337.6C1180.2 335.0 1184.3 327.5 1185.8 325.5Z" fill="#001cff"/><path d="M1384.0 254.0C1381.9 254.0 1380.7 254.2 1371.0 254.0C1361.3 253.8 1341.3 252.8 1326.0 252.8C1310.8 252.8 1293.1 253.2 1279.5 254.0C1265.9 254.8 1254.2 256.1 1244.5 257.5C1234.8 258.9 1228.4 260.2 1221.2 262.2C1214.1 264.1 1201.4 266.8 1201.4 269.1C1201.4 271.5 1214.1 274.0 1221.2 276.1C1228.4 278.3 1234.8 280.0 1244.5 282.0C1254.2 283.9 1265.9 286.2 1279.5 287.8C1293.1 289.3 1310.8 290.6 1326.0 291.3C1341.3 291.9 1361.3 291.7 1371.0 291.7C1380.7 291.8 1381.9 291.7 1384.0 291.7Z" fill="#0064ff"/><path d="M1273.6 271.5C1274.0 269.3 1279.3 266.2 1284.1 264.5C1289.0 262.7 1296.2 261.4 1302.8 261.0C1309.4 260.6 1317.9 261.2 1323.7 262.2C1329.5 263.1 1334.8 265.1 1337.7 266.8C1340.6 268.6 1341.6 270.7 1341.2 272.6C1340.8 274.6 1339.1 277.0 1335.4 278.5C1331.7 279.9 1325.3 281.1 1319.1 281.5C1312.9 281.9 1304.3 281.5 1298.1 280.8C1291.9 280.1 1285.9 278.8 1281.8 277.3C1277.7 275.7 1273.3 273.6 1273.6 271.5Z" fill="#0080ff"/><path d="M1384.0 347.2C1381.9 347.2 1382.6 347.2 1371.0 347.2C1359.4 347.1 1331.6 346.8 1314.4 346.7C1297.2 346.6 1281.4 346.4 1267.8 346.7C1254.2 347.0 1243.8 347.3 1232.9 348.3C1222.0 349.4 1210.4 351.0 1202.6 353.0C1194.8 354.9 1186.3 357.8 1186.3 360.0C1186.3 362.1 1194.8 363.9 1202.6 365.8C1210.4 367.7 1222.0 369.9 1232.9 371.6C1243.8 373.4 1254.2 375.0 1267.8 376.3C1281.4 377.6 1297.2 378.7 1314.4 379.3C1331.6 380.0 1359.4 380.1 1371.0 380.2C1382.6 380.4 1381.9 380.2 1384.0 380.2Z" fill="#0064ff"/><path d="M1116.1 586.0L1136.5 584.6L1142.5 584.8L1184.6 587.6L1334.9 599.2L1371.0 602.7L1377.0 602.7L1377.0 679.0L-6.0 679.0L-6.0 614.3L18.1 615.5L48.1 618.7L90.2 625.5L131.9 631.0L148.0 634.0L158.0 637.0L162.0 640.0L166.5 646.0L174.4 649.0L185.9 652.0L201.0 655.0L228.5 659.0L264.6 661.6L336.7 663.2L396.9 663.9L451.0 663.2L505.1 661.4L581.9 658.0L601.3 656.9L619.4 655.1L639.4 652.0L651.7 649.0L658.7 646.0L662.0 640.0L664.5 637.0L670.9 634.0L681.8 631.0L763.7 618.2L932.0 599.9Z" fill="#001cff" fill-rule="evenodd"/><path d="M1106.0 589.0L1136.5 587.1L1154.5 588.0L1238.7 594.1L1334.9 602.0L1371.0 605.9L1377.0 605.9L1377.0 679.0L442.9 679.0L442.9 676.0L458.6 673.0L494.9 670.0L601.3 663.0L625.4 660.5L649.4 656.9L673.0 652.0L682.6 649.0L688.6 646.0L691.6 640.0L694.4 637.0L701.4 634.0L712.5 631.0L728.2 628.0L786.3 619.0L938.0 602.2ZM-6.0 619.0L-6.0 617.1L0.0 617.1L24.1 619.3L54.1 623.3L97.2 631.0L110.3 634.0L118.8 637.0L122.4 640.0L124.1 643.0L126.9 646.0L136.4 649.0L186.4 660.4L216.5 664.7L234.5 666.5L343.3 673.0L360.6 676.0L360.6 679.0L-6.0 679.0Z" fill="#0034ff" fill-rule="evenodd"/><path d="M1092.6 592.0L1136.5 589.3L1148.5 589.8L1232.7 595.9L1340.9 605.3L1371.0 608.7L1377.0 608.7L1377.0 679.0L577.4 679.0L577.4 676.0L584.2 673.0L655.4 662.0L679.5 657.4L702.0 652.0L710.1 649.0L714.7 646.0L717.2 640.0L719.7 637.0L725.8 634.0L735.7 631.0L750.7 628.0L781.7 623.2L823.8 617.5L932.0 605.6ZM-6.0 622.0L-6.0 620.0L0.0 620.0L12.0 621.1L54.1 626.5L76.8 631.0L85.9 634.0L91.8 637.0L94.4 640.0L95.6 643.0L97.9 646.0L102.2 647.6L106.1 649.0L119.0 652.0L144.3 657.0L156.4 659.9L186.4 669.3L200.6 673.0L204.8 676.0L204.8 679.0L-6.0 679.0Z" fill="#004cff" fill-rule="evenodd"/><path d="M1124.1 592.0L1142.5 591.5L1184.6 594.1L1340.9 607.8L1371.0 611.0L1377.0 611.0L1377.0 679.0L639.3 679.0L639.3 676.0L642.4 673.0L651.6 670.0L703.5 658.6L715.6 655.4L725.0 652.0L731.1 649.0L734.8 646.0L737.0 640.0L739.4 637.0L745.2 634.0L755.0 631.0L770.5 628.0L853.9 616.4L932.0 608.1L1046.3 597.9ZM-6.0 625.0L-6.0 622.8L6.0 623.2L42.1 627.6L60.5 631.0L69.5 634.0L74.8 637.0L76.9 640.0L78.0 643.0L79.8 646.0L86.0 649.0L96.2 652.2L139.3 661.0L150.2 664.0L158.3 667.0L164.3 670.0L168.0 673.0L169.3 676.0L169.3 679.0L-6.0 679.0Z" fill="#0064ff" fill-rule="evenodd"/><path d="M1108.9 595.0L1136.5 593.4L1178.6 595.7L1334.9 609.4L1371.0 613.0L1377.0 613.0L1377.0 679.0L676.4 679.0L676.4 676.0L678.7 673.0L686.0 670.0L721.6 660.2L733.6 656.2L743.6 652.0L748.8 649.0L752.0 646.0L754.0 640.0L756.4 637.0L762.4 634.0L775.7 630.4L793.7 627.3L853.9 618.9L920.0 611.4ZM-6.0 628.0L-6.0 625.2L12.0 626.3L42.1 630.6L54.7 634.0L60.4 637.0L62.6 640.0L65.4 646.0L71.3 649.0L96.2 656.4L131.2 664.0L141.1 667.0L147.7 670.0L151.6 673.0L152.8 676.0L152.8 679.0L-6.0 679.0Z" fill="#0080ff" fill-rule="evenodd"/><path d="M1095.8 598.0L1136.5 595.5L1154.5 596.3L1184.6 598.3L1280.1 607.0L1340.9 611.7L1371.0 614.9L1377.0 614.9L1377.0 679.0L707.3 679.0L707.3 676.0L709.2 673.0L714.5 670.0L746.8 658.0L760.1 652.0L764.8 649.0L767.6 646.0L769.6 640.0L772.1 637.0L778.4 634.0L789.1 631.0L806.7 628.0L859.9 620.5L926.0 612.6L995.9 607.0ZM-6.0 628.0L-6.0 627.5L0.0 627.5L12.0 628.7L27.2 631.0L39.3 634.0L46.1 637.0L48.6 640.0L51.7 646.0L57.9 649.0L96.2 660.2L122.8 667.0L131.3 670.0L136.2 673.0L137.6 676.0L137.6 679.0L-6.0 679.0Z" fill="#0098ff" fill-rule="evenodd"/><path d="M1128.9 598.0L1142.5 597.8L1178.6 599.9L1340.9 613.4L1371.0 616.9L1377.0 616.9L1377.0 679.0L730.1 679.0L730.1 676.0L731.5 673.0L735.7 670.0L770.0 655.0L775.5 652.0L779.7 649.0L782.3 646.0L784.3 640.0L786.9 637.0L793.6 634.0L805.1 631.0L853.9 623.5L932.0 613.7L1094.4 600.1ZM-6.0 631.0L-6.0 629.9L0.0 629.9L9.9 631.0L23.5 634.0L30.8 637.0L33.6 640.0L37.1 646.0L44.2 649.0L84.2 660.1L113.6 670.0L119.1 673.0L120.8 676.0L120.8 679.0L-6.0 679.0Z" fill="#00b0ff" fill-rule="evenodd"/><path d="M1109.7 601.0L1136.5 599.5L1178.6 601.7L1334.9 614.6L1371.0 618.9L1377.0 618.9L1377.0 679.0L749.1 679.0L749.1 676.0L750.2 673.0L753.9 670.0L759.3 667.0L785.3 655.0L794.2 649.0L796.5 646.0L798.6 640.0L801.3 637.0L808.3 634.0L819.4 631.0L847.9 626.3L932.0 615.4ZM-6.0 634.0L-6.0 632.9L0.0 632.9L6.8 634.0L12.0 635.6L15.8 637.0L19.0 640.0L22.5 646.0L29.5 649.0L72.2 659.8L85.7 664.0L99.3 670.0L103.8 673.0L105.3 676.0L105.3 679.0L-6.0 679.0Z" fill="#00c8ff" fill-rule="evenodd"/><path d="M1090.0 604.0L1136.5 601.3L1166.5 602.6L1328.9 615.7L1371.0 620.8L1377.0 620.8L1377.0 679.0L766.6 679.0L766.6 676.0L767.7 673.0L771.2 670.0L776.2 667.0L799.7 655.3L805.8 651.3L808.2 649.0L810.2 646.0L810.8 643.0L812.1 640.0L814.8 637.0L821.3 634.0L832.3 631.0L853.9 627.4L938.0 616.5ZM-6.0 640.0L-6.0 638.8L0.0 638.8L1.9 640.0L6.9 646.0L14.9 649.0L26.1 652.0L60.1 659.7L78.2 664.9L83.6 667.0L89.2 670.0L92.8 673.0L93.9 676.0L93.9 679.0L-6.0 679.0Z" fill="#00e0fb" fill-rule="evenodd"/><path d="M1113.1 604.0L1136.5 602.8L1184.6 605.2L1328.9 617.4L1365.5 622.0L1377.0 622.6L1377.0 679.0L784.0 679.0L784.0 676.0L785.0 673.0L788.3 670.0L810.2 658.0L818.3 652.0L820.8 649.0L822.3 646.0L822.7 643.0L824.0 640.0L826.6 637.0L833.2 634.0L844.5 631.0L862.8 628.0L938.0 618.3L1040.3 609.2ZM-6.0 652.0L-6.0 649.7L0.0 649.7L48.1 659.6L65.1 664.0L74.1 667.0L80.5 670.0L84.2 673.0L85.3 676.0L85.3 679.0L-6.0 679.0Z" fill="#0ff8e7" fill-rule="evenodd"/><path d="M1086.4 607.0L1136.5 604.2L1178.6 606.1L1244.7 611.4L1334.9 619.7L1371.0 624.1L1377.0 624.1L1377.0 679.0L802.0 679.0L802.0 676.0L803.1 673.0L806.2 670.0L823.8 658.4L829.8 652.7L832.3 649.0L833.5 646.0L833.8 643.0L835.1 640.0L837.8 637.0L847.9 633.2L856.7 631.0L871.9 628.6L932.0 620.7L1034.3 611.1ZM-6.0 655.0L-6.0 653.4L0.0 653.4L6.0 654.2L41.9 661.0L54.4 664.0L64.0 667.0L72.2 670.7L75.4 673.0L76.8 676.0L76.8 679.0L-6.0 679.0Z" fill="#23ffd4" fill-rule="evenodd"/><path d="M1105.1 607.0L1136.5 605.5L1178.6 607.4L1244.7 612.7L1334.9 621.3L1371.0 625.7L1377.0 625.7L1377.0 679.0L821.1 679.0L821.1 676.0L822.0 673.0L824.4 670.0L835.8 660.0L841.8 652.5L843.6 649.0L844.7 643.0L846.1 640.0L849.0 637.0L856.5 634.0L871.9 630.6L932.0 622.3L1040.3 611.9ZM-6.0 658.0L-6.0 656.4L0.0 656.4L6.0 657.1L24.1 660.2L48.1 665.4L61.2 670.0L65.9 673.0L67.3 676.0L67.3 679.0L-6.0 679.0Z" fill="#36ffc1" fill-rule="evenodd"/><path d="M1129.6 607.0L1142.5 606.8L1178.6 608.6L1226.7 612.5L1291.4 619.0L1340.9 623.3L1371.0 627.3L1377.0 627.3L1377.0 679.0L840.2 679.0L840.8 673.0L852.8 655.0L855.2 649.0L855.9 643.0L857.5 640.0L860.7 637.0L868.5 634.0L881.5 631.0L932.0 623.6L984.6 619.0L1046.3 612.8L1094.4 608.8ZM-6.0 661.0L-6.0 659.1L6.0 659.8L24.1 662.9L42.2 667.0L51.0 670.0L56.1 673.0L57.7 676.0L57.7 679.0L-6.0 679.0Z" fill="#49ffad" fill-rule="evenodd"/><path d="M1095.4 610.0L1136.5 608.0L1178.6 609.9L1232.7 614.4L1276.1 619.0L1334.9 624.1L1371.0 628.9L1377.0 628.9L1377.0 679.0L859.3 679.0L859.5 673.0L865.9 655.0L867.1 649.0L867.6 643.0L869.2 640.0L872.5 637.0L880.5 634.0L893.2 631.0L932.0 625.0L999.9 619.0L1046.3 614.2ZM-6.0 664.0L-6.0 661.9L0.0 661.9L15.6 664.0L29.2 667.0L39.4 670.0L45.5 673.0L47.3 676.0L47.3 679.0L-6.0 679.0Z" fill="#5dff9a" fill-rule="evenodd"/><path d="M1117.9 610.0L1142.5 609.3L1184.6 611.6L1293.3 622.0L1334.9 625.4L1346.9 626.8L1371.0 630.7L1377.0 630.7L1377.0 679.0L878.2 679.0L879.1 643.0L880.8 640.0L884.1 637.0L891.8 634.0L903.7 631.0L914.0 629.1L938.0 625.8L982.7 622.0L1088.4 611.9ZM-6.0 667.0L-6.0 664.7L0.0 664.7L12.0 666.4L24.1 669.3L33.2 673.0L35.3 676.0L35.3 679.0L-6.0 679.0Z" fill="#70ff87" fill-rule="evenodd"/><path d="M1090.3 613.0L1136.5 610.5L1178.6 612.4L1334.9 626.8L1352.9 629.3L1371.0 633.1L1377.0 633.1L1377.0 679.0L897.1 679.0L896.8 673.0L891.5 655.0L890.5 649.0L890.2 643.0L891.8 640.0L895.0 637.0L902.3 634.0L913.1 631.0L938.0 627.2ZM-6.0 670.0L-6.0 668.1L0.0 668.1L12.1 670.0L20.2 673.0L22.4 676.0L22.4 679.0L-6.0 679.0Z" fill="#87ff70" fill-rule="evenodd"/><path d="M1110.6 613.0L1136.5 611.8L1184.6 614.2L1334.9 628.3L1353.1 631.0L1364.0 634.0L1371.0 636.7L1377.0 636.7L1377.0 679.0L915.3 679.0L914.7 673.0L904.5 658.0L901.9 652.0L900.6 646.0L900.5 643.0L902.0 640.0L904.9 637.0L911.4 634.0L926.0 630.4L944.1 627.9L1046.3 618.3L1094.4 614.0ZM-6.0 673.0L0.8 673.0L6.0 676.0L6.0 679.0L-6.0 679.0Z" fill="#9aff5d" fill-rule="evenodd"/><path d="M1086.5 616.0L1100.4 614.9L1136.5 613.2L1172.6 614.7L1238.7 620.3L1318.2 628.0L1343.6 631.0L1355.1 634.0L1361.6 637.0L1364.5 640.0L1366.2 643.0L1367.0 649.0L1368.1 652.0L1371.0 656.7L1377.0 656.7L1377.0 679.0L932.5 679.0L932.5 676.0L931.6 673.0L929.0 670.0L920.0 662.5L915.6 658.0L911.6 652.0L909.7 646.0L909.5 643.0L910.9 640.0L913.7 637.0L920.2 634.0L932.2 631.0L957.8 628.0Z" fill="#adff49" fill-rule="evenodd"/><path d="M1103.3 616.0L1136.5 614.4L1178.6 616.3L1232.7 620.9L1303.7 628.0L1331.4 631.0L1346.2 634.0L1353.0 637.0L1355.8 640.0L1357.2 643.0L1358.1 658.0L1359.3 664.0L1362.3 673.0L1362.7 679.0L949.7 679.0L949.7 676.0L948.7 673.0L945.4 670.0L932.0 661.8L926.0 657.5L921.0 652.0L918.3 646.0L918.0 643.0L919.5 640.0L922.5 637.0L929.6 634.0L944.5 631.0L1040.3 621.2Z" fill="#c1ff36" fill-rule="evenodd"/><path d="M1129.2 616.0L1142.5 615.8L1184.6 618.0L1244.7 623.2L1317.2 631.0L1335.1 634.0L1343.8 637.0L1347.3 640.0L1348.7 643.0L1348.4 649.0L1346.9 655.5L1344.3 661.0L1334.9 673.0L1334.2 676.0L1334.2 679.0L967.7 679.0L967.7 676.0L966.4 673.0L962.7 670.0L939.3 658.0L934.6 655.0L931.0 652.0L928.6 649.0L927.2 646.0L926.9 643.0L928.5 640.0L931.9 637.0L940.9 634.0L958.8 631.0L1046.3 621.8L1094.4 617.7Z" fill="#d4ff23" fill-rule="evenodd"/><path d="M1093.4 619.0L1130.5 617.1L1148.5 617.2L1178.6 618.7L1252.1 625.0L1303.0 631.0L1321.5 634.0L1332.2 637.0L1334.9 638.8L1336.7 640.0L1338.8 643.0L1338.6 646.0L1336.2 652.0L1330.9 658.0L1322.9 663.7L1312.7 670.0L1309.1 673.0L1307.9 676.0L1307.9 679.0L987.8 679.0L987.8 676.0L986.0 673.0L981.2 670.0L948.0 655.0L943.2 652.0L939.7 649.0L937.7 646.0L937.2 643.0L939.3 640.0L943.8 637.0L954.5 634.0L973.0 631.0L1023.9 625.0Z" fill="#e7ff0f" fill-rule="evenodd"/><path d="M1112.6 619.0L1136.5 618.0L1178.6 619.7L1232.7 624.2L1267.4 628.0L1290.3 631.0L1307.2 634.0L1318.2 637.0L1323.5 640.0L1326.0 643.0L1325.6 646.0L1324.2 649.0L1321.7 652.0L1313.5 658.0L1304.8 662.5L1287.8 670.0L1282.6 673.0L1280.8 676.0L1280.8 679.0L1011.9 679.0L1011.9 676.0L1009.5 673.0L974.1 659.9L957.4 652.0L953.2 649.0L950.6 646.0L950.0 643.0L952.5 640.0L957.8 637.0L968.8 634.0L985.7 631.0L1040.3 624.5L1094.4 619.9Z" fill="#fbf100" fill-rule="evenodd"/><path d="M1081.3 622.0L1106.4 620.2L1142.5 619.2L1178.6 620.7L1229.9 625.0L1257.0 628.0L1278.3 631.0L1294.3 634.0L1304.1 637.0L1309.2 640.0L1311.8 643.0L1311.3 646.0L1309.4 649.0L1306.3 652.0L1302.0 655.0L1296.5 658.0L1286.8 662.2L1256.2 673.0L1253.0 676.0L1253.0 679.0L1036.3 679.0L1036.3 676.0L1033.1 673.0L992.8 661.0L977.6 655.0L967.7 649.0L964.9 646.0L964.2 643.0L966.8 640.0L971.9 637.0L981.7 634.0L997.7 631.0L1034.3 626.2Z" fill="#ffdb00" fill-rule="evenodd"/><path d="M1092.9 622.0L1130.5 620.3L1148.5 620.3L1183.1 622.0L1232.7 626.4L1267.4 631.0L1282.3 634.0L1291.5 637.0L1296.1 640.0L1298.4 643.0L1297.9 646.0L1295.9 649.0L1292.3 652.0L1287.4 655.0L1281.0 658.0L1268.8 662.5L1256.7 665.9L1244.7 668.6L1219.9 673.0L1213.2 676.0L1213.2 679.0L1066.1 679.0L1066.1 676.0L1060.3 673.0L1016.2 663.1L1004.2 659.6L992.2 655.3L985.3 652.0L980.9 649.0L978.2 646.0L977.6 643.0L979.9 640.0L984.5 637.0L993.7 634.0L1008.6 631.0L1040.3 626.7Z" fill="#ffc400" fill-rule="evenodd"/><path d="M1110.6 622.0L1136.5 621.1L1165.4 622.0L1184.6 623.1L1236.5 628.0L1257.2 631.0L1271.2 634.0L1279.7 637.0L1284.1 640.0L1286.3 643.0L1285.7 646.0L1283.4 649.0L1279.4 652.0L1268.8 657.2L1256.7 661.2L1238.7 665.2L1220.7 667.8L1190.6 670.9L1178.6 671.3L1136.5 670.2L1094.4 671.3L1082.4 670.6L1058.3 667.8L1028.2 662.2L1010.2 657.1L998.0 652.0L993.2 649.0L990.4 646.0L989.7 643.0L991.9 640.0L996.3 637.0L1004.8 634.0L1018.8 631.0L1046.3 627.3L1094.4 622.9Z" fill="#ffae00" fill-rule="evenodd"/><path d="M1082.6 625.0L1100.4 623.5L1136.5 622.0L1172.6 623.4L1190.6 624.7L1225.1 628.0L1250.7 631.8L1261.0 634.0L1268.8 637.0L1272.9 640.0L1275.0 643.0L1274.3 646.0L1271.8 649.0L1267.5 652.0L1261.4 655.0L1253.1 658.0L1244.7 660.2L1226.7 663.5L1202.6 666.3L1178.6 667.9L1136.5 667.5L1100.4 668.0L1088.4 667.5L1064.3 665.2L1046.3 662.6L1028.2 658.6L1016.7 655.0L1009.7 652.0L1004.8 649.0L1001.8 646.0L1001.0 643.0L1003.1 640.0L1007.2 637.0L1015.0 634.0L1028.8 631.0L1040.3 629.4Z" fill="#ff9400" fill-rule="evenodd"/><path d="M1094.0 625.0L1124.5 623.5L1142.5 623.2L1178.6 624.7L1212.5 628.0L1236.9 631.0L1251.2 634.0L1258.8 637.0L1262.7 640.0L1264.7 643.0L1264.0 646.0L1262.8 647.3L1261.2 649.0L1256.4 652.0L1249.4 655.0L1238.7 658.0L1220.7 661.2L1196.6 664.1L1184.6 665.1L1166.5 665.5L1094.4 665.3L1082.4 664.3L1058.3 661.4L1039.2 658.0L1028.3 655.0L1022.2 652.7L1015.3 649.0L1012.1 646.0L1011.3 643.0L1013.3 640.0L1017.2 637.0L1024.8 634.0L1028.2 633.2L1046.3 630.0Z" fill="#ff7e00" fill-rule="evenodd"/><path d="M1113.0 625.0L1136.5 624.2L1172.6 625.5L1190.6 626.9L1225.5 631.0L1241.3 634.0L1249.0 637.0L1253.0 640.0L1254.9 643.0L1254.1 646.0L1251.0 649.0L1245.5 652.0L1236.7 655.0L1226.7 657.3L1208.6 660.0L1184.6 662.8L1154.5 663.3L1094.4 662.9L1082.4 661.9L1058.3 658.6L1040.5 655.0L1031.4 652.0L1025.4 649.0L1022.2 646.2L1021.1 643.0L1023.0 640.0L1026.9 637.0L1034.6 634.0L1040.3 632.9L1050.5 631.0L1075.4 628.0L1094.4 626.1Z" fill="#ff6800" fill-rule="evenodd"/><path d="M1085.8 628.0L1100.4 626.8L1136.5 625.2L1184.6 627.4L1212.7 631.0L1230.7 634.0L1239.1 637.0L1243.3 640.0L1245.3 643.0L1244.3 646.0L1238.7 649.9L1233.8 652.0L1226.7 654.0L1214.6 656.4L1190.6 659.9L1178.6 661.0L1136.5 661.4L1094.4 660.8L1082.4 659.5L1058.3 655.7L1042.9 652.0L1035.7 649.0L1031.8 646.0L1030.8 643.0L1032.7 640.0L1037.0 637.0L1045.3 634.0Z" fill="#ff5200" fill-rule="evenodd"/><path d="M1098.3 628.0L1136.5 626.4L1178.6 628.1L1218.5 634.0L1228.1 637.0L1232.9 640.0L1235.1 643.0L1233.9 646.0L1229.3 649.0L1226.7 650.0L1220.3 652.0L1196.6 656.7L1178.6 658.9L1136.5 659.6L1100.4 659.0L1088.4 658.0L1076.3 656.1L1056.1 652.0L1046.9 649.0L1042.1 646.0L1040.9 643.0L1043.1 640.0L1047.9 637.0L1057.5 634.0L1075.3 631.0Z" fill="#ff3b00" fill-rule="evenodd"/><path d="M1121.4 628.0L1136.5 627.6L1154.7 628.0L1178.6 629.6L1190.3 631.0L1205.8 634.0L1215.5 637.0L1221.0 640.0L1223.6 643.0L1222.1 646.0L1216.1 649.0L1205.7 652.0L1190.6 655.2L1172.6 657.1L1136.5 657.8L1100.4 656.9L1084.1 655.0L1070.5 652.0L1060.0 649.0L1053.9 646.0L1052.4 643.0L1055.0 640.0L1060.5 637.0L1070.3 634.0L1094.4 629.9Z" fill="#ff2500" fill-rule="evenodd"/><path d="M1098.5 631.0L1136.5 629.0L1178.6 631.1L1195.1 634.0L1202.9 637.0L1208.1 640.0L1210.7 643.0L1209.0 646.0L1202.9 649.0L1193.3 652.0L1184.6 653.7L1166.5 655.3L1136.5 655.9L1103.9 655.0L1088.4 653.2L1073.1 649.0L1067.0 646.0L1065.3 643.0L1067.9 640.0L1073.0 637.0L1080.9 634.0Z" fill="#fa0f00" fill-rule="evenodd"/><path d="M1124.4 631.0L1136.5 630.6L1151.4 631.0L1172.6 632.6L1184.4 634.0L1192.5 637.0L1197.0 640.0L1199.1 643.0L1197.6 646.0L1191.8 649.0L1179.3 652.0L1160.5 653.3L1136.5 653.9L1112.4 653.2L1094.4 651.6L1088.4 650.2L1082.4 648.1L1078.4 646.0L1076.9 643.0L1079.0 640.0L1083.5 637.0L1091.7 634.0L1100.4 632.8Z" fill="#df0000" fill-rule="evenodd"/><path d="M1111.2 634.0L1136.5 632.7L1164.8 634.0L1180.8 637.0L1186.5 640.0L1188.8 643.0L1187.0 646.0L1178.6 649.1L1154.5 651.2L1136.5 651.7L1118.4 651.0L1097.5 649.0L1088.9 646.0L1087.2 643.0L1089.5 640.0L1095.0 637.0Z" fill="#c40000" fill-rule="evenodd"/><path d="M1120.4 637.0L1136.5 635.8L1154.5 636.9L1169.1 640.0L1174.4 643.0L1169.9 646.0L1166.5 646.6L1148.5 648.6L1136.5 648.9L1124.5 648.4L1106.4 646.1L1101.3 643.0L1106.9 640.0Z" fill="#a80000" fill-rule="evenodd"/></g><g transform="translate(58.5,1098.5)" clip-path="url(#cp)"><use href="#coast" xlink:href="#coast"/></g><rect x="58.5" y="1098.5" width="1371" height="675" fill="none" stroke="#000" stroke-width="3.33"/><text x="744" y="1073.0" font-size="50" text-anchor="middle" xml:space="preserve" style="white-space:pre">Ionosphere  (h=450.0 km), 2015-11-06 03:00 UT</text><rect x="58.50" y="1816.5" width="33.24" height="68.0" fill="#00008d"/><rect x="91.14" y="1816.5" width="33.24" height="68.0" fill="#0000a8"/><rect x="123.79" y="1816.5" width="33.24" height="68.0" fill="#0000c4"/><rect x="156.43" y="1816.5" width="33.24" height="68.0" fill="#0000df"/><rect x="189.07" y="1816.5" width="33.24" height="68.0" fill="#0000fa"/><rect x="221.71" y="1816.5" width="33.24" height="68.0" fill="#0004ff"/><rect x="254.36" y="1816.5" width="33.24" height="68.0" fill="#001cff"/><rect x="287.00" y="1816.5" width="33.24" height="68.0" fill="#0034ff"/><rect x="319.64" y="1816.5" width="33.24" height="68.0" fill="#004cff"/><rect x="352.29" y="1816.5" width="33.24" height="68.0" fill="#0064ff"/><rect x="384.93" y="1816.5" width="33.24" height="68.0" fill="#0080ff"/><rect x="417.57" y="1816.5" width="33.24" height="68.0" fill="#0098ff"/><rect x="450.21" y="1816.5" width="33.24" height="68.0" fill="#00b0ff"/><rect x="482.86" y="1816.5" width="33.24" height="68.0" fill="#00c8ff"/><rect x="515.50" y="1816.5" width="33.24" height="68.0" fill="#00e0fb"/><rect x="548.14" y="1816.5" width="33.24" height="68.0" fill="#0ff8e7"/><rect x="580.79" y="1816.5" width="33.24" height="68.0" fill="#23ffd4"/><rect x="613.43" y="1816.5" width="33.24" height="68.0" fill="#36ffc1"/><rect x="646.07" y="1816.5" width="33.24" height="68.0" fill="#49ffad"/><rect x="678.71" y="1816.5" width="33.24" height="68.0" fill="#5dff9a"/><rect x="711.36" y="1816.5" width="33.24" height="68.0" fill="#70ff87"/><rect x="744.00" y="1816.5" width="33.24" height="68.0" fill="#87ff70"/><rect x="776.64" y="1816.5" width="33.24" height="68.0" fill="#9aff5d"/><rect x="809.29" y="1816.5" width="33.24" height="68.0" fill="#adff49"/><rect x="841.93" y="1816.5" width="33.24" height="68.0" fill="#c1ff36"/><rect x="874.57" y="1816.5" width="33.24" height="68.0" fill="#d4ff23"/><rect x="907.21" y="1816.5" width="33.24" height="68.0" fill="#e7ff0f"/><rect x="939.86" y="1816.5" width="33.24" height="68.0" fill="#fbf100"/><rect x="972.50" y="1816.5" width="33.24" height="68.0" fill="#ffdb00"/><rect x="1005.14" y="1816.5" width="33.24" height="68.0" fill="#ffc400"/><rect x="1037.79" y="1816.5" width="33.24" height="68.0" fill="#ffae00"/><rect x="1070.43" y="1816.5" width="33.24" height="68.0" fill="#ff9400"/><rect x="1103.07" y="1816.5" width="33.24" height="68.0" fill="#ff7e00"/><rect x="1135.71" y="1816.5" width="33.24" height="68.0" fill="#ff6800"/><rect x="1168.36" y="1816.5" width="33.24" height="68.0" fill="#ff5200"/><rect x="1201.00" y="1816.5" width="33.24" height="68.0" fill="#ff3b00"/><rect x="1233.64" y="1816.5" width="33.24" height="68.0" fill="#ff2500"/><rect x="1266.29" y="1816.5" width="33.24" height="68.0" fill="#fa0f00"/><rect x="1298.93" y="1816.5" width="33.24" height="68.0" fill="#df0000"/><rect x="1331.57" y="1816.5" width="33.24" height="68.0" fill="#c40000"/><rect x="1364.21" y="1816.5" width="33.24" height="68.0" fill="#a80000"/><rect x="1396.86" y="1816.5" width="33.24" height="68.0" fill="#8d0000"/><rect x="58.5" y="1816.5" width="1371.0" height="68.0" fill="none" stroke="#000" stroke-width="3.33"/><line x1="58.50" y1="1884.5" x2="58.50" y2="1899.1" stroke="#000" stroke-width="3.33"/><text x="58.50" y="1946.0" font-size="41.67" text-anchor="middle">0</text><line x1="221.71" y1="1884.5" x2="221.71" y2="1899.1" stroke="#000" stroke-width="3.33"/><text x="221.71" y="1946.0" font-size="41.67" text-anchor="middle">25</text><line x1="384.93" y1="1884.5" x2="384.93" y2="1899.1" stroke="#000" stroke-width="3.33"/><text x="384.93" y="1946.0" font-size="41.67" text-anchor="middle">50</text><line x1="548.14" y1="1884.5" x2="548.14" y2="1899.1" stroke="#000" stroke-width="3.33"/><text x="548.14" y="1946.0" font-size="41.67" text-anchor="middle">75</text><line x1="711.36" y1="1884.5" x2="711.36" y2="1899.1" stroke="#000" stroke-width="3.33"/><text x="711.36" y="1946.0" font-size="41.67" text-anchor="middle">100</text><line x1="874.57" y1="1884.5" x2="874.57" y2="1899.1" stroke="#000" stroke-width="3.33"/><text x="874.57" y="1946.0" font-size="41.67" text-anchor="middle">125</text><line x1="1037.79" y1="1884.5" x2="1037.79" y2="1899.1" stroke="#000" stroke-width="3.33"/><text x="1037.79" y="1946.0" font-size="41.67" text-anchor="middle">150</text><line x1="1201.00" y1="1884.5" x2="1201.00" y2="1899.1" stroke="#000" stroke-width="3.33"/><text x="1201.00" y="1946.0" font-size="41.67" text-anchor="middle">175</text><line x1="1364.21" y1="1884.5" x2="1364.21" y2="1899.1" stroke="#000" stroke-width="3.33"/><text x="1364.21" y="1946.0" font-size="41.67" text-anchor="middle">200</text><g transform="translate(58.5,2083.5)" clip-path="url(#cp)"><rect x="0" y="0" width="1371" height="675" fill="#0000ff"/><path d="M37.1 48.1C39.2 47.0 43.5 45.9 49.9 45.1C56.3 44.4 66.9 43.7 75.4 43.7C83.9 43.7 93.7 44.4 101.0 45.1C108.3 45.9 113.6 46.1 119.2 48.1C124.9 50.1 134.3 54.8 134.9 57.2C135.5 59.6 128.5 61.0 122.9 62.7C117.2 64.4 108.9 66.5 101.0 67.4C93.1 68.3 83.3 68.6 75.4 68.1C67.5 67.6 59.3 66.0 53.5 64.5C47.8 63.0 43.5 61.1 40.8 59.0C38.0 56.9 37.7 53.5 37.1 51.7C36.5 49.9 35.0 49.2 37.1 48.1Z" fill="#0054ff"/><path d="M-25.0 256.9C-20.9 256.9 -7.7 257.0 -0.1 256.9C7.5 256.8 13.6 256.9 20.7 256.2C27.8 255.4 35.9 254.3 42.6 252.5C49.3 250.7 55.7 248.0 60.8 245.2C66.0 242.5 70.0 239.2 73.6 236.1C77.3 233.0 78.8 230.3 82.7 226.6C86.7 222.9 91.8 217.4 97.3 214.1C102.8 210.8 108.9 208.6 115.6 206.8C122.3 205.0 128.9 203.9 137.5 203.1C146.0 202.4 156.9 202.1 166.7 202.1C176.4 202.1 186.1 202.4 195.8 203.1C205.6 203.9 215.3 205.3 225.0 206.8C234.8 208.3 244.5 210.4 254.2 212.3C264.0 214.1 273.7 216.1 283.4 217.7C293.2 219.4 303.5 220.9 312.6 222.1C321.7 223.3 328.4 224.7 338.2 225.0C347.9 225.4 361.9 223.8 371.0 224.4C380.1 225.0 385.6 227.5 392.9 228.8C400.2 230.1 406.9 232.0 414.8 232.4C422.7 232.9 432.6 232.4 440.3 231.7C448.1 231.0 456.4 230.0 461.5 228.1C466.6 226.1 465.8 222.5 471.1 219.9C476.3 217.4 484.5 215.3 493.0 212.6C501.5 210.0 511.2 206.5 522.2 203.9C533.1 201.3 546.5 198.7 558.7 196.9C570.8 195.2 583.0 194.1 595.2 193.3C607.3 192.5 619.5 192.2 631.7 192.2C643.8 192.2 656.0 192.8 668.1 193.3C680.3 193.8 692.5 194.6 704.6 195.1C716.8 195.7 729.0 196.2 741.1 196.6C753.3 197.0 765.5 197.3 777.6 197.7C789.8 198.0 803.2 198.3 814.1 198.8C825.1 199.2 835.4 199.2 843.3 200.2C851.2 201.3 856.1 203.0 861.5 205.0C867.0 207.0 871.6 209.5 876.1 212.3C880.7 215.0 885.0 218.3 888.9 221.4C892.9 224.5 895.9 228.1 899.9 230.6C903.8 233.2 908.2 235.3 912.6 236.8C917.1 238.3 922.0 238.2 926.5 239.7C931.0 241.3 934.5 244.2 939.7 246.3C945.0 248.4 950.1 250.7 958.0 252.5C965.9 254.3 977.5 256.2 987.2 257.3C996.9 258.3 1006.6 258.7 1016.4 258.7C1026.1 258.7 1035.8 257.7 1045.6 257.3C1055.3 256.8 1066.2 257.0 1074.8 256.2C1083.3 255.4 1090.0 254.3 1096.7 252.5C1103.3 250.7 1109.4 248.0 1114.9 245.2C1120.4 242.5 1124.6 239.1 1129.5 236.1C1134.4 233.1 1139.8 229.9 1144.1 227.0C1148.4 224.0 1150.2 221.0 1155.0 218.5C1159.9 215.9 1166.6 213.0 1173.3 211.5C1180.0 210.1 1187.9 209.6 1195.2 209.7C1202.5 209.8 1211.0 210.8 1217.1 212.3C1223.2 213.7 1227.4 216.2 1231.7 218.5C1235.9 220.7 1238.4 223.9 1242.6 225.9C1246.9 227.8 1252.3 228.9 1257.2 230.3C1262.1 231.7 1264.5 232.4 1271.8 234.3C1279.1 236.2 1291.3 239.3 1301.0 241.6C1310.7 243.8 1318.5 245.8 1330.2 247.8C1341.9 249.8 1360.1 252.5 1371.1 253.6C1382.0 254.8 1391.8 254.4 1396.0 254.6L1396.0 466.1C1391.8 466.1 1383.2 466.0 1371.1 466.1C1358.9 466.2 1337.0 466.7 1322.9 466.8C1308.8 466.9 1298.6 467.3 1286.4 466.8C1274.2 466.4 1262.1 465.6 1249.9 464.3C1237.8 462.9 1223.2 460.6 1213.4 458.8C1203.7 457.0 1198.8 454.9 1191.5 453.3C1184.2 451.8 1178.2 451.1 1169.6 449.6C1161.1 448.0 1150.2 445.9 1140.4 444.1C1130.7 442.3 1120.4 440.7 1111.3 438.6C1102.1 436.5 1093.0 434.4 1085.7 431.3C1078.4 428.3 1072.6 424.6 1067.5 420.4C1062.3 416.1 1058.3 411.6 1054.7 405.8C1051.0 400.0 1048.3 392.7 1045.6 385.7C1042.8 378.7 1040.7 371.1 1038.3 363.8C1035.8 356.5 1034.0 348.3 1031.0 341.9C1027.9 335.5 1024.6 329.6 1020.0 325.5C1015.5 321.4 1009.1 317.1 1003.6 317.1C998.1 317.1 991.4 322.0 987.2 325.5C982.9 329.0 980.2 333.1 978.1 338.3C975.9 343.4 975.6 349.8 974.4 356.5C973.2 363.2 972.3 371.7 970.8 378.4C969.2 385.1 968.0 391.2 965.3 396.7C962.6 402.1 958.6 407.3 954.3 411.3C950.1 415.2 945.2 418.2 939.7 420.4C934.3 422.5 927.8 423.4 921.5 424.0C915.2 424.6 909.2 424.6 901.7 424.0C894.1 423.4 884.0 421.6 876.1 420.4C868.2 419.2 860.9 417.2 854.2 416.7C847.6 416.3 842.7 416.8 836.0 417.8C829.3 418.9 821.4 421.0 814.1 422.9C806.8 424.9 799.5 427.8 792.2 429.5C784.9 431.2 777.6 432.7 770.3 433.1C763.0 433.6 756.9 433.1 748.4 432.4C739.9 431.7 730.2 430.2 719.2 428.8C708.3 427.4 694.9 425.2 682.7 424.0C670.6 422.8 657.8 421.9 646.3 421.5C634.7 421.0 622.5 420.9 613.4 421.5C604.3 422.1 598.2 423.3 591.5 425.1C584.8 426.9 578.7 429.3 573.3 432.4C567.8 435.6 562.9 440.3 558.7 444.1C554.4 447.9 551.1 452.1 547.7 455.0C544.4 458.0 543.5 459.4 538.6 461.7C533.7 464.0 525.5 466.2 518.5 469.0C511.5 471.9 503.9 476.0 496.6 478.9C489.3 481.7 484.7 484.9 474.7 486.2C464.8 487.4 447.3 485.6 436.7 486.2C426.1 486.8 419.0 488.0 411.1 489.8C403.2 491.6 395.9 494.1 389.2 497.1C382.6 500.2 376.2 503.8 371.0 508.1C365.8 512.3 361.4 517.8 358.2 522.7C355.1 527.5 352.9 532.7 352.0 537.3C351.1 541.8 351.1 546.1 352.8 550.0C354.4 554.0 357.6 557.9 361.9 561.0C366.1 564.0 371.9 566.3 378.3 568.3C384.7 570.2 391.7 571.6 400.2 572.6C408.7 573.7 419.2 574.4 429.4 574.8C439.6 575.3 453.4 575.1 461.6 575.6C469.8 576.0 471.3 576.2 478.4 577.4C485.4 578.6 495.4 580.7 503.9 582.9C512.5 585.0 522.5 587.7 529.5 590.2C536.5 592.6 541.8 594.7 545.9 597.5C550.0 600.2 553.7 603.5 554.3 606.6C554.9 609.6 553.1 612.7 549.6 615.7C546.0 618.7 539.5 622.1 533.1 624.8C526.7 627.6 519.1 629.7 511.2 632.1C503.3 634.6 494.2 637.2 485.7 639.4C477.2 641.7 468.3 643.5 460.1 645.6C452.0 647.8 444.9 650.5 436.7 652.2C428.5 653.9 421.5 654.6 411.1 655.8C400.8 657.1 386.8 658.3 374.7 659.5C362.5 660.7 350.3 661.9 338.2 663.1C326.0 664.4 313.2 665.6 301.7 666.8C290.1 668.0 279.2 669.1 268.8 670.4C258.5 671.8 249.4 672.4 239.6 674.8C229.9 677.3 215.3 683.3 210.4 685.0L-25.0 700.0Z" fill="#0054ff"/><path d="M1396.0 554.4C1391.8 554.4 1383.2 555.1 1371.1 554.4C1358.9 553.7 1338.2 551.4 1322.9 550.0C1307.6 548.7 1293.7 547.3 1279.1 546.4C1264.5 545.5 1248.7 544.9 1235.3 544.6C1221.9 544.2 1209.8 543.9 1198.8 544.6C1187.9 545.2 1179.4 546.1 1169.6 548.2C1159.9 550.3 1149.6 553.7 1140.4 557.3C1131.3 561.0 1121.6 565.5 1114.9 570.1C1108.2 574.7 1103.5 580.1 1100.3 584.7C1097.1 589.3 1095.9 592.9 1095.9 597.5C1095.9 602.0 1097.1 607.2 1100.3 612.1C1103.5 616.9 1108.2 621.8 1114.9 626.7C1121.6 631.5 1130.1 636.7 1140.4 641.3C1150.8 645.8 1163.6 650.4 1176.9 654.0C1190.3 657.7 1205.5 660.5 1220.7 663.1C1235.9 665.8 1251.1 668.0 1268.2 669.7C1285.2 671.4 1305.7 672.5 1322.9 673.4C1340.0 674.2 1358.9 674.6 1371.1 674.8C1383.2 675.1 1391.8 674.8 1396.0 674.8Z" fill="#0054ff"/><path d="M762.3 574.5C761.4 570.8 764.7 566.3 768.5 562.8C772.3 559.3 777.9 556.1 784.9 553.7C791.9 551.2 801.3 549.5 810.5 548.2C819.6 546.9 829.3 546.0 839.7 545.6C850.0 545.3 862.2 545.5 872.5 546.4C882.8 547.2 892.7 548.8 901.7 550.8C910.7 552.7 920.9 555.7 926.6 558.1C932.3 560.4 933.6 561.7 936.1 564.6C938.6 567.5 941.9 572.2 941.6 575.6C941.3 578.9 937.1 582.5 934.3 584.7C931.4 586.9 931.1 587.5 924.4 588.7C917.8 589.9 905.5 590.8 894.4 592.0C883.3 593.1 869.5 595.2 857.9 595.6C846.3 596.1 835.4 595.3 825.1 594.5C814.7 593.8 804.4 592.5 795.9 590.9C787.3 589.3 779.6 587.4 774.0 584.7C768.4 582.0 763.2 578.1 762.3 574.5Z" fill="#0054ff"/><path d="M26.2 456.5C27.7 454.7 31.9 449.2 35.3 445.9C38.6 442.6 42.0 439.2 46.2 436.8C50.5 434.4 56.0 432.1 60.8 431.3C65.7 430.6 70.6 431.2 75.4 432.4C80.3 433.6 85.8 436.1 90.0 438.6C94.3 441.2 97.8 444.7 101.0 447.7C104.1 450.7 106.9 453.9 109.0 456.6C111.1 459.4 113.6 460.9 113.7 464.3C113.9 467.7 112.2 472.5 110.1 477.0C108.0 481.6 104.0 486.8 101.0 491.6C97.9 496.5 94.3 501.4 91.8 506.2C89.4 511.1 87.9 516.3 86.4 520.8C84.9 525.4 85.5 530.0 82.7 533.6C80.0 537.3 75.4 540.3 70.0 542.7C64.5 545.2 57.5 546.7 49.9 548.2C42.3 549.7 32.7 550.9 24.3 551.8C16.0 552.8 8.1 553.4 -0.1 553.7C-8.3 554.0 -20.9 553.7 -25.0 553.7L-25.0 468.8C-20.9 468.5 -6.5 468.4 -0.1 466.8C6.3 465.3 11.1 460.7 13.4 459.5Z" fill="#0000ff"/><path d="M94.7 -25.0C99.7 -20.9 112.7 -5.2 124.7 -0.1C136.7 5.0 152.4 3.0 166.7 5.4C180.9 7.7 197.1 10.8 210.4 14.1C223.8 17.4 236.6 20.9 246.9 25.1C257.3 29.2 266.1 33.9 272.5 38.9C278.9 44.0 282.5 49.9 285.2 55.4C288.0 60.8 289.5 66.9 288.9 71.8C288.3 76.6 286.2 80.7 281.6 84.6C277.0 88.4 270.3 91.9 261.5 94.8C252.7 97.6 240.9 99.9 228.7 101.7C216.5 103.5 202.5 104.7 188.5 105.4C174.6 106.0 159.4 106.0 144.8 105.7C130.2 105.5 115.6 104.7 101.0 103.9C86.4 103.1 70.0 101.9 57.2 101.0C44.4 100.1 33.9 99.1 24.3 98.4C14.8 97.7 8.1 96.9 -0.1 96.6C-8.3 96.3 -20.9 96.6 -25.0 96.6L-25.0 197.7C-20.9 197.7 -7.7 198.1 -0.1 197.7C7.5 197.2 13.0 196.3 20.7 195.1C28.4 193.9 37.1 192.4 46.2 190.4C55.4 188.4 65.1 185.7 75.4 183.1C85.8 180.5 96.7 177.1 108.3 174.7C119.8 172.3 132.6 170.1 144.8 168.5C156.9 166.8 169.1 165.7 181.3 164.8C193.4 164.0 205.6 163.7 217.7 163.4C229.9 163.1 242.1 162.9 254.2 163.0C266.4 163.1 278.6 163.2 290.7 163.7C302.9 164.2 315.1 165.0 327.2 165.9C339.4 166.8 351.5 168.2 363.7 169.2C375.9 170.2 389.2 171.5 400.2 172.1C411.1 172.8 419.2 173.1 429.4 173.2C439.6 173.3 451.0 173.3 461.6 172.9C472.2 172.4 481.7 171.5 493.0 170.3C504.3 169.1 517.3 167.6 529.5 165.9C541.6 164.2 553.8 162.1 566.0 160.1C578.1 158.1 590.3 156.1 602.5 153.9C614.6 151.6 626.8 149.0 639.0 146.6C651.1 144.2 663.3 141.5 675.4 139.3C687.6 137.0 699.8 134.9 711.9 133.1C724.1 131.3 737.5 129.3 748.4 128.3C759.4 127.4 767.9 127.1 777.6 127.2C787.3 127.4 796.5 128.2 806.8 129.4C817.1 130.7 828.1 132.7 839.7 134.5C851.2 136.4 861.7 138.2 876.1 140.4C890.6 142.6 913.0 145.4 926.6 147.7C940.2 149.9 946.7 152.1 958.0 153.9C969.3 155.6 982.3 157.4 994.5 158.3C1006.6 159.2 1018.8 159.5 1031.0 159.4C1043.1 159.2 1055.3 158.3 1067.5 157.5C1079.6 156.8 1091.8 155.8 1104.0 155.0C1116.1 154.2 1128.3 153.0 1140.4 152.8C1152.6 152.6 1164.8 153.1 1176.9 153.9C1189.1 154.7 1201.3 156.0 1213.4 157.5C1225.6 159.1 1237.8 160.9 1249.9 163.0C1262.1 165.1 1274.2 167.6 1286.4 170.3C1298.6 173.0 1312.0 176.5 1322.9 179.4C1333.8 182.3 1344.1 185.5 1352.1 187.8C1360.1 190.1 1363.7 191.7 1371.1 193.3C1378.4 194.9 1391.8 196.6 1396.0 197.3L1396.0 95.8C1391.8 94.9 1378.4 92.4 1371.1 90.8C1363.7 89.1 1360.1 87.7 1352.1 85.6C1344.1 83.6 1333.8 81.3 1322.9 78.3C1312.0 75.4 1298.6 71.4 1286.4 68.1C1274.2 64.9 1262.1 61.7 1249.9 59.0C1237.8 56.3 1225.6 54.0 1213.4 51.7C1201.3 49.5 1189.1 47.9 1176.9 45.5C1164.8 43.1 1151.4 40.0 1140.4 37.1C1129.5 34.2 1118.4 31.1 1111.3 28.0C1104.1 24.9 1097.4 21.2 1097.4 18.5C1097.4 15.8 1104.1 13.6 1111.3 11.6C1118.4 9.5 1129.5 7.7 1140.4 6.1C1151.4 4.5 1167.2 2.8 1176.9 1.7C1186.7 0.7 1190.2 4.3 1198.8 -0.1C1207.5 -4.6 1223.8 -20.9 1228.8 -25.0Z" fill="#0000ad"/><path d="M475.5 524.5C474.9 521.4 488.9 517.5 496.6 513.5C504.4 509.6 513.7 505.6 522.2 500.8C530.7 495.9 539.8 489.2 547.7 484.3C555.6 479.5 562.3 475.2 569.6 471.6C576.9 467.9 583.6 464.6 591.5 462.4C599.4 460.3 607.9 459.1 617.1 458.8C626.2 458.5 636.5 459.4 646.3 460.6C656.0 461.8 665.7 464.0 675.4 466.1C685.2 468.2 694.9 471.0 704.6 473.4C714.4 475.8 724.7 478.7 733.8 480.7C743.0 482.6 752.1 484.5 759.4 485.1C766.7 485.7 770.9 486.0 777.6 484.3C784.3 482.7 792.2 478.3 799.5 475.2C806.8 472.2 814.1 468.7 821.4 466.1C828.7 463.5 835.4 461.2 843.3 459.5C851.2 457.8 860.3 456.7 868.8 455.9C877.4 455.0 884.8 455.0 894.4 454.4C904.0 453.8 918.4 453.6 926.6 452.2C934.8 450.8 936.3 447.7 943.4 446.0C950.4 444.4 960.4 443.0 968.9 442.4C977.5 441.8 986.6 441.6 994.5 442.4C1002.4 443.2 1009.7 444.7 1016.4 447.1C1023.1 449.5 1027.9 451.0 1034.6 456.6C1041.3 462.2 1050.4 474.2 1056.5 480.7C1062.6 487.1 1068.4 491.0 1071.1 495.3C1073.8 499.5 1074.2 502.6 1072.9 506.2C1071.7 509.9 1068.4 513.8 1063.8 517.2C1059.3 520.5 1052.9 523.8 1045.6 526.3C1038.3 528.9 1029.1 531.0 1020.0 532.5C1010.9 534.0 1001.2 535.4 990.8 535.4C980.5 535.4 968.7 534.0 958.0 532.5C947.3 531.0 939.0 528.6 926.6 526.3C914.2 524.1 895.5 521.0 883.4 519.0C871.4 517.0 864.0 515.8 854.2 514.3C844.5 512.7 834.2 511.1 825.1 509.9C815.9 508.7 807.4 507.4 799.5 507.0C791.6 506.5 784.9 506.4 777.6 507.3C770.3 508.3 763.0 510.4 755.7 512.8C748.4 515.2 741.7 518.3 733.8 521.6C725.9 524.8 716.8 529.1 708.3 532.5C699.8 535.9 691.3 539.4 682.7 542.0C674.2 544.6 666.3 546.7 657.2 548.2C648.1 549.7 638.3 550.7 628.0 550.8C617.7 550.8 606.1 549.6 595.2 548.6C584.2 547.5 573.3 546.3 562.3 544.6C551.4 542.8 539.8 540.5 529.5 538.3C519.1 536.2 509.3 534.1 500.3 531.8C491.3 529.5 476.1 527.5 475.5 524.5Z" fill="#0000ad"/><path d="M665.2 652.6C664.6 649.2 675.0 644.4 682.7 641.3C690.5 638.1 701.0 635.9 711.9 634.0C722.9 632.0 736.3 630.7 748.4 629.6C760.6 628.5 772.8 627.9 784.9 627.4C797.1 626.9 809.2 626.9 821.4 626.7C833.6 626.4 845.7 626.1 857.9 625.9C870.1 625.7 882.9 625.6 894.4 625.6C905.8 625.5 917.2 625.4 926.6 625.6C936.0 625.7 941.8 625.9 950.7 626.7C959.6 627.4 970.8 628.5 979.9 630.3C989.0 632.1 998.9 634.9 1005.4 637.6C1012.0 640.3 1018.1 643.8 1019.3 646.7C1020.5 649.6 1017.5 652.5 1012.7 655.1C1008.0 657.7 1000.0 660.5 990.8 662.4C981.7 664.4 968.7 665.7 958.0 666.8C947.3 667.9 943.3 668.5 926.6 669.0C909.9 669.5 878.5 669.6 857.9 669.7C837.3 669.8 819.6 669.9 803.2 669.7C786.7 669.5 773.4 669.2 759.4 668.6C745.4 668.0 731.4 667.3 719.2 666.1C707.1 664.8 695.4 663.6 686.4 661.3C677.4 659.1 665.8 655.9 665.2 652.6Z" fill="#0000ad"/><path d="M-25.0 281.7C-20.9 281.7 -7.7 281.1 -0.1 281.7C7.5 282.3 13.0 284.3 20.7 285.4C28.4 286.4 38.3 287.7 46.2 287.9C54.1 288.1 60.8 287.5 68.1 286.5C75.4 285.4 82.1 283.4 90.0 281.7C97.9 280.0 106.4 277.6 115.6 276.2C124.7 274.9 133.8 273.9 144.8 273.7C155.7 273.5 169.1 274.4 181.3 275.1C193.4 275.9 205.6 277.4 217.7 278.1C229.9 278.7 243.3 279.5 254.2 279.2C265.2 278.9 274.9 277.5 283.4 276.2C291.9 275.0 298.6 272.8 305.3 271.5C312.0 270.2 317.5 268.5 323.6 268.2C329.6 267.9 336.3 268.3 341.8 269.7C347.3 271.0 352.1 273.0 356.4 276.2C360.7 279.5 364.3 284.1 367.4 289.0C370.4 293.9 372.8 299.7 374.7 305.4C376.5 311.2 376.8 317.6 378.3 323.7C379.8 329.8 381.3 335.8 383.8 341.9C386.2 348.0 389.6 354.7 392.9 360.2C396.2 365.6 399.6 371.4 403.8 374.8C408.1 378.1 413.0 379.9 418.4 380.2C423.9 380.5 431.2 379.0 436.7 376.6C442.2 374.2 447.1 369.6 451.3 365.6C455.4 361.7 459.2 357.4 461.6 352.9C464.0 348.3 464.3 344.4 465.6 338.3C466.9 332.2 468.8 324.3 469.3 316.4C469.7 308.5 467.6 298.7 468.2 290.8C468.8 282.9 470.0 275.3 472.9 268.9C475.8 262.6 479.9 257.4 485.7 252.5C491.5 247.7 499.1 243.1 507.6 239.7C516.1 236.4 527.0 234.0 536.8 232.4C546.5 230.9 556.2 230.3 566.0 230.6C575.7 230.9 586.0 232.3 595.2 234.3C604.3 236.3 612.2 239.0 620.7 242.7C629.2 246.3 638.3 251.2 646.3 256.2C654.2 261.2 661.8 266.8 668.1 272.6C674.5 278.4 680.0 284.4 684.6 290.8C689.1 297.2 692.8 304.2 695.5 310.9C698.3 317.6 700.2 324.6 701.0 331.0C701.8 337.4 701.8 343.1 700.3 349.2C698.7 355.3 696.0 362.3 691.9 367.5C687.7 372.6 681.8 376.9 675.4 380.2C669.1 383.6 661.5 386.0 653.5 387.5C645.6 389.1 636.5 389.2 628.0 389.4C619.5 389.5 610.4 388.6 602.5 388.6C594.6 388.6 587.3 388.0 580.6 389.4C573.9 390.7 567.8 393.6 562.3 396.7C556.8 399.7 552.3 403.6 547.7 407.6C543.2 411.6 539.2 416.1 535.0 420.4C530.7 424.6 526.7 428.9 522.2 433.1C517.6 437.4 512.5 442.4 507.6 445.9C502.7 449.5 498.5 452.5 493.0 454.4C487.5 456.4 480.8 456.9 474.7 457.7C468.7 458.6 465.9 459.8 456.5 459.5C447.1 459.2 429.0 456.3 418.4 455.9C407.8 455.5 401.4 456.2 392.9 457.0C384.4 457.8 375.0 459.1 367.4 460.6C359.8 462.1 353.1 463.7 347.3 466.1C341.5 468.5 336.9 471.6 332.7 475.2C328.4 478.9 325.1 483.4 321.7 488.0C318.4 492.6 316.0 498.0 312.6 502.6C309.3 507.1 305.9 511.1 301.7 515.4C297.4 519.6 292.5 524.5 287.1 528.1C281.6 531.8 275.5 534.9 268.8 537.3C262.1 539.6 254.8 541.1 246.9 542.0C239.0 542.9 229.9 543.3 221.4 542.7C212.9 542.1 203.1 540.5 195.8 538.3C188.5 536.2 182.5 533.2 177.6 530.0C172.7 526.7 169.1 523.0 166.7 519.0C164.2 515.1 163.1 510.8 163.0 506.2C162.9 501.7 164.4 496.5 165.9 491.6C167.4 486.8 170.8 481.9 172.1 477.0C173.5 472.2 174.3 466.2 174.0 462.4C173.6 458.7 172.1 456.6 170.3 454.4C168.5 452.3 166.7 452.2 163.0 449.6C159.4 446.9 153.9 442.3 148.4 438.6C142.9 435.0 136.9 431.3 130.2 427.7C123.5 424.0 115.6 420.1 108.3 416.7C101.0 413.4 93.7 410.0 86.4 407.6C79.1 405.2 71.8 403.2 64.5 402.1C57.2 401.0 49.9 400.7 42.6 401.0C35.3 401.3 27.8 402.6 20.7 404.0C13.6 405.4 7.5 408.5 -0.1 409.4C-7.7 410.3 -20.9 409.4 -25.0 409.4Z" fill="#00a8ff"/><path d="M1396.0 270.1C1391.8 269.6 1380.2 268.4 1371.1 267.1C1361.9 265.8 1351.6 264.0 1341.1 262.4C1330.7 260.7 1319.2 258.9 1308.3 257.3C1297.4 255.6 1286.4 253.7 1275.5 252.5C1264.5 251.3 1253.0 250.4 1242.6 250.0C1232.3 249.5 1222.5 249.5 1213.4 250.0C1204.3 250.4 1195.2 251.2 1187.9 252.5C1180.6 253.9 1175.7 255.6 1169.6 258.0C1163.6 260.4 1158.1 263.8 1151.4 267.1C1144.7 270.5 1136.8 274.1 1129.5 278.1C1122.2 282.0 1114.3 286.6 1107.6 290.8C1100.9 295.1 1094.2 299.3 1089.4 303.6C1084.5 307.9 1081.1 311.8 1078.4 316.4C1075.7 320.9 1073.7 325.8 1072.9 331.0C1072.2 336.1 1073.1 341.9 1074.0 347.4C1074.9 352.9 1076.2 358.6 1078.4 363.8C1080.7 369.0 1083.9 374.2 1087.5 378.4C1091.2 382.7 1095.1 386.3 1100.3 389.4C1105.5 392.4 1111.9 395.0 1118.5 396.7C1125.2 398.3 1131.9 398.8 1140.4 399.2C1149.0 399.6 1159.9 399.3 1169.6 399.2C1179.4 399.1 1188.5 398.6 1198.8 398.5C1209.2 398.4 1220.7 398.2 1231.7 398.5C1242.6 398.8 1253.6 399.4 1264.5 400.3C1275.5 401.2 1286.4 402.6 1297.4 404.0C1308.3 405.3 1317.9 407.0 1330.2 408.3C1342.5 409.7 1360.1 411.0 1371.1 412.0C1382.0 412.9 1391.8 413.6 1396.0 414.0Z" fill="#00a8ff"/><path d="M-25.0 579.9C-20.9 579.9 -8.9 579.5 -0.1 579.9C8.7 580.4 17.2 581.5 28.0 582.9C38.8 584.3 52.3 586.2 64.5 588.3C76.6 590.5 88.8 592.9 101.0 595.6C113.1 598.4 126.5 601.7 137.5 604.8C148.4 607.8 158.1 611.1 166.7 613.9C175.2 616.6 183.2 618.7 188.5 621.2C193.9 623.6 197.6 626.0 198.8 628.5C200.0 630.9 200.0 633.6 195.8 635.8C191.7 637.9 182.5 639.4 174.0 641.3C165.4 643.1 155.7 645.2 144.8 646.7C133.8 648.2 121.7 649.3 108.3 650.4C94.9 651.4 77.9 652.3 64.5 652.9C51.1 653.5 38.8 653.8 28.0 654.0C17.2 654.2 8.7 654.0 -0.1 654.0C-8.9 654.0 -20.9 654.0 -25.0 654.0Z" fill="#00a8ff"/><path d="M1396.0 577.4C1391.8 577.4 1383.2 577.4 1371.1 577.4C1358.9 577.4 1338.2 577.1 1322.9 577.4C1307.6 577.7 1292.5 578.4 1279.1 579.2C1265.7 580.0 1253.0 580.6 1242.6 582.1C1232.3 583.7 1224.1 585.8 1217.1 588.3C1210.1 590.9 1204.4 594.4 1200.7 597.5C1196.9 600.5 1194.8 603.2 1194.5 606.6C1194.1 609.9 1195.7 613.9 1198.8 617.5C1202.0 621.2 1206.7 625.1 1213.4 628.5C1220.1 631.8 1229.2 634.9 1239.0 637.6C1248.7 640.3 1260.3 643.0 1271.8 644.9C1283.4 646.8 1296.7 648.2 1308.3 649.3C1319.9 650.4 1330.7 651.0 1341.1 651.5C1351.6 652.0 1361.9 652.1 1371.1 652.2C1380.2 652.3 1391.8 652.2 1396.0 652.2Z" fill="#00a8ff"/><path d="M-25.0 299.7C-20.9 300.5 -7.7 302.8 -0.1 304.7C7.5 306.6 13.6 309.3 20.7 310.9C27.8 312.5 35.3 314.2 42.6 314.6C49.9 314.9 57.2 314.1 64.5 312.7C71.8 311.3 78.5 308.5 86.4 306.2C94.3 303.8 102.2 300.8 111.9 298.9C121.7 296.9 133.2 295.2 144.8 294.5C156.3 293.8 169.1 294.0 181.3 294.5C193.4 295.0 205.6 296.2 217.7 297.4C229.9 298.6 242.1 300.3 254.2 301.8C266.4 303.2 280.4 304.6 290.7 306.2C301.1 307.7 309.3 308.6 316.3 310.9C323.3 313.2 328.4 316.1 332.7 320.0C336.9 324.0 339.8 329.1 341.8 334.6C343.8 340.1 344.9 346.8 344.7 352.9C344.6 358.9 343.4 365.6 341.1 371.1C338.8 376.6 335.6 381.5 330.9 385.7C326.1 390.0 319.9 393.3 312.6 396.7C305.3 400.0 296.2 402.7 287.1 405.8C278.0 408.8 267.6 411.9 257.9 414.9C248.2 417.9 237.8 421.7 228.7 424.0C219.6 426.3 211.1 428.0 203.1 428.8C195.2 429.6 187.9 429.6 181.3 428.8C174.6 428.0 169.1 426.3 163.0 424.0C156.9 421.7 150.8 418.2 144.8 414.9C138.7 411.6 132.6 407.6 126.5 404.0C120.4 400.3 115.0 396.4 108.3 393.0C101.6 389.7 93.7 386.6 86.4 383.9C79.1 381.1 71.8 378.2 64.5 376.6C57.2 374.9 49.9 374.0 42.6 374.0C35.3 374.0 27.8 375.6 20.7 376.6C13.6 377.6 7.5 379.1 -0.1 380.2C-7.7 381.3 -20.9 382.7 -25.0 383.2Z" fill="#16ffe1"/><path d="M1396.0 293.1C1391.8 292.6 1380.2 291.6 1371.1 290.1C1361.9 288.6 1351.6 286.1 1341.1 284.3C1330.7 282.4 1319.2 280.6 1308.3 279.2C1297.4 277.7 1286.4 276.4 1275.5 275.5C1264.5 274.6 1253.0 274.0 1242.6 273.7C1232.3 273.4 1222.5 273.3 1213.4 273.7C1204.3 274.1 1195.8 274.6 1187.9 276.2C1180.0 277.9 1173.3 280.2 1166.0 283.5C1158.7 286.9 1150.5 291.7 1144.1 296.3C1137.7 300.9 1131.9 305.7 1127.7 310.9C1123.4 316.1 1120.2 322.2 1118.5 327.3C1116.9 332.5 1116.9 337.4 1117.8 341.9C1118.7 346.5 1120.9 350.7 1124.0 354.7C1127.2 358.6 1131.0 362.8 1136.8 365.6C1142.6 368.5 1150.2 370.4 1158.7 371.8C1167.2 373.2 1177.5 373.5 1187.9 374.0C1198.2 374.5 1209.8 374.5 1220.7 374.8C1231.7 375.0 1242.6 375.0 1253.6 375.5C1264.5 376.0 1275.5 376.9 1286.4 377.7C1297.4 378.5 1305.1 379.3 1319.2 380.2C1333.4 381.1 1358.3 382.5 1371.1 383.2C1383.9 383.8 1391.8 384.0 1396.0 384.2Z" fill="#16ffe1"/><path d="M460.9 411.3C461.2 407.9 465.7 403.6 469.3 400.3C472.8 397.0 476.6 392.4 482.0 391.2C487.5 390.0 499.0 390.9 502.1 393.0C505.3 395.1 502.5 400.3 501.0 404.0C499.5 407.6 496.2 412.0 493.0 414.9C489.8 417.8 486.3 420.6 482.0 421.5C477.8 422.4 471.0 422.1 467.4 420.4C463.9 418.7 460.6 414.6 460.9 411.3Z" fill="#16ffe1"/><path d="M85.6 349.2C85.6 344.0 88.1 339.2 91.8 334.6C95.6 330.1 101.3 325.5 108.3 321.8C115.3 318.2 124.7 315.0 133.8 312.7C142.9 310.5 152.7 309.0 163.0 308.3C173.3 307.7 184.9 307.9 195.8 309.1C206.8 310.3 218.4 312.9 228.7 315.6C239.0 318.4 249.4 321.7 257.9 325.5C266.4 329.3 274.2 333.7 279.8 338.3C285.4 342.8 290.2 348.0 291.5 352.9C292.7 357.7 290.2 362.6 287.1 367.5C283.9 372.3 278.6 377.5 272.5 382.1C266.4 386.6 258.5 390.9 250.6 394.8C242.7 398.8 233.6 402.9 225.0 405.8C216.5 408.6 208.0 410.9 199.5 412.0C191.0 413.0 181.9 413.0 174.0 412.0C166.0 410.9 159.4 408.6 152.1 405.8C144.8 402.9 137.5 399.1 130.2 394.8C122.9 390.6 114.7 385.1 108.3 380.2C101.9 375.4 95.6 370.8 91.8 365.6C88.1 360.5 85.6 354.4 85.6 349.2Z" fill="#5aff9d"/><path d="M1396.0 320.1C1391.8 319.6 1380.2 318.6 1371.1 317.1C1361.9 315.6 1351.6 313.0 1341.1 310.9C1330.7 308.8 1319.2 306.5 1308.3 304.7C1297.4 302.9 1286.4 301.2 1275.5 300.0C1264.5 298.7 1253.0 297.8 1242.6 297.4C1232.3 297.0 1221.9 296.8 1213.4 297.4C1204.9 298.0 1197.9 299.1 1191.5 301.0C1185.1 303.0 1179.2 305.9 1175.1 309.1C1171.0 312.2 1167.9 316.4 1166.7 320.0C1165.5 323.7 1166.1 327.6 1167.8 331.0C1169.5 334.3 1172.4 337.7 1176.9 340.1C1181.5 342.5 1187.3 344.2 1195.2 345.6C1203.1 347.0 1214.0 347.9 1224.4 348.5C1234.7 349.1 1246.3 349.0 1257.2 349.2C1268.2 349.5 1279.1 349.6 1290.1 349.9C1301.0 350.3 1309.4 350.7 1322.9 351.0C1336.4 351.4 1358.9 352.0 1371.1 352.1C1383.2 352.3 1391.8 352.1 1396.0 352.1Z" fill="#5aff9d"/><path d="M115.6 354.7C116.2 351.0 117.4 346.0 121.0 341.9C124.7 337.8 131.1 333.3 137.5 330.2C143.8 327.2 151.5 325.1 159.4 323.7C167.3 322.3 176.4 321.5 184.9 321.8C193.4 322.2 202.5 323.4 210.4 325.5C218.4 327.6 226.3 331.0 232.3 334.6C238.4 338.3 244.1 343.4 246.9 347.4C249.8 351.3 250.1 354.4 249.5 358.3C248.9 362.3 246.8 366.9 243.3 371.1C239.8 375.4 234.2 380.2 228.7 383.9C223.2 387.5 217.1 390.6 210.4 393.0C203.8 395.4 195.8 397.9 188.5 398.5C181.3 399.1 174.0 398.5 166.7 396.7C159.4 394.8 151.5 391.2 144.8 387.5C138.1 383.9 131.1 378.7 126.5 374.8C122.0 370.8 119.2 367.2 117.4 363.8C115.6 360.5 115.0 358.3 115.6 354.7Z" fill="#9dff5a"/><path d="M142.9 356.5C142.9 352.6 145.1 348.5 148.4 345.6C151.8 342.6 157.5 340.4 163.0 339.0C168.5 337.6 175.2 337.0 181.3 337.2C187.3 337.4 194.0 338.1 199.5 340.1C205.0 342.1 211.1 345.9 214.1 349.2C217.1 352.6 218.0 356.5 217.7 360.2C217.4 363.8 215.3 367.9 212.3 371.1C209.2 374.3 204.7 377.3 199.5 379.1C194.3 381.0 187.3 382.1 181.3 382.1C175.2 382.1 168.5 381.3 163.0 379.1C157.5 377.0 151.8 373.1 148.4 369.3C145.1 365.5 142.9 360.5 142.9 356.5Z" fill="#e4ff13"/></g><g transform="translate(58.5,2083.5)" clip-path="url(#cp)"><use href="#coast" xlink:href="#coast"/></g><rect x="58.5" y="2083.5" width="1371" height="675" fill="none" stroke="#000" stroke-width="3.33"/><text x="744" y="2058.0" font-size="50" text-anchor="middle" xml:space="preserve" style="white-space:pre">Plasmasphere (h=1500.0 km), 2015-11-06 03:00 UT</text><rect x="58.50" y="2801.5" width="114.85" height="68.0" fill="#0000ad"/><rect x="172.75" y="2801.5" width="114.85" height="68.0" fill="#0000ff"/><rect x="287.00" y="2801.5" width="114.85" height="68.0" fill="#0054ff"/><rect x="401.25" y="2801.5" width="114.85" height="68.0" fill="#00a8ff"/><rect x="515.50" y="2801.5" width="114.85" height="68.0" fill="#16ffe1"/><rect x="629.75" y="2801.5" width="114.85" height="68.0" fill="#5aff9d"/><rect x="744.00" y="2801.5" width="114.85" height="68.0" fill="#9dff5a"/><rect x="858.25" y="2801.5" width="114.85" height="68.0" fill="#e4ff13"/><rect x="972.50" y="2801.5" width="114.85" height="68.0" fill="#ffbd00"/><rect x="1086.75" y="2801.5" width="114.85" height="68.0" fill="#ff6f00"/><rect x="1201.00" y="2801.5" width="114.85" height="68.0" fill="#ff1e00"/><rect x="1315.25" y="2801.5" width="114.85" height="68.0" fill="#ad0000"/><rect x="58.5" y="2801.5" width="1371.0" height="68.0" fill="none" stroke="#000" stroke-width="3.33"/><line x1="58.50" y1="2869.5" x2="58.50" y2="2884.1" stroke="#000" stroke-width="3.33"/><text x="58.50" y="2931.0" font-size="41.67" text-anchor="middle">0</text><line x1="287.00" y1="2869.5" x2="287.00" y2="2884.1" stroke="#000" stroke-width="3.33"/><text x="287.00" y="2931.0" font-size="41.67" text-anchor="middle">5</text><line x1="515.50" y1="2869.5" x2="515.50" y2="2884.1" stroke="#000" stroke-width="3.33"/><text x="515.50" y="2931.0" font-size="41.67" text-anchor="middle">10</text><line x1="744.00" y1="2869.5" x2="744.00" y2="2884.1" stroke="#000" stroke-width="3.33"/><text x="744.00" y="2931.0" font-size="41.67" text-anchor="middle">15</text><line x1="972.50" y1="2869.5" x2="972.50" y2="2884.1" stroke="#000" stroke-width="3.33"/><text x="972.50" y="2931.0" font-size="41.67" text-anchor="middle">20</text><line x1="1201.00" y1="2869.5" x2="1201.00" y2="2884.1" stroke="#000" stroke-width="3.33"/><text x="1201.00" y="2931.0" font-size="41.67" text-anchor="middle">25</text><line x1="1429.50" y1="2869.5" x2="1429.50" y2="2884.1" stroke="#000" stroke-width="3.33"/><text x="1429.50" y="2931.0" font-size="41.67" text-anchor="middle">30</text></svg></body></html>
